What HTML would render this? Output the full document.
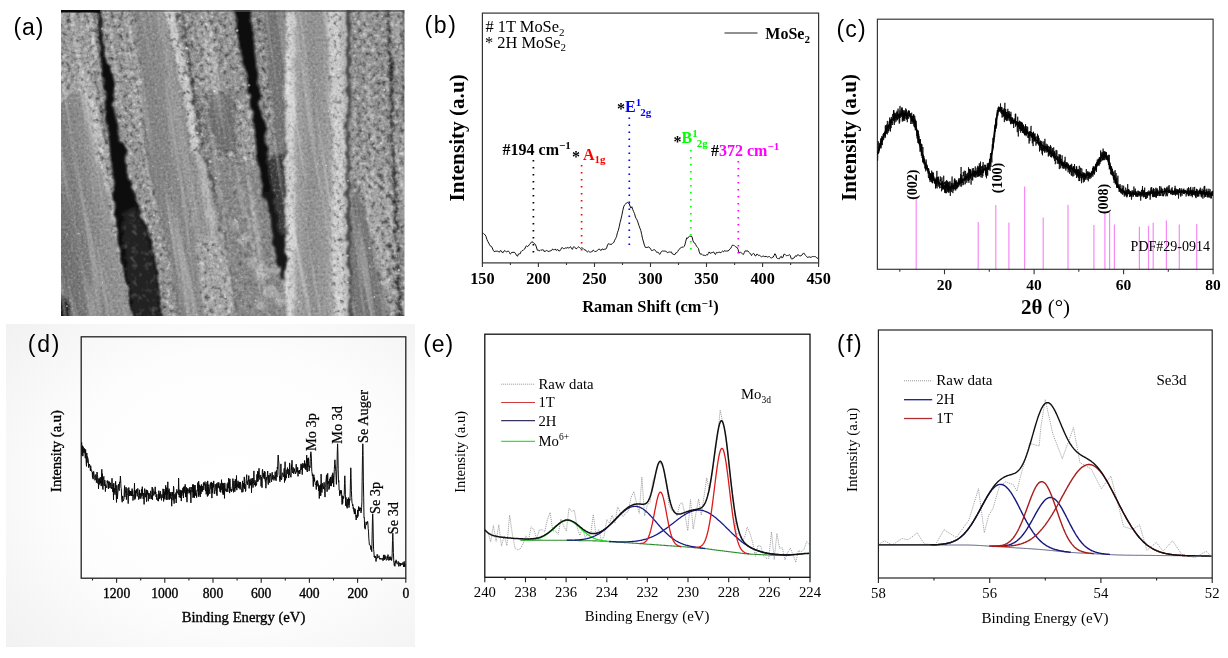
<!DOCTYPE html>
<html lang="en"><head><meta charset="utf-8"><title>MoSe2 characterization figure</title>
<style>html,body{margin:0;padding:0;background:#fff}body{width:1228px;height:658px;overflow:hidden}svg{display:block}text{white-space:pre}</style></head>
<body>
<svg width="1228" height="658" viewBox="0 0 1228 658">
<g opacity="0.999">
<defs>
<clipPath id="semclip"><rect x="61" y="10" width="343.5" height="306"/></clipPath>
<radialGradient id="vig" cx="0.55" cy="0.5" r="0.75">
 <stop offset="0" stop-color="#ffffff"/><stop offset="0.55" stop-color="#fdfdfd"/><stop offset="1" stop-color="#f1f1f1"/>
</radialGradient>
<linearGradient id="gf1" gradientUnits="userSpaceOnUse" x1="55" y1="210" x2="125" y2="197">
 <stop offset="0" stop-color="#707070"/><stop offset="0.35" stop-color="#808080"/><stop offset="0.7" stop-color="#949494"/><stop offset="1" stop-color="#868686"/>
</linearGradient>
<linearGradient id="gf2" gradientUnits="userSpaceOnUse" x1="140" y1="165" x2="210" y2="153">
 <stop offset="0" stop-color="#7c7c7c"/><stop offset="0.5" stop-color="#898989"/><stop offset="0.85" stop-color="#939393"/><stop offset="1" stop-color="#a4a4a4"/>
</linearGradient>
<linearGradient id="gf5" gradientUnits="userSpaceOnUse" x1="285.7" y1="0" x2="348" y2="0">
 <stop offset="0" stop-color="#c4c4c4"/><stop offset="0.16" stop-color="#a4a4a4"/><stop offset="0.4" stop-color="#8e8e8e"/><stop offset="0.62" stop-color="#979797"/><stop offset="0.8" stop-color="#a8a8a8"/><stop offset="1" stop-color="#b8b8b8"/>
</linearGradient>
<filter id="semblur" x="55" y="4" width="356" height="318" filterUnits="userSpaceOnUse"><feTurbulence type="fractalNoise" baseFrequency="0.09" numOctaves="2" seed="2" result="t"/><feDisplacementMap in="SourceGraphic" in2="t" scale="8" xChannelSelector="R" yChannelSelector="G" result="d"/><feGaussianBlur in="d" stdDeviation="1.0"/></filter>
<filter id="mblur" x="55" y="4" width="356" height="318" filterUnits="userSpaceOnUse"><feGaussianBlur stdDeviation="1.5"/></filter>
<filter id="fineW" x="0" y="0" width="1" height="1" color-interpolation-filters="sRGB">
 <feTurbulence type="fractalNoise" baseFrequency="0.38" numOctaves="2" seed="8"/>
 <feColorMatrix type="matrix" values="0 0 0 0 1  0 0 0 0 1  0 0 0 0 1  0.7 0 0 0 -0.37"/>
</filter>
<filter id="fineB" x="0" y="0" width="1" height="1" color-interpolation-filters="sRGB">
 <feTurbulence type="fractalNoise" baseFrequency="0.38" numOctaves="2" seed="8"/>
 <feColorMatrix type="matrix" values="0 0 0 0 0  0 0 0 0 0  0 0 0 0 0  -0.6 0 0 0 0.27"/>
</filter>
<filter id="streak" x="0" y="0" width="1" height="1" color-interpolation-filters="sRGB">
 <feTurbulence type="fractalNoise" baseFrequency="0.16 0.006" numOctaves="2" seed="5"/>
 <feColorMatrix type="matrix" values="0 0 0 0 1  0 0 0 0 1  0 0 0 0 1  1.1 0 0 0 -0.56"/>
</filter>
<filter id="grainW" x="0" y="0" width="1" height="1" color-interpolation-filters="sRGB">
 <feTurbulence type="fractalNoise" baseFrequency="0.21" numOctaves="2" seed="21"/>
 <feColorMatrix type="matrix" values="0 0 0 0 1  0 0 0 0 1  0 0 0 0 1  1.6 0 0 0 -0.86"/>
</filter>
<filter id="grainB" x="0" y="0" width="1" height="1" color-interpolation-filters="sRGB">
 <feTurbulence type="fractalNoise" baseFrequency="0.21" numOctaves="2" seed="21"/>
 <feColorMatrix type="matrix" values="0 0 0 0 0.05  0 0 0 0 0.05  0 0 0 0 0.05  -1.7 0 0 0 0.76"/>
</filter>
<filter id="grainG" x="0" y="0" width="1" height="1" color-interpolation-filters="sRGB">
 <feTurbulence type="fractalNoise" baseFrequency="0.16" numOctaves="2" seed="33"/>
 <feColorMatrix type="matrix" values="0 0 0 0 0.3  0 0 0 0 0.3  0 0 0 0 0.3  3 0 0 0 -1.55"/>
</filter>
<mask id="rough" maskUnits="userSpaceOnUse" x="61" y="10" width="343.5" height="306"><g filter="url(#mblur)"><rect x="55" y="4" width="356" height="318" fill="#000"/><polygon points="55,4 104,4 104,41 107,68 113,85 111,102 108,119 114,141 111,163 114,197 119,246 129,287 134,322 55,322" fill="#fff" /><polygon points="100,4 135.3,4 137,40 140.1,65.8 142.6,102.3 142,133.9 146,163 158,210 165,240 169,258 173,290 178,322 140,322 125,200 110,100" fill="#fff" /><polygon points="172,4 242,4 249,50 254,90 260,128 264,160 270,195 278,235 284,270 290,322 234,322 228,270 222,240 214,200 206,163 200,150 193,102 186,66 179,35" fill="#fff" /><polygon points="247,4 262,4 268,60 272,110 276,150 268,158 262,120 256,70 250,30" fill="#fff" /><polygon points="196,243 204,236 214,240 224,250 229,272 234,322 205,322 200,280" fill="#fff" /><rect x="351" y="4" width="60" height="318" fill="#fff"/><polyline points="168,8 175,35 182,66 189,102 196,150" fill="none" stroke="#fff" stroke-width="10" stroke-linecap="round" stroke-linejoin="round" /><polyline points="334,4 336,80 339,150 337,230 340,322" fill="none" stroke="#fff" stroke-width="12" stroke-linecap="round" stroke-linejoin="round" /><polyline points="288,4 289,322" fill="none" stroke="#ccc" stroke-width="5" stroke-linecap="round" stroke-linejoin="round" /><polygon points="206,163 264,160 270,195 278,235 284,270 290,322 234,322 228,270 222,240 214,200" fill="#6a6a6a" /><polygon points="55,104 66,93 74.5,87.7 84,91 91.5,102.3 96,130 101.2,165 106,180 111,197.5 118.2,246 128,287.5 133.5,322 55,322" fill="#000" /><polygon points="210,96 218,92 231,96 235,120 236,150 222,152 214,140 208,112" fill="#000" /><polygon points="351,200 358,190 366,214 372,250 380,280 384,300 392,322 351,322" fill="#000" /><polyline points="91.5,102.3 96,130 101.2,165 106,180 111,197.5 118.2,246 128,287.5 132.8,316" fill="none" stroke="#fff" stroke-width="4" stroke-linecap="round" stroke-linejoin="round" /><polygon points="98.2,4 98.4,17 99.8,37 101.5,56.5 103.5,78 105.5,92 107.5,114 108.5,130 110.5,152 112,174 114,197.5 118.5,246 128,287.5 133.5,322 163,322 159.6,287.5 152.3,246.1 135.3,197.5 126.5,174 125.5,152 117.5,130 113.5,114 112.5,92 113,78 106.5,56.5 102.6,37 100.2,17 99.8,4" fill="#000" /><polygon points="123,215 136,205 150,246 158,287 161,322 136,322 130,287 124,250" fill="#000" /></g></mask><mask id="lowgap" maskUnits="userSpaceOnUse" x="61" y="10" width="343.5" height="306"><g filter="url(#mblur)"><rect x="55" y="4" width="356" height="318" fill="#000"/><polygon points="123,215 136,205 150,246 158,287 161,322 136,322 130,287 124,250" fill="#fff" /></g></mask>
</defs>
<rect x="0" y="0" width="1228" height="658" fill="#fff"/>
<rect x="6" y="324" width="409" height="323" fill="url(#vig)"/>
<text x="27.8" y="352.2" font-family='"Liberation Sans", "DejaVu Sans", sans-serif' font-size="23" font-weight="normal" text-anchor="start" fill="#000" letter-spacing="1.8">(d)</text>
<rect x="81.2" y="336.8" width="324.6" height="241.4" fill="none" stroke="#222" stroke-width="1.3"/>
<path d="M405.8 578.2v4.6M357.6 578.2v4.6M309.4 578.2v4.6M261.2 578.2v4.6M213 578.2v4.6M164.8 578.2v4.6M116.6 578.2v4.6" stroke="#222" stroke-width="1.1" fill="none"/>
<path d="M381.7 578.2v2.3M333.5 578.2v2.3M285.3 578.2v2.3M237.1 578.2v2.3M188.9 578.2v2.3M140.7 578.2v2.3M92.5 578.2v2.3" stroke="#222" stroke-width="1.1" fill="none"/>
<text x="405.8" y="597.5" font-family='"Liberation Serif", "DejaVu Serif", serif' font-size="13.6" font-weight="normal" text-anchor="middle" fill="#000" stroke="#000" stroke-width="0.35">0</text>
<text x="357.6" y="597.5" font-family='"Liberation Serif", "DejaVu Serif", serif' font-size="13.6" font-weight="normal" text-anchor="middle" fill="#000" stroke="#000" stroke-width="0.35">200</text>
<text x="309.4" y="597.5" font-family='"Liberation Serif", "DejaVu Serif", serif' font-size="13.6" font-weight="normal" text-anchor="middle" fill="#000" stroke="#000" stroke-width="0.35">400</text>
<text x="261.2" y="597.5" font-family='"Liberation Serif", "DejaVu Serif", serif' font-size="13.6" font-weight="normal" text-anchor="middle" fill="#000" stroke="#000" stroke-width="0.35">600</text>
<text x="213" y="597.5" font-family='"Liberation Serif", "DejaVu Serif", serif' font-size="13.6" font-weight="normal" text-anchor="middle" fill="#000" stroke="#000" stroke-width="0.35">800</text>
<text x="164.8" y="597.5" font-family='"Liberation Serif", "DejaVu Serif", serif' font-size="13.6" font-weight="normal" text-anchor="middle" fill="#000" stroke="#000" stroke-width="0.35">1000</text>
<text x="116.6" y="597.5" font-family='"Liberation Serif", "DejaVu Serif", serif' font-size="13.6" font-weight="normal" text-anchor="middle" fill="#000" stroke="#000" stroke-width="0.35">1200</text>
<text x="243.5" y="621.6" font-family='"Liberation Serif", "DejaVu Serif", serif' font-size="14.7" font-weight="normal" text-anchor="middle" fill="#000" stroke="#000" stroke-width="0.35">Binding Energy (eV)</text>
<text x="61" y="451" font-family='"Liberation Serif", "DejaVu Serif", serif' font-size="14.6" font-weight="normal" text-anchor="middle" fill="#000" transform="rotate(-90 61 451)" stroke="#000" stroke-width="0.35">Intensity (a.u)</text>
<polyline points="81.4,444.3 81.7,442.5 82,455.5 82.3,445.6 82.6,448.6 82.9,456.2 83.2,446.7 83.5,448.8 83.8,452.8 84.1,451.3 84.4,448.4 84.7,453.3 85,453.4 85.3,458.2 85.6,449.4 85.9,454.2 86.2,462.7 86.5,466.4 86.8,453 87.1,462.7 87.4,456.6 87.7,457.8 88,458.4 88.3,461 88.6,467.7 88.9,467.2 89.2,465.1 89.5,464 89.8,466.3 90.1,466.5 90.4,471 90.7,465.7 91,469 91.3,469.3 91.6,470.2 91.9,472.1 92.2,472.3 92.5,477.5 92.8,471.9 93.1,479.2 93.4,471.7 93.7,471.3 94,474.1 94.3,475.6 94.6,475.6 94.9,480.3 95.2,480 95.5,477.7 95.8,474.5 96.1,475.9 96.4,482.6 96.7,478 97,472 97.3,474.9 97.6,475.8 97.9,483.4 98.2,478.5 98.5,488.8 98.8,482.5 99.1,480.6 99.4,478.5 99.7,484.5 100,479.5 100.3,477.2 100.6,483.2 100.9,481 101.2,486.1 101.5,480.9 101.8,469.3 102.1,484.8 102.4,473.7 102.7,488.2 103,489.5 103.3,480.2 103.6,477.2 103.9,476.4 104.2,486 104.5,481.6 104.8,480.1 105.1,481.7 105.4,491.6 105.7,484.5 106,486.3 106.3,486.5 106.6,487.7 106.9,488 107.2,480.7 107.5,482.9 107.8,480.7 108.1,481 108.4,488.9 108.7,482.2 109,484.1 109.3,481.6 109.6,482.2 109.9,488.1 110.2,483.1 110.5,483 110.8,487.3 111.1,487.4 111.4,488.8 111.7,486.3 112,478.3 112.3,489.1 112.6,489 112.9,492 113.2,483.9 113.5,499.9 113.8,483.2 114.1,492.7 114.4,490.1 114.7,488.2 115,494.7 115.3,490.2 115.6,481.3 115.9,486.7 116.2,494.2 116.5,502.4 116.8,485.3 117.1,492.1 117.4,498.9 117.7,495 118,490.5 118.3,485.7 118.6,484.1 118.9,488.9 119.2,490.7 119.5,481.9 119.8,483 120.1,482.1 120.4,476 120.7,480.5 121,487.9 121.3,488.6 121.6,496.9 121.9,500.2 122.2,502.2 122.5,496 122.8,496.2 123.1,499.5 123.4,500.8 123.7,499.6 124,498.5 124.3,490 124.6,485.6 124.9,497 125.2,492.6 125.5,492.8 125.8,489 126.1,487.1 126.4,499.6 126.7,495.3 127,488.3 127.3,495 127.6,494.7 127.9,495.7 128.2,503.6 128.5,493.2 128.8,487.5 129.1,493.6 129.4,490.5 129.7,496 130,494.5 130.3,495.1 130.6,491 130.9,495.5 131.2,491.3 131.5,496 131.8,492.3 132.1,488.6 132.4,496 132.7,490.5 133,500.5 133.3,495.9 133.6,496 133.9,494.4 134.2,493.7 134.5,483 134.8,499.6 135.1,490.3 135.4,498.4 135.7,491.1 136,493.4 136.3,493.1 136.6,489.3 136.9,493.3 137.2,496.4 137.5,492.3 137.8,488.4 138.1,491.6 138.4,495.4 138.7,499.6 139,498.1 139.3,495.6 139.6,489.8 139.9,498.5 140.2,494.5 140.5,493.3 140.8,498.6 141.1,497.3 141.4,496.8 141.7,489.2 142,491.7 142.3,486.7 142.6,495.5 142.9,494.7 143.2,498.9 143.5,495.6 143.8,493 144.1,504.4 144.4,490 144.7,488.6 145,492 145.3,497.2 145.6,493.2 145.9,492.8 146.2,489.7 146.5,501.7 146.8,492 147.1,490 147.4,494.4 147.7,491.3 148,493.9 148.3,501.2 148.6,493 148.9,494.8 149.2,493.4 149.5,494.2 149.8,498.9 150.1,497.6 150.4,493.6 150.7,490.9 151,494.6 151.3,499.1 151.6,495.2 151.9,494.7 152.2,487 152.5,499.8 152.8,488.4 153.1,489.3 153.4,493.5 153.7,495.4 154,495.4 154.3,491.7 154.6,493.7 154.9,492.4 155.2,486.8 155.5,494 155.8,491.9 156.1,497 156.4,494.4 156.7,499.5 157,498.3 157.3,499.2 157.6,500.6 157.9,498.2 158.2,494.2 158.5,501.2 158.8,490.7 159.1,494.8 159.4,498.9 159.7,493.6 160,498.2 160.3,491.2 160.6,492.4 160.9,497.4 161.2,498.1 161.5,500.3 161.8,494.5 162.1,496.2 162.4,497.7 162.7,496.9 163,488.8 163.3,492.1 163.6,501.4 163.9,489 164.2,497.6 164.5,492.7 164.8,499.3 165.1,491.1 165.4,494.9 165.7,485.3 166,494.4 166.3,499.5 166.6,487.7 166.9,500 167.2,491.3 167.5,494.3 167.8,481.8 168.1,499.5 168.4,490.5 168.7,492 169,488.6 169.3,489.9 169.6,499.7 169.9,492.1 170.2,498.5 170.5,493.6 170.8,496 171.1,492 171.4,496.3 171.7,506.2 172,497.3 172.3,496.6 172.6,492 172.9,498.8 173.2,500.3 173.5,486.2 173.8,487.6 174.1,503.6 174.4,495.8 174.7,494.4 175,496.3 175.3,498.7 175.6,497.3 175.9,492.6 176.2,503 176.5,493.5 176.8,489.4 177.1,490.8 177.4,492.7 177.7,491.5 178,492.3 178.3,494.6 178.6,478 178.9,489.4 179.2,497.3 179.5,495.5 179.8,489.7 180.1,489.9 180.4,498 180.7,491.5 181,490.2 181.3,501.1 181.6,490.8 181.9,495.6 182.2,492.2 182.5,492.6 182.8,487.9 183.1,488.4 183.4,498 183.7,486.9 184,493.3 184.3,486.5 184.6,490.8 184.9,491.7 185.2,484.3 185.5,497 185.8,490.9 186.1,497.2 186.4,487.3 186.7,495.7 187,502.2 187.3,492.4 187.6,488.4 187.9,493.5 188.2,491.9 188.5,490.2 188.8,490.6 189.1,488.4 189.4,493 189.7,489.2 190,487 190.3,494.6 190.6,490 190.9,502.9 191.2,489.5 191.5,487.3 191.8,488 192.1,492.2 192.4,487.2 192.7,484.5 193,497.8 193.3,484.5 193.6,497.1 193.9,490.8 194.2,485.2 194.5,497.7 194.8,489 195.1,485.2 195.4,490.1 195.7,495.7 196,492.8 196.3,493.4 196.6,497.6 196.9,490.5 197.2,491.2 197.5,488.3 197.8,482.6 198.1,488.6 198.4,496.6 198.7,481.2 199,495.3 199.3,490.2 199.6,484.8 199.9,489.2 200.2,497 200.5,486.1 200.8,492.3 201.1,493.9 201.4,484.5 201.7,491.4 202,490.9 202.3,486.2 202.6,491.5 202.9,486.6 203.2,485.6 203.5,482.5 203.8,489.9 204.1,486.1 204.4,485.4 204.7,482.6 205,481.6 205.3,484.2 205.6,491.1 205.9,483.9 206.2,494.3 206.5,489.4 206.8,488.2 207.1,482 207.4,496.5 207.7,480.9 208,490 208.3,495.4 208.6,486.7 208.9,484.5 209.2,487.5 209.5,491.8 209.8,493.9 210.1,490.4 210.4,482.8 210.7,484.6 211,488.6 211.3,481.9 211.6,486.6 211.9,498.1 212.2,482.9 212.5,493.1 212.8,483.5 213.1,486.2 213.4,487.5 213.7,480.9 214,487.4 214.3,493.8 214.6,491.2 214.9,491.1 215.2,484.2 215.5,487.3 215.8,488.9 216.1,491.1 216.4,494.2 216.7,483.4 217,495.8 217.3,486.7 217.6,486.9 217.9,482.5 218.2,487.8 218.5,487 218.8,482.4 219.1,486.8 219.4,488.7 219.7,486.2 220,491.7 220.3,483.5 220.6,492.3 220.9,487.3 221.2,489.9 221.5,479.7 221.8,488.8 222.1,488 222.4,492.6 222.7,482.9 223,494.6 223.3,483.3 223.6,494.4 223.9,491 224.2,484.9 224.5,498.4 224.8,482.9 225.1,487.6 225.4,489.3 225.7,490.6 226,489.2 226.3,491.8 226.6,490.2 226.9,488.1 227.2,483.6 227.5,486.3 227.8,491.9 228.1,482.4 228.4,488.2 228.7,478.2 229,484.3 229.3,480 229.6,493.1 229.9,478.9 230.2,486.2 230.5,490.5 230.8,489.9 231.1,490.6 231.4,491.9 231.7,489.1 232,490.7 232.3,486.6 232.6,486.6 232.9,478.6 233.2,487.4 233.5,492.4 233.8,483 234.1,481 234.4,486.8 234.7,491.5 235,491.8 235.3,479.2 235.6,488.2 235.9,483 236.2,487.2 236.5,475.5 236.8,490.1 237.1,483.9 237.4,486.6 237.7,484.8 238,480.8 238.3,487.9 238.6,483.2 238.9,482.2 239.2,488.3 239.5,484.8 239.8,481.9 240.1,489.4 240.4,482.3 240.7,484.8 241,488.3 241.3,489.2 241.6,490.3 241.9,492.3 242.2,484.8 242.5,480.9 242.8,492.1 243.1,490.8 243.4,483 243.7,487.5 244,482.5 244.3,476.9 244.6,488.8 244.9,485.5 245.2,484.4 245.5,491.5 245.8,490.3 246.1,480.6 246.4,478.4 246.7,474.7 247,483.4 247.3,481.5 247.6,484.8 247.9,483.1 248.2,480 248.5,481 248.8,475.6 249.1,488.4 249.4,480.2 249.7,485.4 250,479.4 250.3,482.7 250.6,485.2 250.9,480.9 251.2,478.4 251.5,492.7 251.8,481 252.1,484.5 252.4,481.4 252.7,478.1 253,487.6 253.3,483.3 253.6,483 253.9,470.9 254.2,482.6 254.5,485 254.8,482.4 255.1,480.3 255.4,486.4 255.7,482 256,483.4 256.3,485.4 256.6,485.2 256.9,474.4 257.2,481.9 257.5,476.8 257.8,471 258.1,481.4 258.4,472 258.7,477.8 259,468.3 259.3,475.1 259.6,477.5 259.9,479.6 260.2,477 260.5,475.2 260.8,475.2 261.1,486.3 261.4,477 261.7,478.6 262,487.7 262.3,470.9 262.6,469.4 262.9,474.1 263.2,476.9 263.5,473.4 263.8,478.4 264.1,478.1 264.4,471.3 264.7,479.2 265,471.7 265.3,481.5 265.6,479.2 265.9,488.2 266.2,481.9 266.5,477.1 266.8,479.5 267.1,478.5 267.4,474.4 267.7,471 268,482.7 268.3,484.6 268.6,475.4 268.9,476.3 269.2,475.2 269.5,482 269.8,482.8 270.1,473.2 270.4,475.6 270.7,474.6 271,478 271.3,480.5 271.6,481.8 271.9,475.6 272.2,472.2 272.5,479.2 272.8,479.4 273.1,475 273.4,477.3 273.7,478.1 274,480.4 274.3,476.6 274.6,478.5 274.9,477 275.2,471.7 275.5,479.3 275.8,476.5 276.1,480.8 276.4,470.4 276.7,472.6 277,477.1 277.3,467 277.6,469.1 277.9,459.9 278.2,455 278.5,460.1 278.8,462.1 279.1,474.2 279.4,475.4 279.7,480 280,481.7 280.3,476.7 280.6,479.2 280.9,463.9 281.2,477.3 281.5,479.8 281.8,478.7 282.1,475.7 282.4,472.9 282.7,472.8 283,474.5 283.3,476.3 283.6,476.9 283.9,473.8 284.2,468.4 284.5,482.5 284.8,470.1 285.1,461.7 285.4,480.4 285.7,478.5 286,474.6 286.3,478.1 286.6,475.6 286.9,469.6 287.2,473.9 287.5,467.6 287.8,470.2 288.1,469.1 288.4,473.8 288.7,477.9 289,469.9 289.3,474.9 289.6,462.9 289.9,467.7 290.2,475 290.5,476.9 290.8,476.7 291.1,477.2 291.4,464.7 291.7,469.7 292,460.2 292.3,471.2 292.6,473 292.9,470.2 293.2,467.4 293.5,473.6 293.8,474 294.1,472.1 294.4,468.6 294.7,471.5 295,471.6 295.3,472.3 295.6,473.9 295.9,470.8 296.2,464.2 296.5,469.5 296.8,472.4 297.1,468.6 297.4,471.5 297.7,467.3 298,476.4 298.3,472 298.6,470.6 298.9,473.3 299.2,473.2 299.5,470 299.8,474 300.1,472.3 300.4,470.1 300.7,469 301,463.8 301.3,469.6 301.6,469.4 301.9,464.6 302.2,474.6 302.5,468.1 302.8,463.1 303.1,466 303.4,467.6 303.7,467.4 304,463.9 304.3,467.5 304.6,460.5 304.9,465.1 305.2,468.9 305.5,463.7 305.8,469.6 306.1,470.1 306.4,463.6 306.7,455.1 307,470.1 307.3,472 307.6,458.4 307.9,466.5 308.2,466.9 308.5,457.8 308.8,462.6 309.1,471.1 309.4,467.3 309.7,465.8 310,467.8 310.3,458.5 310.6,453.3 310.9,451.8 311.2,454.1 311.5,461.2 311.8,471.3 312.1,473.4 312.4,476 312.7,473.8 313,479.5 313.3,486.6 313.6,476.2 313.9,474.8 314.2,481.2 314.5,477.7 314.8,481.9 315.1,482.2 315.4,484.8 315.7,484.3 316,485.4 316.3,489.5 316.6,480.8 316.9,485.1 317.2,486.4 317.5,480.5 317.8,481.8 318.1,484.5 318.4,483.9 318.7,490.8 319,487.1 319.3,498.5 319.6,485.5 319.9,485.9 320.2,496 320.5,484.6 320.8,495.5 321.1,474.1 321.4,483.8 321.7,491.9 322,492.5 322.3,487.8 322.6,483.3 322.9,485.2 323.2,488.7 323.5,486.7 323.8,489.1 324.1,482.3 324.4,488.4 324.7,490 325,497.1 325.3,487.5 325.6,487.3 325.9,480.9 326.2,478.8 326.5,474.8 326.8,485.6 327.1,491.7 327.4,483 327.7,473.3 328,483.8 328.3,482.1 328.6,481.2 328.9,489.6 329.2,487.3 329.5,488.2 329.8,478.8 330.1,483.3 330.4,477.2 330.7,486 331,476.8 331.3,486.1 331.6,481.9 331.9,481.7 332.2,474.8 332.5,483.2 332.8,472.8 333.1,474.9 333.4,475.8 333.7,487 334,477.1 334.3,469.7 334.6,464.2 334.9,459.8 335.2,463.5 335.5,468.1 335.8,471.4 336.1,477 336.4,484.4 336.7,474.8 337,465.7 337.3,450.9 337.6,443.8 337.9,453 338.2,469.6 338.5,482.2 338.8,480.5 339.1,490.1 339.4,490.2 339.7,495.8 340,494.7 340.3,490.2 340.6,493.2 340.9,493.8 341.2,492.9 341.5,490.5 341.8,498.3 342.1,504.5 342.4,495.7 342.7,503.4 343,496.2 343.3,496.9 343.6,498.7 343.9,496.8 344.2,495.4 344.5,483.4 344.8,475.8 345.1,483.1 345.4,494.4 345.7,505.8 346,497.4 346.3,501.9 346.6,506.5 346.9,505.5 347.2,508.3 347.5,499.2 347.8,499.9 348.1,505.3 348.4,497.6 348.7,505.2 349,507.6 349.3,505.6 349.6,498.9 349.9,500.4 350.2,493.3 350.5,478.2 350.8,467.8 351.1,477.5 351.4,490.5 351.7,497.7 352,503 352.3,503.5 352.6,505.7 352.9,504.5 353.2,508.8 353.5,507.5 353.8,511.4 354.1,511.2 354.4,514.1 354.7,508.5 355,509.4 355.3,509.1 355.6,514.6 355.9,517.7 356.2,520 356.5,516.7 356.8,514.9 357.1,518 357.4,514.3 357.7,509.9 358,516.4 358.3,511.2 358.6,506.5 358.9,511.1 359.2,508.1 359.5,510.7 359.8,507.5 360.1,508.8 360.4,507.8 360.7,509.9 361,512.9 361.3,511.7 361.6,507.4 361.9,501.7 362.2,476.2 362.5,455.3 362.8,443.8 363.1,455.7 363.4,481.8 363.7,497.7 364,517.6 364.3,517.2 364.6,527.5 364.9,527 365.2,529.2 365.5,525.4 365.8,525.5 366.1,521.8 366.4,524.6 366.7,524.4 367,522.8 367.3,523.2 367.6,521.4 367.9,523.3 368.2,528.5 368.5,531.1 368.8,538.1 369.1,541.5 369.4,544.9 369.7,544.9 370,545 370.3,545.2 370.6,547.2 370.9,549.7 371.2,546.3 371.5,549.4 371.8,551.7 372.1,537 372.4,521.9 372.7,514 373,522.1 373.3,538.1 373.6,549.3 373.9,551.8 374.2,556.9 374.5,555.8 374.8,557.7 375.1,556.2 375.4,557.9 375.7,556.3 376,561.5 376.3,558.5 376.6,558.9 376.9,556.7 377.2,554.3 377.5,556.6 377.8,558.1 378.1,557.6 378.4,556.6 378.7,556.4 379,555.7 379.3,557.2 379.6,559.1 379.9,559.3 380.2,559.4 380.5,558.1 380.8,558.8 381.1,558.4 381.4,559.2 381.7,558.9 382,559.5 382.3,558.2 382.6,558.3 382.9,560.8 383.2,560.6 383.5,554.9 383.8,559.1 384.1,559.1 384.4,559.9 384.7,554.9 385,555.6 385.3,557.7 385.6,558.6 385.9,556.5 386.2,560.3 386.5,560.2 386.8,559.6 387.1,559.9 387.4,556.5 387.7,558.2 388,554.6 388.3,560.1 388.6,560.4 388.9,559.2 389.2,556.9 389.5,558.6 389.8,560.2 390.1,556.5 390.4,559 390.7,559.8 391,557.4 391.3,557.7 391.6,560.5 391.9,558.7 392.2,553.6 392.5,540.4 392.8,533.2 393.1,540.6 393.4,552.6 393.7,559.9 394,563.3 394.3,565.5 394.6,563.3 394.9,566.3 395.2,561 395.5,562.9 395.8,563.3 396.1,559.8 396.4,560.7 396.7,562.9 397,563.6 397.3,564.2 397.6,563.7 397.9,563.1 398.2,561.4 398.5,563.8 398.8,566.4 399.1,564.5 399.4,562.7 399.7,564.1 400,564.6 400.3,566.1 400.6,563.1 400.9,564.9 401.2,565 401.5,563.6 401.8,564 402.1,563.5 402.4,564.4 402.7,564.8 403,562.3 403.3,564.2 403.6,567 403.9,564.5 404.2,561.4 404.5,567 404.8,564.2 405.1,564.9 405.4,565.5" fill="none" stroke="#0a0a0a" stroke-width="1.0" stroke-linejoin="round" />
<text x="316.4" y="450.9" font-family='"Liberation Serif", "DejaVu Serif", serif' font-size="14.3" font-weight="normal" text-anchor="start" fill="#000" transform="rotate(-90 316.4 450.9)" stroke="#000" stroke-width="0.25">Mo 3p</text>
<text x="342.2" y="443.8" font-family='"Liberation Serif", "DejaVu Serif", serif' font-size="14.3" font-weight="normal" text-anchor="start" fill="#000" transform="rotate(-90 342.2 443.8)" stroke="#000" stroke-width="0.25">Mo 3d</text>
<text x="368.4" y="442.9" font-family='"Liberation Serif", "DejaVu Serif", serif' font-size="14.3" font-weight="normal" text-anchor="start" fill="#000" transform="rotate(-90 368.4 442.9)" stroke="#000" stroke-width="0.25">Se Auger</text>
<text x="379.6" y="514" font-family='"Liberation Serif", "DejaVu Serif", serif' font-size="14.3" font-weight="normal" text-anchor="start" fill="#000" transform="rotate(-90 379.6 514)" stroke="#000" stroke-width="0.25">Se 3p</text>
<text x="398" y="534.2" font-family='"Liberation Serif", "DejaVu Serif", serif' font-size="14.3" font-weight="normal" text-anchor="start" fill="#000" transform="rotate(-90 398 534.2)" stroke="#000" stroke-width="0.25">Se 3d</text>
<text x="13.4" y="35.4" font-family='"Liberation Sans", "DejaVu Sans", sans-serif' font-size="23" font-weight="normal" text-anchor="start" fill="#000" letter-spacing="1.0">(a)</text>
<g clip-path="url(#semclip)"><g filter="url(#semblur)">
<rect x="55" y="4" width="356" height="318" fill="#8c8c8c"/>
<polygon points="55,4 104,4 104,41 107,68 113,85 111,102 108,119 114,141 111,163 114,197 119,246 129,287 134,322 55,322" fill="#999999" />
<polyline points="97,8 100,41 99,62 100,80 104,102 104,120 108,140" fill="none" stroke="#6c6c6c" stroke-width="9" stroke-linecap="round" stroke-linejoin="round" opacity="0.8"/>
<polygon points="55,104 66,93 74.5,87.7 84,91 91.5,102.3 96,130 101.2,165 106,180 111,197.5 118.2,246 128,287.5 133.5,322 55,322" fill="url(#gf1)" />
<polyline points="91.5,102.3 96,130 101.2,165 106,180 111,197.5 118.2,246 128,287.5 132.8,316" fill="none" stroke="#b9b9b9" stroke-width="3" stroke-linecap="round" stroke-linejoin="round" />
<polyline points="57,106 66,94 74.5,88.7 84,92 91.5,103" fill="none" stroke="#c2c2c2" stroke-width="2" stroke-linecap="round" stroke-linejoin="round" />
<polygon points="55,290 66,296 70,322 55,322" fill="#1a1a1a" />
<polygon points="100,4 135.3,4 137,40 140.1,65.8 142.6,102.3 142,133.9 146,163 158,210 165,240 169,258 173,290 178,322 140,322 125,200 110,100" fill="#939393" />
<polygon points="135.3,4 172,4 179,35 186,66 193,102 200,150 206,163 214,200 222,240 228,270 234,322 178,322 173,290 169,258 165,240 158,210 146,163 142,133.9 142.6,102.3 140.1,65.8 137,40" fill="url(#gf2)" />
<polyline points="158,4 166,50 176,110 187,170 198,230 210,322" fill="none" stroke="#a0a0a0" stroke-width="7" stroke-linecap="round" stroke-linejoin="round" opacity="0.7"/>
<polyline points="168,8 175,35 182,66 189,102 196,150" fill="none" stroke="#c6c6c6" stroke-width="9.5" stroke-linecap="round" stroke-linejoin="round" />
<polyline points="196,150 202,170 209,205 215,240" fill="none" stroke="#b4b4b4" stroke-width="5" stroke-linecap="round" stroke-linejoin="round" />
<polygon points="196,243 204,236 214,240 224,250 229,272 234,322 205,322 200,280" fill="#a4a4a4" />
<polygon points="172,4 242,4 249,50 254,90 260,128 264,160 270,195 278,235 284,270 290,322 234,322 228,270 222,240 214,200 206,163 200,150 193,102 186,66 179,35" fill="#868686" />
<polygon points="176,4 240,4 246,50 250,88 214,92 200,96 190,70 183,35" fill="#929292" />
<polygon points="210,96 218,92 231,96 235,120 236,150 222,152 214,140 208,112" fill="#6f6f6f" />
<polygon points="236,100 250,92 256,128 262,160 248,170 240,150" fill="#999999" />
<polyline points="184,8 189,54 196,102 202,151 209,170 217,205 226,250" fill="none" stroke="#4e4e4e" stroke-width="3.2" stroke-linecap="round" stroke-linejoin="round" />
<polyline points="226,250 232,285 236,316" fill="none" stroke="#6a6a6a" stroke-width="2.5" stroke-linecap="round" stroke-linejoin="round" />
<circle cx="262" cy="272" r="8" fill="#a8a8a8"/>
<circle cx="252" cy="262" r="5" fill="#a8a8a8"/>
<circle cx="270" cy="292" r="7" fill="#a8a8a8"/>
<circle cx="280" cy="300" r="6" fill="#a8a8a8"/>
<circle cx="244" cy="240" r="6" fill="#a8a8a8"/>
<circle cx="236" cy="225" r="5" fill="#a8a8a8"/>
<circle cx="275" cy="270" r="5" fill="#a8a8a8"/>
<circle cx="258" cy="305" r="5" fill="#a8a8a8"/>
<polygon points="244,4 288,4 288,322 286,322 284,270 278,235 270,195 264,160 260,128 254,90 249,50" fill="#747474" />
<polygon points="247,4 262,4 268,60 272,110 276,150 268,158 262,120 256,70 250,30" fill="#8a8a8a" />
<polygon points="264,160 288,150 288,282 283,270 278,235 270,195" fill="#3c3c3c" />
<polygon points="98.2,4 98.4,17 99.8,37 101.5,56.5 103.5,78 105.5,92 107.5,114 108.5,130 110.5,152 112,174 114,197.5 118.5,246 128,287.5 133.5,322 163,322 159.6,287.5 152.3,246.1 135.3,197.5 126.5,174 125.5,152 117.5,130 113.5,114 112.5,92 113,78 106.5,56.5 102.6,37 100.2,17 99.8,4" fill="#1a1a1a" />
<polygon points="285.7,4 348,4 348.5,322 285.7,322" fill="url(#gf5)" />
<polyline points="334,4 336,80 339,150 337,230 340,322" fill="none" stroke="#cdcdcd" stroke-width="11" stroke-linecap="round" stroke-linejoin="round" opacity="0.85"/>
<polyline points="290.5,4 290.5,322" fill="none" stroke="#cccccc" stroke-width="8.5" stroke-linecap="round" stroke-linejoin="round" />
<polyline points="349,4 348,160 349.5,322" fill="none" stroke="#5a5a5a" stroke-width="3.0" stroke-linecap="round" stroke-linejoin="round" />
<polygon points="351,4 411,4 411,322 351,322" fill="#909090" />
<polygon points="351,200 358,190 366,214 372,250 380,280 384,300 392,322 351,322" fill="#767676" />
<polygon points="366,170 398,168 400,300 388,296 381,275 373,246 367,212" fill="#a2a2a2" />
<polyline points="388.5,4 391,100 395,200 400.5,322" fill="none" stroke="#343434" stroke-width="3.4" stroke-linecap="round" stroke-linejoin="round" />
<polyline points="404.5,4 404.5,120" fill="none" stroke="#555" stroke-width="3" stroke-linecap="round" stroke-linejoin="round" />
<ellipse cx="383" cy="188" rx="2" ry="2.8" fill="#3a3a3a" transform="rotate(-20 383 188)"/>
<ellipse cx="389" cy="196" rx="2" ry="2.8" fill="#3a3a3a" transform="rotate(-20 389 196)"/>
<ellipse cx="392" cy="212" rx="2" ry="2.8" fill="#3a3a3a" transform="rotate(-20 392 212)"/>
<ellipse cx="386" cy="222" rx="2" ry="2.8" fill="#3a3a3a" transform="rotate(-20 386 222)"/>
<ellipse cx="393" cy="232" rx="2" ry="2.8" fill="#3a3a3a" transform="rotate(-20 393 232)"/>
<ellipse cx="388" cy="246" rx="2" ry="2.8" fill="#3a3a3a" transform="rotate(-20 388 246)"/>
<ellipse cx="394" cy="258" rx="2" ry="2.8" fill="#3a3a3a" transform="rotate(-20 394 258)"/>
<ellipse cx="390" cy="270" rx="2" ry="2.8" fill="#3a3a3a" transform="rotate(-20 390 270)"/>
<ellipse cx="396" cy="282" rx="2" ry="2.8" fill="#3a3a3a" transform="rotate(-20 396 282)"/>
<ellipse cx="384" cy="208" rx="2" ry="2.8" fill="#3a3a3a" transform="rotate(-20 384 208)"/>
<ellipse cx="380" cy="176" rx="2" ry="2.8" fill="#3a3a3a" transform="rotate(-20 380 176)"/>
<ellipse cx="391" cy="178" rx="2" ry="2.8" fill="#3a3a3a" transform="rotate(-20 391 178)"/>
</g>
<rect x="61" y="10" width="343.5" height="306" filter="url(#fineW)"/><rect x="61" y="10" width="343.5" height="306" filter="url(#fineB)"/>
<g transform="rotate(-9 230 160)"><rect x="20" y="-40" width="440" height="420" filter="url(#streak)"/></g>
<g mask="url(#rough)"><rect x="61" y="10" width="343.5" height="306" filter="url(#grainW)"/><rect x="61" y="10" width="343.5" height="306" filter="url(#grainB)"/></g>
<g filter="url(#semblur)">
<polygon points="98.2,4 98.4,17 99.8,37 101.5,56.5 103.5,78 105.5,92 107.5,114 108.5,130 110.5,152 112,174 114,197.5 118.5,246 128,287.5 133.5,322 163,322 159.6,287.5 152.3,246.1 135.3,197.5 126.5,174 125.5,152 117.5,130 113.5,114 112.5,92 113,78 106.5,56.5 102.6,37 100.2,17 99.8,4" fill="#0d0d0d" />
<polygon points="123,215 136,205 150,246 158,287 161,322 136,322 130,287 124,250" fill="#212121" />
<polygon points="232,4 249,4 252.5,30 257.5,78 261,110 264,130 255,130 249,90 243,60 237,30" fill="#0b0b0b" />
<polyline points="259.5,122 262,160 269,195" fill="none" stroke="#101010" stroke-width="10" stroke-linecap="round" stroke-linejoin="round" />
<polyline points="269,195 276.5,235 281.5,265" fill="none" stroke="#141414" stroke-width="7.5" stroke-linecap="round" stroke-linejoin="round" />
<polyline points="282,236 283.5,276" fill="none" stroke="#161616" stroke-width="4.5" stroke-linecap="round" stroke-linejoin="round" />
<polyline points="349,4 348,160 349.5,322" fill="none" stroke="#444444" stroke-width="2.2" stroke-linecap="round" stroke-linejoin="round" />
</g>
<g mask="url(#lowgap)"><rect x="61" y="10" width="343.5" height="306" filter="url(#grainG)"/></g>
<circle cx="172.8" cy="56.9" r="1" fill="#e6e6e6" opacity="0.3"/>
<circle cx="245.3" cy="122.2" r="0.5" fill="#e6e6e6" opacity="0.6"/>
<circle cx="74.8" cy="142.8" r="0.6" fill="#e6e6e6" opacity="0.3"/>
<circle cx="207.2" cy="262.4" r="0.6" fill="#e6e6e6" opacity="0.4"/>
<circle cx="276.6" cy="299.1" r="1" fill="#e6e6e6" opacity="0.5"/>
<circle cx="395.9" cy="25.2" r="1.2" fill="#e6e6e6" opacity="0.4"/>
<circle cx="111.3" cy="46.8" r="0.7" fill="#e6e6e6" opacity="0.7"/>
<circle cx="189.4" cy="177.5" r="0.6" fill="#e6e6e6" opacity="0.3"/>
<circle cx="169.4" cy="189" r="0.9" fill="#e6e6e6" opacity="0.4"/>
<circle cx="333.7" cy="223.5" r="0.7" fill="#e6e6e6" opacity="0.6"/>
<circle cx="241.6" cy="277" r="1.1" fill="#e6e6e6" opacity="0.4"/>
<circle cx="397.2" cy="46.9" r="0.8" fill="#e6e6e6" opacity="0.7"/>
<circle cx="290.5" cy="243.4" r="1" fill="#e6e6e6" opacity="0.7"/>
<circle cx="169.3" cy="222.4" r="1" fill="#e6e6e6" opacity="0.6"/>
<circle cx="218" cy="266.4" r="1.3" fill="#e6e6e6" opacity="0.5"/>
<circle cx="289.1" cy="29.4" r="1.1" fill="#e6e6e6" opacity="0.6"/>
<circle cx="401.6" cy="260.9" r="0.7" fill="#e6e6e6" opacity="0.5"/>
<circle cx="290.7" cy="17.9" r="0.9" fill="#e6e6e6" opacity="0.4"/>
<circle cx="102" cy="28.9" r="1.1" fill="#e6e6e6" opacity="0.4"/>
<circle cx="146.7" cy="129.8" r="1.2" fill="#e6e6e6" opacity="0.3"/>
<circle cx="215.6" cy="178" r="1.2" fill="#e6e6e6" opacity="0.7"/>
<circle cx="357.5" cy="95.6" r="0.8" fill="#e6e6e6" opacity="0.5"/>
<circle cx="364.4" cy="302.2" r="0.6" fill="#e6e6e6" opacity="0.4"/>
<circle cx="141.3" cy="81.9" r="0.9" fill="#e6e6e6" opacity="0.6"/>
<circle cx="151.9" cy="12.2" r="0.8" fill="#e6e6e6" opacity="0.5"/>
<circle cx="255.7" cy="300.7" r="1.1" fill="#e6e6e6" opacity="0.6"/>
<circle cx="369.6" cy="248.1" r="1.2" fill="#e6e6e6" opacity="0.7"/>
<circle cx="196.2" cy="132.3" r="0.6" fill="#e6e6e6" opacity="0.6"/>
<circle cx="83.3" cy="31.5" r="0.7" fill="#e6e6e6" opacity="0.4"/>
<circle cx="178.3" cy="27" r="0.5" fill="#e6e6e6" opacity="0.4"/>
<circle cx="96.7" cy="121.5" r="0.5" fill="#e6e6e6" opacity="0.7"/>
<circle cx="272" cy="56.2" r="0.7" fill="#e6e6e6" opacity="0.5"/>
<circle cx="186.5" cy="48.3" r="1.2" fill="#e6e6e6" opacity="0.8"/>
<circle cx="221.4" cy="158.1" r="0.6" fill="#e6e6e6" opacity="0.4"/>
<circle cx="179.2" cy="91.5" r="1.2" fill="#e6e6e6" opacity="0.4"/>
<circle cx="69.9" cy="300.1" r="0.9" fill="#e6e6e6" opacity="0.4"/>
<circle cx="396.6" cy="273.5" r="1.1" fill="#e6e6e6" opacity="0.4"/>
<circle cx="187.4" cy="61.8" r="1.1" fill="#e6e6e6" opacity="0.6"/>
<circle cx="328.4" cy="111.2" r="0.7" fill="#e6e6e6" opacity="0.7"/>
<circle cx="398.8" cy="270.2" r="1.1" fill="#e6e6e6" opacity="0.7"/>
<circle cx="315" cy="79.9" r="0.9" fill="#e6e6e6" opacity="0.5"/>
<circle cx="71.9" cy="19.5" r="0.7" fill="#e6e6e6" opacity="0.4"/>
<circle cx="298.8" cy="301.8" r="0.9" fill="#e6e6e6" opacity="0.8"/>
<circle cx="399.9" cy="301.3" r="0.8" fill="#e6e6e6" opacity="0.4"/>
<circle cx="139.6" cy="70.8" r="0.7" fill="#e6e6e6" opacity="0.6"/>
<circle cx="369.9" cy="266.5" r="0.9" fill="#e6e6e6" opacity="0.6"/>
<circle cx="335.5" cy="36.8" r="1" fill="#e6e6e6" opacity="0.8"/>
<circle cx="329.5" cy="239" r="0.9" fill="#e6e6e6" opacity="0.4"/>
<circle cx="331.9" cy="112.1" r="1.1" fill="#e6e6e6" opacity="0.8"/>
<circle cx="197.4" cy="133" r="1.3" fill="#e6e6e6" opacity="0.7"/>
<circle cx="120.1" cy="49.6" r="0.6" fill="#e6e6e6" opacity="0.8"/>
<circle cx="337.8" cy="55.4" r="1.2" fill="#e6e6e6" opacity="0.8"/>
<circle cx="286.8" cy="117.5" r="0.9" fill="#e6e6e6" opacity="0.4"/>
<circle cx="66.9" cy="306.2" r="1" fill="#e6e6e6" opacity="0.6"/>
<circle cx="381.3" cy="142.9" r="1.2" fill="#e6e6e6" opacity="0.7"/>
<circle cx="134.2" cy="87.6" r="0.7" fill="#e6e6e6" opacity="0.4"/>
<circle cx="262.6" cy="89.8" r="0.8" fill="#e6e6e6" opacity="0.4"/>
<circle cx="373.2" cy="118.6" r="0.9" fill="#e6e6e6" opacity="0.6"/>
<circle cx="371.3" cy="138.9" r="1.2" fill="#e6e6e6" opacity="0.6"/>
<circle cx="243.9" cy="170.1" r="0.5" fill="#e6e6e6" opacity="0.5"/>
<circle cx="124.6" cy="12.2" r="1.1" fill="#e6e6e6" opacity="0.4"/>
<circle cx="223.9" cy="231.5" r="0.9" fill="#e6e6e6" opacity="0.5"/>
<circle cx="239.3" cy="179.9" r="1.1" fill="#e6e6e6" opacity="0.4"/>
<circle cx="326.1" cy="165.3" r="0.9" fill="#e6e6e6" opacity="0.7"/>
<circle cx="374.1" cy="145.7" r="1" fill="#e6e6e6" opacity="0.6"/>
<circle cx="237.2" cy="221.6" r="0.9" fill="#e6e6e6" opacity="0.6"/>
<circle cx="225.5" cy="297.2" r="1.1" fill="#e6e6e6" opacity="0.7"/>
<circle cx="384.2" cy="89.9" r="0.9" fill="#e6e6e6" opacity="0.8"/>
<circle cx="349.3" cy="52.7" r="0.6" fill="#e6e6e6" opacity="0.5"/>
<circle cx="86.8" cy="84.2" r="0.6" fill="#e6e6e6" opacity="0.6"/>
<circle cx="330.1" cy="283.7" r="0.6" fill="#e6e6e6" opacity="0.7"/>
<circle cx="287.8" cy="54.5" r="1.2" fill="#e6e6e6" opacity="0.8"/>
<circle cx="228.6" cy="311.9" r="1.2" fill="#e6e6e6" opacity="0.4"/>
<circle cx="209.6" cy="167.7" r="0.8" fill="#e6e6e6" opacity="0.4"/>
<circle cx="170.9" cy="230.5" r="0.5" fill="#e6e6e6" opacity="0.6"/>
<circle cx="212.6" cy="16.5" r="0.8" fill="#e6e6e6" opacity="0.6"/>
<circle cx="237.2" cy="30.5" r="1.3" fill="#e6e6e6" opacity="0.7"/>
<circle cx="394.3" cy="42.9" r="0.7" fill="#e6e6e6" opacity="0.3"/>
<circle cx="328.4" cy="93.2" r="0.6" fill="#e6e6e6" opacity="0.5"/>
<circle cx="373.7" cy="260" r="0.7" fill="#e6e6e6" opacity="0.4"/>
<circle cx="376.4" cy="184.5" r="1.1" fill="#e6e6e6" opacity="0.3"/>
<circle cx="81.7" cy="220.2" r="0.8" fill="#e6e6e6" opacity="0.3"/>
<circle cx="382.9" cy="203.9" r="1.1" fill="#e6e6e6" opacity="0.3"/>
<circle cx="354.8" cy="31.3" r="1.2" fill="#e6e6e6" opacity="0.5"/>
<circle cx="178" cy="179.1" r="1.2" fill="#e6e6e6" opacity="0.4"/>
<circle cx="106.2" cy="171.2" r="0.7" fill="#e6e6e6" opacity="0.4"/>
<circle cx="117.2" cy="26.3" r="0.7" fill="#e6e6e6" opacity="0.5"/>
<circle cx="166.3" cy="241.9" r="0.7" fill="#e6e6e6" opacity="0.6"/>
<circle cx="122.8" cy="116.5" r="0.5" fill="#e6e6e6" opacity="0.4"/>
<circle cx="67.2" cy="233.9" r="0.9" fill="#e6e6e6" opacity="0.4"/>
<circle cx="224.4" cy="295.1" r="0.6" fill="#e6e6e6" opacity="0.7"/>
<circle cx="209.8" cy="161.5" r="1.2" fill="#e6e6e6" opacity="0.5"/>
<circle cx="235.3" cy="220.1" r="1.3" fill="#e6e6e6" opacity="0.5"/>
<circle cx="346.6" cy="225.8" r="1" fill="#e6e6e6" opacity="0.5"/>
<circle cx="180.9" cy="27.5" r="0.6" fill="#e6e6e6" opacity="0.3"/>
<circle cx="315.4" cy="88.7" r="0.6" fill="#e6e6e6" opacity="0.3"/>
<circle cx="349.7" cy="275.6" r="1" fill="#e6e6e6" opacity="0.4"/>
<circle cx="144.8" cy="100.1" r="0.9" fill="#e6e6e6" opacity="0.4"/>
<circle cx="214.5" cy="91" r="1.3" fill="#e6e6e6" opacity="0.8"/>
<circle cx="249.1" cy="85.3" r="1.3" fill="#e6e6e6" opacity="0.5"/>
<circle cx="184" cy="11.3" r="0.8" fill="#e6e6e6" opacity="0.5"/>
<circle cx="233.9" cy="72.1" r="0.9" fill="#e6e6e6" opacity="0.3"/>
<circle cx="152.3" cy="38.3" r="0.8" fill="#e6e6e6" opacity="0.3"/>
<circle cx="69.7" cy="103.5" r="0.7" fill="#e6e6e6" opacity="0.6"/>
<circle cx="243" cy="239.2" r="1" fill="#e6e6e6" opacity="0.7"/>
<circle cx="362.6" cy="129.4" r="0.8" fill="#e6e6e6" opacity="0.8"/>
<circle cx="113.1" cy="231.1" r="1" fill="#e6e6e6" opacity="0.3"/>
<circle cx="347.7" cy="282.2" r="1" fill="#e6e6e6" opacity="0.7"/>
<circle cx="339.8" cy="53.3" r="0.9" fill="#e6e6e6" opacity="0.6"/>
<circle cx="347.5" cy="255.6" r="1.2" fill="#e6e6e6" opacity="0.6"/>
<circle cx="367.3" cy="218.6" r="1.1" fill="#e6e6e6" opacity="0.4"/>
<circle cx="72.7" cy="51.5" r="0.8" fill="#e6e6e6" opacity="0.4"/>
<circle cx="347.9" cy="180.8" r="1" fill="#e6e6e6" opacity="0.6"/>
<circle cx="294.8" cy="159.7" r="0.5" fill="#e6e6e6" opacity="0.7"/>
<circle cx="317.9" cy="163.9" r="0.9" fill="#e6e6e6" opacity="0.6"/>
<circle cx="84.6" cy="235" r="0.7" fill="#e6e6e6" opacity="0.3"/>
<circle cx="152.8" cy="232.7" r="0.7" fill="#e6e6e6" opacity="0.7"/>
<circle cx="395.7" cy="161.2" r="0.8" fill="#e6e6e6" opacity="0.5"/>
<circle cx="295.8" cy="244.2" r="1" fill="#e6e6e6" opacity="0.6"/>
<circle cx="88.5" cy="55.8" r="0.7" fill="#e6e6e6" opacity="0.7"/>
<circle cx="166.1" cy="183.6" r="0.5" fill="#e6e6e6" opacity="0.3"/>
<circle cx="153.9" cy="215.3" r="1.1" fill="#e6e6e6" opacity="0.6"/>
<circle cx="161.5" cy="168" r="0.9" fill="#e6e6e6" opacity="0.5"/>
<circle cx="102.5" cy="282.7" r="0.7" fill="#e6e6e6" opacity="0.8"/>
<circle cx="382.2" cy="16.3" r="0.9" fill="#e6e6e6" opacity="0.7"/>
<circle cx="393.1" cy="147.6" r="0.7" fill="#e6e6e6" opacity="0.4"/>
<circle cx="385.4" cy="75.1" r="1" fill="#e6e6e6" opacity="0.4"/>
<circle cx="241.2" cy="300.6" r="0.6" fill="#e6e6e6" opacity="0.7"/>
<circle cx="236" cy="280.6" r="1.1" fill="#e6e6e6" opacity="0.4"/>
<circle cx="369" cy="158.8" r="0.5" fill="#e6e6e6" opacity="0.3"/>
<circle cx="230.2" cy="148" r="0.7" fill="#e6e6e6" opacity="0.4"/>
<circle cx="179.6" cy="107.1" r="1.2" fill="#e6e6e6" opacity="0.3"/>
<circle cx="318.8" cy="266.1" r="0.6" fill="#e6e6e6" opacity="0.8"/>
<circle cx="305.9" cy="285.1" r="0.7" fill="#e6e6e6" opacity="0.5"/>
<circle cx="196.4" cy="314.6" r="1" fill="#e6e6e6" opacity="0.5"/>
<circle cx="208.4" cy="94.6" r="0.5" fill="#e6e6e6" opacity="0.4"/>
<circle cx="347.5" cy="97.8" r="1.2" fill="#e6e6e6" opacity="0.4"/>
<circle cx="152.9" cy="166.3" r="0.7" fill="#e6e6e6" opacity="0.5"/>
<circle cx="389" cy="279.8" r="1.1" fill="#e6e6e6" opacity="0.6"/>
<circle cx="374.4" cy="297" r="0.9" fill="#e6e6e6" opacity="0.7"/>
<circle cx="78.9" cy="233.6" r="0.9" fill="#e6e6e6" opacity="0.7"/>
<circle cx="282.4" cy="98" r="0.5" fill="#e6e6e6" opacity="0.8"/>
<circle cx="105.5" cy="154.5" r="0.8" fill="#e6e6e6" opacity="0.4"/>
<path d="M61 11.2H100" stroke="#0a0a0a" stroke-width="2.4"/><path d="M100 11H300" stroke="#5a5a5a" stroke-width="1.6" opacity="0.8"/><path d="M300 11H404" stroke="#444" stroke-width="1.6" opacity="0.8"/>
</g>
<text x="424.5" y="32.8" font-family='"Liberation Sans", "DejaVu Sans", sans-serif' font-size="23" font-weight="normal" text-anchor="start" fill="#000" letter-spacing="1.6">(b)</text>
<rect x="482.4" y="13.1" width="336.2" height="249.8" fill="none" stroke="#333" stroke-width="1.2"/>
<path d="M482.4 262.9v4.2M538.4 262.9v4.2M594.5 262.9v4.2M650.5 262.9v4.2M706.5 262.9v4.2M762.6 262.9v4.2M818.6 262.9v4.2" stroke="#333" stroke-width="1.1" fill="none"/>
<path d="M510.4 262.9v2.2M566.5 262.9v2.2M622.5 262.9v2.2M678.5 262.9v2.2M734.6 262.9v2.2M790.6 262.9v2.2" stroke="#333" stroke-width="1.1" fill="none"/>
<text x="482.4" y="284" font-family='"Liberation Serif", "DejaVu Serif", serif' font-size="16.3" font-weight="bold" text-anchor="middle" fill="#000" >150</text>
<text x="538.4" y="284" font-family='"Liberation Serif", "DejaVu Serif", serif' font-size="16.3" font-weight="bold" text-anchor="middle" fill="#000" >200</text>
<text x="594.5" y="284" font-family='"Liberation Serif", "DejaVu Serif", serif' font-size="16.3" font-weight="bold" text-anchor="middle" fill="#000" >250</text>
<text x="650.5" y="284" font-family='"Liberation Serif", "DejaVu Serif", serif' font-size="16.3" font-weight="bold" text-anchor="middle" fill="#000" >300</text>
<text x="706.5" y="284" font-family='"Liberation Serif", "DejaVu Serif", serif' font-size="16.3" font-weight="bold" text-anchor="middle" fill="#000" >350</text>
<text x="762.6" y="284" font-family='"Liberation Serif", "DejaVu Serif", serif' font-size="16.3" font-weight="bold" text-anchor="middle" fill="#000" >400</text>
<text x="818.6" y="284" font-family='"Liberation Serif", "DejaVu Serif", serif' font-size="16.3" font-weight="bold" text-anchor="middle" fill="#000" >450</text>
<text x="650.5" y="312.3" font-family='"Liberation Serif", "DejaVu Serif", serif' font-size="16.4" font-weight="bold" text-anchor="middle" fill="#000" >Raman Shift (cm<tspan dy="-5.5" font-size="11">&#8722;1</tspan><tspan dy="5.5">)</tspan></text>
<text x="464.2" y="137.8" font-family='"Liberation Serif", "DejaVu Serif", serif' font-size="21.2" font-weight="bold" text-anchor="middle" fill="#000" transform="rotate(-90 464.2 137.8)" >Intensity (a.u)</text>
<text x="485.5" y="32" font-family='"Liberation Serif", "DejaVu Serif", serif' font-size="16.4" font-weight="normal" text-anchor="start" fill="#000" ># 1T MoSe<tspan dy="3.5" font-size="11">2</tspan></text>
<text x="485" y="47.8" font-family='"Liberation Serif", "DejaVu Serif", serif' font-size="16.4" font-weight="normal" text-anchor="start" fill="#000" >* 2H MoSe<tspan dy="3.5" font-size="11">2</tspan></text>
<line x1="724.5" y1="33" x2="757.5" y2="33" stroke="#222" stroke-width="1.2" />
<text x="765.3" y="39" font-family='"Liberation Serif", "DejaVu Serif", serif' font-size="16" font-weight="bold" text-anchor="start" fill="#000" >MoSe<tspan dy="3.5" font-size="11">2</tspan></text>
<polyline points="482.4,232.9 483.3,233.4 484.2,234.3 485.1,234.8 486,236.5 486.9,239.4 487.8,241.4 488.7,243 489.6,244.8 490.5,246.2 491.4,246.4 492.3,248 493.2,250.2 494.1,251.5 495,251.6 495.9,251 496.8,251.3 497.7,251 498.6,252 499.5,252.1 500.4,250.5 501.3,250.9 502.2,252.5 503.1,252.7 504,251 504.9,250.5 505.8,251.6 506.7,252 507.6,251.1 508.5,251.1 509.4,252.3 510.3,254.1 511.2,253.3 512.1,252 513,252.8 513.9,252.1 514.8,252.5 515.7,253.9 516.6,255.6 517.5,256.2 518.4,254 519.3,253.8 520.2,253.8 521.1,251.5 522,250.6 522.9,250.6 523.8,249.5 524.7,249 525.6,247 526.5,245.7 527.4,246.7 528.3,246.1 529.2,244.8 530.1,243.5 531,242.9 531.9,241.6 532.8,242.2 533.7,243.1 534.6,243.5 535.5,244.7 536.4,247 537.3,250.2 538.2,250.1 539.1,250.8 540,250.6 540.9,249.7 541.8,250.3 542.7,249.7 543.6,250 544.5,252 545.4,251.1 546.3,250.4 547.2,250.8 548.1,251.3 549,251.6 549.9,250.8 550.8,250.8 551.7,250.4 552.6,249 553.5,249.7 554.4,249.7 555.3,249 556.2,250.4 557.1,249.8 558,249.6 558.9,251 559.8,250.9 560.7,249.7 561.6,247.8 562.5,247.6 563.4,248.7 564.3,248.6 565.2,247.9 566.1,248.1 567,248 567.9,247.4 568.8,248.1 569.7,247.5 570.6,246.7 571.5,248.6 572.4,249.4 573.3,247.2 574.2,246.6 575.1,247.8 576,248.7 576.9,248.5 577.8,247.4 578.7,246.8 579.6,247.6 580.5,248.4 581.4,247.9 582.3,248 583.2,248.5 584.1,249.6 585,250 585.9,250.2 586.8,251.6 587.7,251.9 588.6,251 589.5,251.9 590.4,252.2 591.3,251.8 592.2,251.7 593.1,250.1 594,250.6 594.9,251.7 595.8,251.4 596.7,251.1 597.6,250.4 598.5,249.2 599.4,249 600.3,250.2 601.2,250.4 602.1,248.9 603,249.2 603.9,249.8 604.8,249 605.7,249.2 606.6,247.9 607.5,245.1 608.4,243.7 609.3,244.1 610.2,244.2 611.1,244.7 612,243.8 612.9,242.9 613.8,242.5 614.7,240.2 615.6,238.5 616.5,236.6 617.4,232.8 618.3,230.3 619.2,226.8 620.1,222.4 621,219 621.9,215.1 622.8,210.4 623.7,206.8 624.6,204.9 625.5,204.2 626.4,203 627.3,202.3 628.2,203.3 629.1,203.2 630,206.1 630.9,208.1 631.8,206.7 632.7,209.4 633.6,211.7 634.5,213.4 635.4,217 636.3,218.7 637.2,220.2 638.1,222.8 639,225.7 639.9,228.1 640.8,230.5 641.7,234.5 642.6,238.8 643.5,242 644.4,245.1 645.3,247.4 646.2,247.4 647.1,247.6 648,247 648.9,246.9 649.8,247.9 650.7,249.1 651.6,250.6 652.5,250.4 653.4,249.9 654.3,249.6 655.2,250.2 656.1,251.7 657,252.4 657.9,252.1 658.8,253.2 659.7,254.4 660.6,252.8 661.5,251.4 662.4,251 663.3,251.1 664.2,251.1 665.1,251 666,251.4 666.9,252.1 667.8,252.7 668.7,252.1 669.6,252 670.5,252.2 671.4,251.9 672.3,253.8 673.2,254.2 674.1,254.6 675,254.5 675.9,252.8 676.8,252.7 677.7,251.5 678.6,250 679.5,249.1 680.4,247.9 681.3,247.5 682.2,246.9 683.1,247.5 684,246.6 684.9,244.9 685.8,241.1 686.7,237.9 687.6,238.4 688.5,236.9 689.4,236.3 690.3,236.4 691.2,235.9 692.1,237 693,240.9 693.9,242.7 694.8,243 695.7,244.6 696.6,246.3 697.5,247.4 698.4,248.4 699.3,252.1 700.2,254.1 701.1,253.9 702,254.4 702.9,255.4 703.8,255.1 704.7,255.4 705.6,255.7 706.5,254.6 707.4,255.1 708.3,253.5 709.2,251.9 710.1,253.4 711,253 711.9,252.5 712.8,252.4 713.7,251.9 714.6,253.8 715.5,254.5 716.4,252.4 717.3,252.7 718.2,252.4 719.1,252.1 720,252.4 720.9,252.8 721.8,251.6 722.7,251 723.6,251.9 724.5,250.6 725.4,251.1 726.3,251 727.2,250.9 728.1,251.2 729,250 729.9,249 730.8,248.4 731.7,246.3 732.6,245 733.5,245.4 734.4,245.6 735.3,246.5 736.2,247.3 737.1,247.4 738,249.2 738.9,252.5 739.8,252.7 740.7,252.3 741.6,253.1 742.5,253.8 743.4,254.5 744.3,252.6 745.2,250.8 746.1,251 747,251 747.9,250.9 748.8,252.2 749.7,252.9 750.6,253.9 751.5,255.6 752.4,254.3 753.3,253.3 754.2,253.9 755.1,255.8 756,255.8 756.9,254 757.8,254.5 758.7,255.7 759.6,255.3 760.5,256.1 761.4,256.9 762.3,256.4 763.2,256.1 764.1,256.2 765,257.1 765.9,256.1 766.8,256.7 767.7,257.1 768.6,256.7 769.5,256.5 770.4,257.5 771.3,258.3 772.2,257.2 773.1,257.3 774,255.6 774.9,253.7 775.8,255 776.7,257.9 777.6,258.6 778.5,258.6 779.4,258.8 780.3,257 781.2,256.2 782.1,258.1 783,257.2 783.9,254.2 784.8,254.2 785.7,255.2 786.6,255.7 787.5,255.5 788.4,255.4 789.3,254.6 790.2,255.3 791.1,258.3 792,259.3 792.9,258.2 793.8,258.2 794.7,257 795.6,255.7 796.5,256.4 797.4,254.8 798.3,254.9 799.2,255.6 800.1,255.9 801,255.8 801.9,255.2 802.8,253.8 803.7,252.9 804.6,254.1 805.5,255.4 806.4,256.2 807.3,257.4 808.2,257.3 809.1,256.6 810,257.4 810.9,257.2 811.8,257 812.7,256.4 813.6,256.6 814.5,256.6 815.4,256.6 816.3,257.3 817.2,258.4 818.1,258" fill="none" stroke="#111" stroke-width="1.0" stroke-linejoin="round" />
<line x1="533.4" y1="160" x2="533.4" y2="253.5" stroke="#000" stroke-width="1.7" stroke-dasharray="1.6 5.4"/>
<line x1="581.6" y1="165" x2="581.6" y2="252" stroke="#f00" stroke-width="1.7" stroke-dasharray="1.6 5.4"/>
<line x1="629.3" y1="117.5" x2="629.3" y2="245" stroke="#00f" stroke-width="1.7" stroke-dasharray="1.6 5.4"/>
<line x1="690.8" y1="150" x2="690.8" y2="249.5" stroke="#0f0" stroke-width="1.7" stroke-dasharray="1.6 5.4"/>
<line x1="738.3" y1="161" x2="738.3" y2="255" stroke="#f0f" stroke-width="1.7" stroke-dasharray="1.6 5.4"/>
<text x="502.6" y="155" font-family='"Liberation Serif", "DejaVu Serif", serif' font-size="16" font-weight="bold" text-anchor="start" fill="#000" >#194 cm<tspan dy="-6" font-size="11">&#8722;1</tspan></text>
<text x="572" y="162" font-family='"Liberation Serif", "DejaVu Serif", serif' font-size="16" font-weight="bold" text-anchor="start" fill="#000" >*</text>
<text x="583" y="159.8" font-family='"Liberation Serif", "DejaVu Serif", serif' font-size="16" font-weight="bold" text-anchor="start" fill="#f00" >A<tspan dy="3.5" font-size="11">1g</tspan></text>
<text x="617" y="114" font-family='"Liberation Serif", "DejaVu Serif", serif' font-size="16" font-weight="bold" text-anchor="start" fill="#000" >*</text>
<text x="625" y="111.6" font-family='"Liberation Serif", "DejaVu Serif", serif' font-size="16" font-weight="bold" text-anchor="start" fill="#00f" >E<tspan dy="-6" font-size="11">1</tspan><tspan dy="10" dx="-1" font-size="11">2g</tspan></text>
<text x="673.6" y="147" font-family='"Liberation Serif", "DejaVu Serif", serif' font-size="16" font-weight="bold" text-anchor="start" fill="#000" >*</text>
<text x="681.6" y="143.4" font-family='"Liberation Serif", "DejaVu Serif", serif' font-size="16" font-weight="bold" text-anchor="start" fill="#0f0" >B<tspan dy="-6" font-size="11">1</tspan><tspan dy="10" dx="-1" font-size="11">2g</tspan></text>
<text x="711" y="156.2" font-family='"Liberation Serif", "DejaVu Serif", serif' font-size="16" font-weight="bold" text-anchor="start" fill="#000" >#</text>
<text x="719" y="156.2" font-family='"Liberation Serif", "DejaVu Serif", serif' font-size="16" font-weight="bold" text-anchor="start" fill="#f0f" >372 cm<tspan dy="-6" font-size="11">&#8722;1</tspan></text>
<text x="836.5" y="37.2" font-family='"Liberation Sans", "DejaVu Sans", sans-serif' font-size="23" font-weight="normal" text-anchor="start" fill="#000" letter-spacing="1.2">(c)</text>
<path d="M916.2 269.3V199.3M978.2 269.3V222M995.8 269.3V205.1M1008.9 269.3V222.4M1024.6 269.3V186.5M1043.2 269.3V217.5M1068 269.3V204.7M1093.9 269.3V225M1104.9 269.3V212M1109.6 269.3V212.4M1114.4 269.3V224.6M1139.4 269.3V226.8M1148.5 269.3V225.9M1153.2 269.3V222.8M1166.4 269.3V220.4M1179.3 269.3V224.6M1196.7 269.3V224" stroke="#f58af5" stroke-width="1.2" fill="none"/>
<rect x="877.4" y="19.2" width="335.7" height="250.1" fill="none" stroke="#3a3a3a" stroke-width="1.2"/>
<path d="M944.5 269.3v5M1034.1 269.3v5M1123.6 269.3v5M1213.1 269.3v5" stroke="#333" stroke-width="1.1" fill="none"/>
<path d="M899.8 269.3v2.4M989.3 269.3v2.4M1078.8 269.3v2.4M1168.3 269.3v2.4" stroke="#333" stroke-width="1.1" fill="none"/>
<text x="944.5" y="290.3" font-family='"Liberation Serif", "DejaVu Serif", serif' font-size="15.5" font-weight="bold" text-anchor="middle" fill="#000" >20</text>
<text x="1034.1" y="290.3" font-family='"Liberation Serif", "DejaVu Serif", serif' font-size="15.5" font-weight="bold" text-anchor="middle" fill="#000" >40</text>
<text x="1123.6" y="290.3" font-family='"Liberation Serif", "DejaVu Serif", serif' font-size="15.5" font-weight="bold" text-anchor="middle" fill="#000" >60</text>
<text x="1213.1" y="290.3" font-family='"Liberation Serif", "DejaVu Serif", serif' font-size="15.5" font-weight="bold" text-anchor="middle" fill="#000" >80</text>
<text x="1021" y="313.7" font-family='"Liberation Serif", "DejaVu Serif", serif' font-size="21" font-weight="normal" text-anchor="start" fill="#000" ><tspan font-weight="bold">2&#952;</tspan> (&#176;)</text>
<text x="856.3" y="137.5" font-family='"Liberation Serif", "DejaVu Serif", serif' font-size="21.2" font-weight="bold" text-anchor="middle" fill="#000" transform="rotate(-90 856.3 137.5)" >Intensity (a.u)</text>
<text x="1130.6" y="250.5" font-family='"Liberation Serif", "DejaVu Serif", serif' font-size="14" font-weight="normal" text-anchor="start" fill="#000" >PDF#29-0914</text>
<polyline points="877.7,160.8 877.9,152.1 878.1,150.7 878.3,141.3 878.5,151.5 878.7,149.5 878.9,147.9 879.1,150.6 879.3,150.2 879.5,143.3 879.7,143.2 879.9,144.1 880.1,148.2 880.3,146.9 880.5,138.5 880.7,138.6 880.9,145.6 881.1,148.4 881.3,141.2 881.5,138 881.7,144.7 881.9,138.4 882.1,142.2 882.3,145.1 882.5,140.9 882.7,138.1 882.9,140.3 883.1,134.2 883.3,135.7 883.5,133.6 883.7,134.6 883.9,133 884.1,133.8 884.3,132.5 884.5,134 884.7,133.4 884.9,133.9 885.1,138 885.3,125.4 885.5,136.6 885.7,129.9 885.9,125.4 886.1,129.3 886.3,130 886.5,133.6 886.7,124.5 886.9,129.4 887.1,128.6 887.3,120.9 887.5,122.6 887.7,129.6 887.9,129.7 888.1,131 888.3,128.4 888.5,127.5 888.7,126 888.9,130.2 889.1,121.5 889.3,124 889.5,125.9 889.7,117.5 889.9,129 890.1,120.1 890.3,122.7 890.5,131.5 890.7,119 890.9,119.9 891.1,128.1 891.3,117 891.5,119.3 891.7,122.9 891.9,122.3 892.1,122.6 892.3,121.3 892.5,125 892.7,123.4 892.9,121.4 893.1,115.9 893.3,115.5 893.5,110.3 893.7,120.8 893.9,110.3 894.1,121.2 894.3,125 894.5,112.9 894.7,114.3 894.9,115 895.1,120.3 895.3,113.2 895.5,116.1 895.7,114.4 895.9,115.4 896.1,121.6 896.3,112.3 896.5,116.4 896.7,117.2 896.9,119.5 897.1,110.6 897.3,120.3 897.5,117.4 897.7,119.1 897.9,115.7 898.1,108.6 898.3,112.6 898.5,118.5 898.7,115.1 898.9,114.7 899.1,122.1 899.3,123.7 899.5,114.4 899.7,122.4 899.9,106.2 900.1,105.9 900.3,117.8 900.5,113.1 900.7,116.5 900.9,116.2 901.1,113.7 901.3,116.8 901.5,114.6 901.7,107.7 901.9,114.9 902.1,114.8 902.3,121.6 902.5,109.5 902.7,114.2 902.9,112.5 903.1,113.7 903.3,121.1 903.5,115.9 903.7,112.5 903.9,115 904.1,117.6 904.3,110.4 904.5,113.4 904.7,120.9 904.9,118.1 905.1,114.5 905.3,112.7 905.5,114.1 905.7,108.4 905.9,118.7 906.1,116.3 906.3,115.5 906.5,109.6 906.7,112.1 906.9,117.1 907.1,116.1 907.3,113.1 907.5,117.2 907.7,119 907.9,112.5 908.1,113.1 908.3,111.8 908.5,110.6 908.7,118.7 908.9,117.5 909.1,116.9 909.3,110.8 909.5,111.4 909.7,115.5 909.9,114.2 910.1,116.5 910.3,113.3 910.5,119 910.7,123.9 910.9,123 911.1,123.5 911.3,117.4 911.5,121.1 911.7,116 911.9,121.6 912.1,116.5 912.3,116.3 912.5,115.9 912.7,121.6 912.9,120.1 913.1,120 913.3,114.8 913.5,120.3 913.7,114.1 913.9,126.4 914.1,120.2 914.3,122 914.5,121.2 914.7,115.7 914.9,117.2 915.1,123.4 915.3,130.3 915.5,120.4 915.7,122.9 915.9,126.5 916.1,120.7 916.3,121.6 916.5,127.8 916.7,130.2 916.9,129.7 917.1,138.5 917.3,132.5 917.5,135.6 917.7,141.6 917.9,142.9 918.1,130.4 918.3,136.3 918.5,143.5 918.7,133.9 918.9,136.7 919.1,136 919.3,136.6 919.5,138.4 919.7,144.6 919.9,149.9 920.1,151.8 920.3,146.4 920.5,139.1 920.7,147.7 920.9,147.4 921.1,151 921.3,149.8 921.5,143.8 921.7,153.6 921.9,144.3 922.1,150.7 922.3,155.6 922.5,156.6 922.7,162.4 922.9,147 923.1,158.9 923.3,161.2 923.5,157.8 923.7,162.5 923.9,156.1 924.1,164 924.3,164.2 924.5,158.6 924.7,160.5 924.9,163.1 925.1,161.7 925.3,169.2 925.5,166.1 925.7,171.3 925.9,171.1 926.1,166.9 926.3,166.3 926.5,163.6 926.7,164.6 926.9,165 927.1,170.1 927.3,165.5 927.5,169.8 927.7,170.7 927.9,168.3 928.1,169.9 928.3,177 928.5,178.1 928.7,168.7 928.9,171.5 929.1,171.2 929.3,172 929.5,179.8 929.7,176.7 929.9,179.5 930.1,182 930.3,173.3 930.5,174.7 930.7,176.1 930.9,180.5 931.1,176.3 931.3,179.7 931.5,182.1 931.7,182.4 931.9,179.8 932.1,175 932.3,172.1 932.5,183.3 932.7,180.7 932.9,175.2 933.1,177.1 933.3,177.5 933.5,172.6 933.7,180.7 933.9,176.5 934.1,178.7 934.3,183.1 934.5,179.8 934.7,182.5 934.9,182.2 935.1,180.7 935.3,180.9 935.5,188.5 935.7,180.3 935.9,187.8 936.1,177.5 936.3,184.3 936.5,182.2 936.7,178.6 936.9,170.9 937.1,188.4 937.3,177.3 937.5,178.2 937.7,182.8 937.9,182.6 938.1,183.7 938.3,181.6 938.5,176.7 938.7,186.5 938.9,179.4 939.1,184.1 939.3,185.7 939.5,188.3 939.7,182.7 939.9,182.5 940.1,182.9 940.3,176.4 940.5,181 940.7,180.2 940.9,179.7 941.1,185.2 941.3,183.4 941.5,191.3 941.7,191 941.9,177.3 942.1,185.7 942.3,181.2 942.5,187.7 942.7,186.2 942.9,189.4 943.1,187 943.3,188.9 943.5,184.6 943.7,175.7 943.9,181.2 944.1,182.6 944.3,184.1 944.5,182 944.7,192.9 944.9,185.6 945.1,191.6 945.3,185 945.5,193.2 945.7,181.6 945.9,189 946.1,181.1 946.3,188.4 946.5,193.2 946.7,180 946.9,183.2 947.1,187.8 947.3,186.1 947.5,181.3 947.7,191.7 947.9,187.2 948.1,192.4 948.3,188.4 948.5,182.4 948.7,185.3 948.9,192.9 949.1,181.6 949.3,185.4 949.5,189.8 949.7,191.5 949.9,190.8 950.1,181.3 950.3,195.9 950.5,186.6 950.7,187.3 950.9,187.1 951.1,186.1 951.3,183 951.5,185.5 951.7,192.1 951.9,181 952.1,176.5 952.3,188.6 952.5,187.6 952.7,189.1 952.9,193.1 953.1,182.9 953.3,186.5 953.5,187.7 953.7,190.6 953.9,189.7 954.1,181.9 954.3,179.6 954.5,184 954.7,178.4 954.9,189.4 955.1,183.1 955.3,183.2 955.5,180.9 955.7,190.6 955.9,185.5 956.1,182.5 956.3,186.6 956.5,183.6 956.7,186.3 956.9,189.1 957.1,182.5 957.3,185.6 957.5,185.3 957.7,187.9 957.9,185.6 958.1,183.1 958.3,180.3 958.5,184 958.7,178.4 958.9,185.2 959.1,182.7 959.3,184.6 959.5,180.1 959.7,178.8 959.9,178.2 960.1,186.4 960.3,180.8 960.5,180.7 960.7,174.1 960.9,181.1 961.1,167 961.3,186.7 961.5,180 961.7,180.9 961.9,174.9 962.1,176.1 962.3,183 962.5,179.5 962.7,182 962.9,185.3 963.1,182.7 963.3,172 963.5,175.6 963.7,174.9 963.9,175.7 964.1,170.8 964.3,170.7 964.5,176 964.7,176.4 964.9,180.9 965.1,177.3 965.3,184.3 965.5,170.9 965.7,172.5 965.9,179.1 966.1,176.8 966.3,173.8 966.5,180.8 966.7,182 966.9,182.8 967.1,175.7 967.3,177.1 967.5,178 967.7,177.1 967.9,180.9 968.1,174.6 968.3,178 968.5,167.3 968.7,179.3 968.9,182.8 969.1,175.9 969.3,180.1 969.5,168.9 969.7,174.2 969.9,169.1 970.1,176.6 970.3,177.3 970.5,169.4 970.7,171.4 970.9,172.4 971.1,184.6 971.3,174.2 971.5,174.9 971.7,175.8 971.9,175.4 972.1,173.1 972.3,168.5 972.5,171.1 972.7,180.5 972.9,174.8 973.1,172.1 973.3,168 973.5,173.3 973.7,173.6 973.9,170.7 974.1,177 974.3,170.8 974.5,172.5 974.7,176.6 974.9,174 975.1,177.6 975.3,172 975.5,171.1 975.7,174.7 975.9,173.6 976.1,177.5 976.3,174.2 976.5,172.4 976.7,174.3 976.9,175.1 977.1,167.7 977.3,171.7 977.5,170.8 977.7,177 977.9,170.1 978.1,176.3 978.3,166.7 978.5,171.6 978.7,176.2 978.9,170.6 979.1,176.4 979.3,163.3 979.5,171.6 979.7,172.1 979.9,170.9 980.1,165.1 980.3,174 980.5,161.6 980.7,175 980.9,172.2 981.1,175 981.3,169.9 981.5,166.3 981.7,168.7 981.9,168.8 982.1,173.1 982.3,169.3 982.5,172.2 982.7,172.4 982.9,176.2 983.1,162.1 983.3,168.5 983.5,172.9 983.7,172.8 983.9,167.6 984.1,168.7 984.3,169.3 984.5,170.2 984.7,167.2 984.9,166.8 985.1,164.7 985.3,167.7 985.5,174.8 985.7,165.1 985.9,172.9 986.1,176.8 986.3,169.6 986.5,178.3 986.7,168 986.9,175.3 987.1,168.1 987.3,163.3 987.5,169.5 987.7,175.6 987.9,165.2 988.1,169.3 988.3,162.9 988.5,162.9 988.7,168 988.9,164.8 989.1,167.3 989.3,169.6 989.5,158.9 989.7,160.2 989.9,162.4 990.1,170.9 990.3,159.3 990.5,157.9 990.7,160.9 990.9,167 991.1,155.1 991.3,155.4 991.5,155.8 991.7,157.7 991.9,162.5 992.1,147.3 992.3,144.3 992.5,150.4 992.7,150.6 992.9,137.8 993.1,142.9 993.3,147.7 993.5,140 993.7,142.4 993.9,139.4 994.1,139.7 994.3,137.1 994.5,134.6 994.7,137 994.9,127.9 995.1,129.2 995.3,131.7 995.5,123.3 995.7,122.7 995.9,119.8 996.1,117.7 996.3,128.5 996.5,121 996.7,125.6 996.9,119.8 997.1,116 997.3,113.5 997.5,114.8 997.7,112.6 997.9,115.7 998.1,107.7 998.3,111.4 998.5,112.1 998.7,108.8 998.9,108.5 999.1,111.4 999.3,111.4 999.5,108.6 999.7,109 999.9,106.9 1000.1,111.7 1000.3,109.1 1000.5,103.4 1000.7,108.7 1000.9,112.7 1001.1,111.5 1001.3,106.9 1001.5,113.8 1001.7,113.4 1001.9,113.6 1002.1,117.6 1002.3,110.2 1002.5,114.2 1002.7,110.8 1002.9,116.1 1003.1,117 1003.3,114.4 1003.5,115.6 1003.7,109.4 1003.9,115.5 1004.1,108.2 1004.3,122.1 1004.5,118.1 1004.7,107.3 1004.9,102.8 1005.1,119.2 1005.3,110.5 1005.5,116.3 1005.7,109 1005.9,114.7 1006.1,111.9 1006.3,117.2 1006.5,113.5 1006.7,121.1 1006.9,112.1 1007.1,120.6 1007.3,115.5 1007.5,117.8 1007.7,109.3 1007.9,108.8 1008.1,120.5 1008.3,111.3 1008.5,115.1 1008.7,115.3 1008.9,113.1 1009.1,117.8 1009.3,111.3 1009.5,112.4 1009.7,121.2 1009.9,114.3 1010.1,120.4 1010.3,120.3 1010.5,123.6 1010.7,119.9 1010.9,111.8 1011.1,116.2 1011.3,117.3 1011.5,123.3 1011.7,120.3 1011.9,117.5 1012.1,121 1012.3,118.3 1012.5,121.7 1012.7,120.4 1012.9,124 1013.1,121.4 1013.3,124 1013.5,120.5 1013.7,123.3 1013.9,120.3 1014.1,123.3 1014.3,122 1014.5,120.9 1014.7,120 1014.9,120.7 1015.1,123.6 1015.3,113.8 1015.5,126.6 1015.7,113.8 1015.9,121.8 1016.1,121.5 1016.3,125.5 1016.5,123.9 1016.7,123 1016.9,123.7 1017.1,127 1017.3,132.2 1017.5,125.3 1017.7,116.7 1017.9,122.7 1018.1,125.9 1018.3,136.5 1018.5,122 1018.7,123.6 1018.9,127.1 1019.1,126.5 1019.3,120.7 1019.5,129.1 1019.7,121.1 1019.9,125 1020.1,130.9 1020.3,121.6 1020.5,125.3 1020.7,132.7 1020.9,125.9 1021.1,123.3 1021.3,125.1 1021.5,130.4 1021.7,121.9 1021.9,125.5 1022.1,122.7 1022.3,123.9 1022.5,132.9 1022.7,128.1 1022.9,127 1023.1,130.3 1023.3,126.4 1023.5,124.8 1023.7,133.4 1023.9,132.7 1024.1,126.6 1024.3,132.4 1024.5,135.3 1024.7,132 1024.9,132.2 1025.1,126.1 1025.3,130.2 1025.5,124.1 1025.7,135.1 1025.9,130.6 1026.1,136.2 1026.3,128.8 1026.5,134.9 1026.7,126.2 1026.9,130.6 1027.1,134.3 1027.3,133.7 1027.5,132.4 1027.7,126.8 1027.9,137.8 1028.1,135.5 1028.3,137.5 1028.5,137.6 1028.7,132.3 1028.9,135.3 1029.1,143.6 1029.3,131.2 1029.5,135.9 1029.7,132.5 1029.9,141.1 1030.1,135.5 1030.3,131.3 1030.5,133.1 1030.7,130.3 1030.9,127.3 1031.1,125.9 1031.3,133.3 1031.5,132 1031.7,136.8 1031.9,133.5 1032.1,137.5 1032.3,143.3 1032.5,132.7 1032.7,132.8 1032.9,140.9 1033.1,146.1 1033.3,134.5 1033.5,131.7 1033.7,137 1033.9,136.7 1034.1,141 1034.3,134.7 1034.5,137.8 1034.7,137.8 1034.9,133.3 1035.1,133.5 1035.3,141 1035.5,141.6 1035.7,136.8 1035.9,145.6 1036.1,143.5 1036.3,142 1036.5,142.7 1036.7,141.9 1036.9,143.4 1037.1,144.1 1037.3,141.4 1037.5,133.8 1037.7,140.9 1037.9,138.6 1038.1,137.5 1038.3,144.2 1038.5,135.6 1038.7,145.4 1038.9,140.1 1039.1,138.2 1039.3,139.6 1039.5,151.5 1039.7,148.6 1039.9,142.3 1040.1,147.4 1040.3,150.2 1040.5,140.6 1040.7,143 1040.9,147.6 1041.1,145.8 1041.3,143.2 1041.5,150.7 1041.7,146.7 1041.9,147.9 1042.1,154 1042.3,147.2 1042.5,155.3 1042.7,146.9 1042.9,145.3 1043.1,146.5 1043.3,149.5 1043.5,148.8 1043.7,148 1043.9,141.3 1044.1,142.9 1044.3,146.1 1044.5,149.9 1044.7,152.8 1044.9,138.8 1045.1,147.2 1045.3,146.2 1045.5,147.7 1045.7,149 1045.9,145.3 1046.1,143.7 1046.3,152.5 1046.5,151.7 1046.7,147.6 1046.9,148.8 1047.1,146.9 1047.3,144.4 1047.5,152.2 1047.7,147.5 1047.9,146 1048.1,148.1 1048.3,156.5 1048.5,152.3 1048.7,151.7 1048.9,151.3 1049.1,154.3 1049.3,154 1049.5,146.7 1049.7,150.8 1049.9,149.5 1050.1,152.9 1050.3,152 1050.5,145.1 1050.7,156.9 1050.9,153.8 1051.1,146.6 1051.3,157.4 1051.5,153.9 1051.7,155.3 1051.9,153.9 1052.1,154.6 1052.3,152.3 1052.5,148.2 1052.7,152.3 1052.9,155.4 1053.1,155.1 1053.3,157.5 1053.5,155 1053.7,147.3 1053.9,158.4 1054.1,152.9 1054.3,151.2 1054.5,155.1 1054.7,151.5 1054.9,158 1055.1,153.5 1055.3,164.2 1055.5,156.3 1055.7,155.4 1055.9,155.2 1056.1,149.9 1056.3,154.8 1056.5,155.5 1056.7,157.2 1056.9,150.5 1057.1,159 1057.3,163.8 1057.5,157.6 1057.7,159.2 1057.9,161.2 1058.1,156.8 1058.3,158.3 1058.5,163.6 1058.7,161 1058.9,155.9 1059.1,154 1059.3,169.1 1059.5,162.5 1059.7,155.2 1059.9,161.7 1060.1,163.7 1060.3,161.8 1060.5,154.6 1060.7,168.3 1060.9,164 1061.1,161.2 1061.3,164.6 1061.5,161.4 1061.7,161.1 1061.9,165.7 1062.1,155.3 1062.3,166.4 1062.5,164.3 1062.7,165.8 1062.9,166.5 1063.1,169 1063.3,168.7 1063.5,166.8 1063.7,162.3 1063.9,166.3 1064.1,162.2 1064.3,160.6 1064.5,165.9 1064.7,165.7 1064.9,168.8 1065.1,156.8 1065.3,166.9 1065.5,167.3 1065.7,165.4 1065.9,170.6 1066.1,162.1 1066.3,166.6 1066.5,164.2 1066.7,165.6 1066.9,162.3 1067.1,165.4 1067.3,168.5 1067.5,166.6 1067.7,167.6 1067.9,163.6 1068.1,172.4 1068.3,164.2 1068.5,166.9 1068.7,169.1 1068.9,166.4 1069.1,170 1069.3,168 1069.5,173.7 1069.7,169.6 1069.9,169.2 1070.1,164.9 1070.3,169.7 1070.5,171.8 1070.7,169.7 1070.9,164.9 1071.1,166.5 1071.3,167.7 1071.5,168.8 1071.7,163.8 1071.9,175.8 1072.1,168.7 1072.3,169.6 1072.5,167.7 1072.7,169.3 1072.9,176.6 1073.1,166.3 1073.3,167.9 1073.5,166.2 1073.7,168.1 1073.9,175.8 1074.1,168 1074.3,168.8 1074.5,164 1074.7,169.4 1074.9,171.7 1075.1,169.2 1075.3,169.7 1075.5,174.2 1075.7,173.3 1075.9,171.2 1076.1,168.8 1076.3,166.3 1076.5,178 1076.7,166.4 1076.9,174.5 1077.1,171.6 1077.3,169.8 1077.5,175.8 1077.7,170 1077.9,177.4 1078.1,169.3 1078.3,174.9 1078.5,177.9 1078.7,169.9 1078.9,181.1 1079.1,176.8 1079.3,165.8 1079.5,179 1079.7,181 1079.9,173.3 1080.1,173.6 1080.3,175.8 1080.5,167.7 1080.7,175.3 1080.9,178.2 1081.1,173 1081.3,179.2 1081.5,183.2 1081.7,168.3 1081.9,169 1082.1,173.1 1082.3,178.1 1082.5,177.3 1082.7,172.7 1082.9,172 1083.1,173.6 1083.3,182.5 1083.5,172.9 1083.7,174.3 1083.9,179.9 1084.1,175.5 1084.3,172.8 1084.5,181.6 1084.7,177.6 1084.9,173.8 1085.1,174.9 1085.3,179.6 1085.5,174.8 1085.7,177 1085.9,179.2 1086.1,179.5 1086.3,169.1 1086.5,174 1086.7,174.4 1086.9,175.9 1087.1,178.3 1087.3,179.7 1087.5,173.7 1087.7,171.3 1087.9,175.9 1088.1,173 1088.3,181.3 1088.5,176.3 1088.7,175.1 1088.9,178.4 1089.1,172.4 1089.3,173.4 1089.5,173.9 1089.7,176.9 1089.9,179.1 1090.1,177.2 1090.3,177 1090.5,173.4 1090.7,175.5 1090.9,173.2 1091.1,178.1 1091.3,171.6 1091.5,173.5 1091.7,174.6 1091.9,176.4 1092.1,170.8 1092.3,172.5 1092.5,170.1 1092.7,168 1092.9,176.6 1093.1,174 1093.3,166.7 1093.5,168.2 1093.7,173.4 1093.9,168.8 1094.1,166.8 1094.3,174.7 1094.5,168 1094.7,168 1094.9,170.9 1095.1,165.9 1095.3,168.1 1095.5,168.2 1095.7,169.8 1095.9,164 1096.1,170.2 1096.3,167.1 1096.5,171.9 1096.7,165.8 1096.9,162.6 1097.1,162.2 1097.3,159.6 1097.5,163.3 1097.7,162.6 1097.9,165.7 1098.1,162.4 1098.3,158.7 1098.5,165.1 1098.7,159.5 1098.9,161.7 1099.1,165.7 1099.3,164.7 1099.5,157.2 1099.7,159.1 1099.9,164.1 1100.1,162.6 1100.3,160.7 1100.5,161.7 1100.7,150.4 1100.9,156.8 1101.1,152.4 1101.3,155 1101.5,155.7 1101.7,158.5 1101.9,160.8 1102.1,159.1 1102.3,156.9 1102.5,154.4 1102.7,160.1 1102.9,156.2 1103.1,148.6 1103.3,154.6 1103.5,156.6 1103.7,151.2 1103.9,155.4 1104.1,160.1 1104.3,153.8 1104.5,154.6 1104.7,154.7 1104.9,151.5 1105.1,153.5 1105.3,151.8 1105.5,154.6 1105.7,152.9 1105.9,159.5 1106.1,155.8 1106.3,159.5 1106.5,152.1 1106.7,156.9 1106.9,159.4 1107.1,160.1 1107.3,155.7 1107.5,158 1107.7,159.2 1107.9,158 1108.1,158.2 1108.3,162.2 1108.5,156.5 1108.7,154.8 1108.9,160.2 1109.1,163.7 1109.3,154.9 1109.5,168.8 1109.7,164.8 1109.9,167.2 1110.1,162.6 1110.3,166.2 1110.5,173.5 1110.7,174.3 1110.9,170.4 1111.1,167.8 1111.3,169 1111.5,174.8 1111.7,168 1111.9,167.8 1112.1,171.3 1112.3,175.7 1112.5,169 1112.7,174.8 1112.9,175.4 1113.1,175.1 1113.3,174.6 1113.5,179 1113.7,178.2 1113.9,171.3 1114.1,182.9 1114.3,179.2 1114.5,179.2 1114.7,177.2 1114.9,177.9 1115.1,170.2 1115.3,179 1115.5,182.5 1115.7,183 1115.9,178.8 1116.1,173.1 1116.3,178.1 1116.5,181.5 1116.7,187.8 1116.9,177.7 1117.1,184.2 1117.3,186.7 1117.5,187.3 1117.7,185.1 1117.9,175.7 1118.1,187.9 1118.3,187 1118.5,188.4 1118.7,184.6 1118.9,186.2 1119.1,191.8 1119.3,187.7 1119.5,188.1 1119.7,186.4 1119.9,191.9 1120.1,184.1 1120.3,187.4 1120.5,190.1 1120.7,189 1120.9,191.7 1121.1,190.6 1121.3,193.5 1121.5,189.1 1121.7,189.5 1121.9,190.8 1122.1,185.3 1122.3,194.2 1122.5,188 1122.7,193.8 1122.9,194.8 1123.1,193.8 1123.3,191.7 1123.5,189.6 1123.7,185.7 1123.9,193.2 1124.1,191.1 1124.3,196.6 1124.5,191.3 1124.7,194 1124.9,191.3 1125.1,193.7 1125.3,191.7 1125.5,192.2 1125.7,187.6 1125.9,190.9 1126.1,192.5 1126.3,196.5 1126.5,193.8 1126.7,189.7 1126.9,197.4 1127.1,194.1 1127.3,196.2 1127.5,190.6 1127.7,184.1 1127.9,191 1128.1,190.4 1128.3,193.9 1128.5,189 1128.7,190.8 1128.9,189.5 1129.1,193.6 1129.3,190.7 1129.5,197 1129.7,195.4 1129.9,195.6 1130.1,192.7 1130.3,194 1130.5,195.7 1130.7,191 1130.9,196.8 1131.1,193.2 1131.3,196.9 1131.5,199.6 1131.7,197.7 1131.9,190.5 1132.1,196.8 1132.3,192.6 1132.5,192.3 1132.7,192.9 1132.9,190.3 1133.1,194.2 1133.3,191.6 1133.5,196.6 1133.7,194.5 1133.9,186.5 1134.1,191 1134.3,190.8 1134.5,191.7 1134.7,191.8 1134.9,194.2 1135.1,193.2 1135.3,190.7 1135.5,194.9 1135.7,196.2 1135.9,193.7 1136.1,196.9 1136.3,194.9 1136.5,192.2 1136.7,192.7 1136.9,193.8 1137.1,195.2 1137.3,194.3 1137.5,196.5 1137.7,197 1137.9,191.1 1138.1,190.7 1138.3,193.6 1138.5,195.1 1138.7,196.4 1138.9,195.6 1139.1,195.6 1139.3,191.4 1139.5,194.9 1139.7,192.2 1139.9,195.1 1140.1,196.4 1140.3,192.1 1140.5,193.3 1140.7,200.6 1140.9,191.8 1141.1,192.5 1141.3,190.9 1141.5,189.9 1141.7,196.5 1141.9,192 1142.1,192.1 1142.3,191.6 1142.5,186.1 1142.7,195.8 1142.9,192.2 1143.1,193.6 1143.3,197.4 1143.5,193.3 1143.7,194 1143.9,194.1 1144.1,197.1 1144.3,189.9 1144.5,192 1144.7,187.6 1144.9,193.6 1145.1,195.3 1145.3,192.3 1145.5,198.9 1145.7,196.1 1145.9,198.8 1146.1,193.9 1146.3,198.4 1146.5,192 1146.7,194.6 1146.9,193.8 1147.1,192.2 1147.3,197.9 1147.5,197 1147.7,191.5 1147.9,195.3 1148.1,193.6 1148.3,193.8 1148.5,195 1148.7,192 1148.9,193.8 1149.1,194.1 1149.3,191.6 1149.5,191.9 1149.7,195.6 1149.9,193.3 1150.1,199.7 1150.3,199 1150.5,191.2 1150.7,194 1150.9,187.6 1151.1,191.3 1151.3,190.5 1151.5,190.9 1151.7,187.1 1151.9,193.6 1152.1,193.3 1152.3,190.6 1152.5,192.6 1152.7,195.3 1152.9,197.1 1153.1,189.1 1153.3,197.1 1153.5,188 1153.7,190.4 1153.9,191.6 1154.1,196.8 1154.3,194.3 1154.5,194.2 1154.7,196.8 1154.9,193.2 1155.1,191.3 1155.3,196.5 1155.5,191.9 1155.7,189 1155.9,187.7 1156.1,192.9 1156.3,197.5 1156.5,194.4 1156.7,192.5 1156.9,195.7 1157.1,188.3 1157.3,193.5 1157.5,190.8 1157.7,196 1157.9,190 1158.1,194.4 1158.3,192.8 1158.5,192.2 1158.7,194.1 1158.9,191.8 1159.1,196.1 1159.3,191.5 1159.5,186.2 1159.7,196 1159.9,195.7 1160.1,193.4 1160.3,195.8 1160.5,193.9 1160.7,189.7 1160.9,186.4 1161.1,189.1 1161.3,191.1 1161.5,193.3 1161.7,188 1161.9,189.4 1162.1,196 1162.3,189.9 1162.5,189.8 1162.7,189.2 1162.9,196.2 1163.1,193.9 1163.3,194.1 1163.5,196.2 1163.7,194.3 1163.9,195.3 1164.1,192.6 1164.3,194 1164.5,193.3 1164.7,193.5 1164.9,188.4 1165.1,191 1165.3,190.5 1165.5,189.7 1165.7,191.4 1165.9,196.4 1166.1,194 1166.3,191.7 1166.5,192.3 1166.7,195.2 1166.9,188 1167.1,192.4 1167.3,195.8 1167.5,196.2 1167.7,193.8 1167.9,192.8 1168.1,186.4 1168.3,189.3 1168.5,191.2 1168.7,192.3 1168.9,192.4 1169.1,185.1 1169.3,189.8 1169.5,192 1169.7,189.2 1169.9,190.7 1170.1,192.7 1170.3,192.2 1170.5,191.8 1170.7,193.3 1170.9,194.4 1171.1,190.6 1171.3,188.5 1171.5,189.5 1171.7,190 1171.9,191.3 1172.1,187.3 1172.3,189.3 1172.5,190.7 1172.7,195.1 1172.9,192.8 1173.1,191 1173.3,193.8 1173.5,191.9 1173.7,192.1 1173.9,194.4 1174.1,192.4 1174.3,191.9 1174.5,193.4 1174.7,190 1174.9,191.6 1175.1,185.8 1175.3,190.4 1175.5,195.7 1175.7,190.6 1175.9,191.6 1176.1,190.4 1176.3,188.8 1176.5,192.9 1176.7,191.5 1176.9,194.5 1177.1,189.2 1177.3,191.7 1177.5,190.7 1177.7,190 1177.9,194.6 1178.1,189.7 1178.3,189.7 1178.5,198.5 1178.7,191.5 1178.9,191.1 1179.1,192.9 1179.3,189 1179.5,192.6 1179.7,188.5 1179.9,190.4 1180.1,190.2 1180.3,195.4 1180.5,193.4 1180.7,196.7 1180.9,196.3 1181.1,189.9 1181.3,193.2 1181.5,190.6 1181.7,190.1 1181.9,195 1182.1,195.7 1182.3,192.1 1182.5,192.7 1182.7,192.6 1182.9,192.7 1183.1,192.8 1183.3,189.1 1183.5,193.5 1183.7,190 1183.9,188.6 1184.1,191.5 1184.3,192.6 1184.5,194.1 1184.7,192.9 1184.9,192.7 1185.1,190.1 1185.3,193 1185.5,192.5 1185.7,192.7 1185.9,189.9 1186.1,196.5 1186.3,194 1186.5,193.8 1186.7,192.2 1186.9,191.2 1187.1,194.5 1187.3,188.4 1187.5,190.7 1187.7,191.2 1187.9,193.5 1188.1,191.1 1188.3,195.8 1188.5,187.2 1188.7,196.2 1188.9,192.8 1189.1,194.5 1189.3,190.6 1189.5,194.8 1189.7,191.1 1189.9,192.7 1190.1,188 1190.3,193.5 1190.5,192.4 1190.7,186.9 1190.9,191.8 1191.1,191.2 1191.3,194.3 1191.5,190.2 1191.7,192.6 1191.9,195.6 1192.1,189.7 1192.3,197.2 1192.5,192.8 1192.7,191.5 1192.9,188.4 1193.1,187.3 1193.3,194.7 1193.5,190.9 1193.7,190.4 1193.9,195 1194.1,194 1194.3,192.5 1194.5,188.2 1194.7,186.9 1194.9,194.7 1195.1,192.1 1195.3,191.5 1195.5,197.4 1195.7,191.1 1195.9,193.2 1196.1,198.1 1196.3,194 1196.5,190.8 1196.7,190.1 1196.9,195.7 1197.1,189.1 1197.3,194.7 1197.5,196.8 1197.7,192.2 1197.9,194.7 1198.1,192.7 1198.3,196.4 1198.5,193.3 1198.7,190.7 1198.9,193.6 1199.1,193 1199.3,191 1199.5,192 1199.7,189.4 1199.9,190.4 1200.1,194.5 1200.3,187.7 1200.5,193.5 1200.7,192.8 1200.9,191.2 1201.1,196.7 1201.3,194.7 1201.5,191.3 1201.7,193.4 1201.9,195.4 1202.1,188.7 1202.3,193.5 1202.5,192.3 1202.7,194.1 1202.9,198.7 1203.1,191.3 1203.3,192.1 1203.5,189.8 1203.7,193.7 1203.9,194.8 1204.1,186.5 1204.3,197.1 1204.5,197.5 1204.7,185.9 1204.9,189.1 1205.1,194.5 1205.3,193.5 1205.5,196.5 1205.7,192.5 1205.9,196.9 1206.1,189.7 1206.3,194.5 1206.5,192.2 1206.7,192.2 1206.9,188.7 1207.1,192.4 1207.3,197.2 1207.5,191.8 1207.7,192.9 1207.9,193.9 1208.1,191 1208.3,194.3 1208.5,195.2 1208.7,193 1208.9,188.7 1209.1,197.9 1209.3,193.9 1209.5,193.7 1209.7,193.2 1209.9,192.2 1210.1,189.3 1210.3,193.7 1210.5,194.3 1210.7,196.6 1210.9,198.4 1211.1,192 1211.3,198.3 1211.5,194.2 1211.7,195.6 1211.9,191.3 1212.1,195 1212.3,191.5 1212.5,195.9 1212.7,190.7" fill="none" stroke="#000" stroke-width="0.75" stroke-linejoin="round" />
<polyline points="877.7,153.9 878.1,153.9 878.5,152.2 878.9,152.8 879.3,146.4 879.7,145.2 880.1,145.2 880.5,146.4 880.9,146.4 881.3,145.1 881.7,136.2 882.1,138.5 882.5,142 882.9,138.7 883.3,137.1 883.7,139.6 884.1,137.2 884.5,134.6 884.9,134.4 885.3,130.1 885.7,129.8 886.1,133.2 886.5,130.3 886.9,131.8 887.3,134.4 887.7,129.4 888.1,132.7 888.5,129.5 888.9,131.1 889.3,124.7 889.7,121.3 890.1,125.6 890.5,121 890.9,125.2 891.3,121.5 891.7,119.5 892.1,119.9 892.5,114.2 892.9,115.8 893.3,117.3 893.7,115.1 894.1,117.3 894.5,119.3 894.9,122.6 895.3,116.8 895.7,117.6 896.1,117.9 896.5,118.3 896.9,117 897.3,112.2 897.7,113.3 898.1,115.8 898.5,115.7 898.9,116.5 899.3,117.5 899.7,112.6 900.1,110.4 900.5,115.9 900.9,112.6 901.3,114.2 901.7,114.6 902.1,107.5 902.5,115.2 902.9,120.2 903.3,116.9 903.7,110.3 904.1,119.3 904.5,113.6 904.9,116.4 905.3,114.8 905.7,111.5 906.1,114.5 906.5,119.6 906.9,113.5 907.3,122.2 907.7,115.9 908.1,111.4 908.5,113.2 908.9,110.6 909.3,114.2 909.7,114.2 910.1,113.5 910.5,117.2 910.9,118.2 911.3,117.2 911.7,112.7 912.1,123.9 912.5,120 912.9,118.7 913.3,123.6 913.7,115.5 914.1,121.6 914.5,127.4 914.9,118.7 915.3,120.7 915.7,128.1 916.1,130.1 916.5,128.7 916.9,136.1 917.3,130 917.7,138 918.1,131.2 918.5,137.5 918.9,140.9 919.3,144.8 919.7,139.4 920.1,145.2 920.5,147.2 920.9,147.5 921.3,155.6 921.7,153.3 922.1,158 922.5,155.1 922.9,159 923.3,154.8 923.7,159.4 924.1,164.5 924.5,165.4 924.9,168.2 925.3,166.7 925.7,167.3 926.1,159.5 926.5,163.6 926.9,166.8 927.3,168.9 927.7,169.4 928.1,173.4 928.5,168.2 928.9,171.4 929.3,172.8 929.7,174.6 930.1,177.8 930.5,180.2 930.9,173.5 931.3,176.3 931.7,170.6 932.1,182.1 932.5,173.6 932.9,180.1 933.3,176.2 933.7,180.5 934.1,178.2 934.5,183.7 934.9,183.2 935.3,178.8 935.7,184.6 936.1,180.6 936.5,179.4 936.9,186.2 937.3,176.9 937.7,179.8 938.1,183 938.5,183.2 938.9,181.6 939.3,185 939.7,184.6 940.1,185.4 940.5,187.9 940.9,187.5 941.3,187.3 941.7,187.8 942.1,182 942.5,181.7 942.9,189.7 943.3,183 943.7,185.5 944.1,188.3 944.5,189.5 944.9,189.3 945.3,184.9 945.7,188.9 946.1,184.2 946.5,186.7 946.9,185.8 947.3,183.2 947.7,189.9 948.1,184.7 948.5,190.3 948.9,185.4 949.3,188.9 949.7,187.6 950.1,186.9 950.5,188.1 950.9,190.4 951.3,187.4 951.7,185.2 952.1,187.1 952.5,184.6 952.9,188.6 953.3,185.3 953.7,188.3 954.1,187.3 954.5,189 954.9,179.2 955.3,183.5 955.7,183 956.1,188.8 956.5,180.4 956.9,186.8 957.3,187.1 957.7,185.2 958.1,184.5 958.5,186.7 958.9,183 959.3,183 959.7,180.6 960.1,184.1 960.5,181.9 960.9,177.4 961.3,183.1 961.7,178.8 962.1,181.5 962.5,179.4 962.9,178.4 963.3,181.4 963.7,184.6 964.1,182.2 964.5,176.2 964.9,179.8 965.3,179.9 965.7,175.7 966.1,178.8 966.5,180 966.9,179.3 967.3,177.8 967.7,172.8 968.1,178.4 968.5,180.6 968.9,175 969.3,172.3 969.7,173.4 970.1,170 970.5,178.7 970.9,170.6 971.3,174.4 971.7,175.6 972.1,179.9 972.5,176.7 972.9,176.4 973.3,171.5 973.7,176.3 974.1,170.9 974.5,174.8 974.9,171.1 975.3,166.5 975.7,175.5 976.1,171.4 976.5,173.1 976.9,170 977.3,170.4 977.7,165.8 978.1,167.4 978.5,169.5 978.9,172 979.3,175.9 979.7,168.4 980.1,170.1 980.5,173.6 980.9,177.3 981.3,174 981.7,170 982.1,177.8 982.5,165.5 982.9,171.9 983.3,172.7 983.7,169.8 984.1,166.6 984.5,164.9 984.9,166.5 985.3,167.8 985.7,170.1 986.1,172.9 986.5,169.6 986.9,167.4 987.3,168.3 987.7,169.1 988.1,166.9 988.5,169.9 988.9,165.4 989.3,164.7 989.7,163.1 990.1,159.9 990.5,153 990.9,158.2 991.3,157.9 991.7,152.3 992.1,152.3 992.5,151.5 992.9,147.8 993.3,146.6 993.7,142.5 994.1,134 994.5,128 994.9,124.9 995.3,127.3 995.7,125.3 996.1,118.8 996.5,125.6 996.9,112.5 997.3,110.1 997.7,111.5 998.1,110.3 998.5,106.6 998.9,111.5 999.3,107.6 999.7,107.4 1000.1,110.6 1000.5,107.6 1000.9,109.4 1001.3,113.5 1001.7,108.6 1002.1,107.3 1002.5,109.2 1002.9,111.6 1003.3,114.3 1003.7,114.3 1004.1,113.8 1004.5,114.7 1004.9,115.3 1005.3,114.8 1005.7,120.2 1006.1,114.3 1006.5,112.3 1006.9,118.3 1007.3,118.3 1007.7,114.9 1008.1,118.5 1008.5,115.9 1008.9,116.5 1009.3,117.9 1009.7,116.2 1010.1,115.1 1010.5,114.2 1010.9,124.3 1011.3,123.4 1011.7,120 1012.1,119.5 1012.5,117.6 1012.9,123.4 1013.3,121.1 1013.7,128 1014.1,118.3 1014.5,119.9 1014.9,122 1015.3,122.6 1015.7,121.9 1016.1,123.4 1016.5,121.2 1016.9,123.7 1017.3,121.9 1017.7,127.4 1018.1,125.4 1018.5,122.3 1018.9,126 1019.3,122.6 1019.7,128.4 1020.1,124.7 1020.5,129.1 1020.9,122.1 1021.3,129.7 1021.7,131 1022.1,123.4 1022.5,124.4 1022.9,129.9 1023.3,124.7 1023.7,133.1 1024.1,131.3 1024.5,131.7 1024.9,135 1025.3,128.2 1025.7,131.6 1026.1,130.5 1026.5,133.8 1026.9,130.1 1027.3,132.6 1027.7,131.1 1028.1,133.3 1028.5,135.9 1028.9,132.6 1029.3,134.9 1029.7,132.7 1030.1,133.4 1030.5,134.8 1030.9,132.6 1031.3,137.6 1031.7,135.1 1032.1,135.1 1032.5,140 1032.9,132.8 1033.3,136.5 1033.7,133 1034.1,141.7 1034.5,134.6 1034.9,138 1035.3,139.3 1035.7,140.1 1036.1,138.4 1036.5,136.6 1036.9,136.9 1037.3,142.7 1037.7,141.1 1038.1,142 1038.5,141.6 1038.9,142.4 1039.3,142.1 1039.7,145.9 1040.1,147.6 1040.5,143.3 1040.9,141.1 1041.3,141.1 1041.7,145.2 1042.1,141.5 1042.5,142.4 1042.9,142.8 1043.3,147.6 1043.7,151.2 1044.1,149.2 1044.5,148.7 1044.9,150 1045.3,151.5 1045.7,148.3 1046.1,147.8 1046.5,149 1046.9,145.8 1047.3,148.3 1047.7,149.4 1048.1,145.8 1048.5,147.9 1048.9,155.9 1049.3,155.6 1049.7,152 1050.1,153.9 1050.5,153 1050.9,149.7 1051.3,153.5 1051.7,157.1 1052.1,150.9 1052.5,155.5 1052.9,154.7 1053.3,152.9 1053.7,153.8 1054.1,157.2 1054.5,160.9 1054.9,157.4 1055.3,156.8 1055.7,157.4 1056.1,157.4 1056.5,159.7 1056.9,160 1057.3,157.1 1057.7,156.3 1058.1,160.2 1058.5,160.4 1058.9,162.1 1059.3,164.2 1059.7,161 1060.1,162.1 1060.5,159.5 1060.9,162.1 1061.3,158.9 1061.7,160.7 1062.1,166 1062.5,162.2 1062.9,168 1063.3,165.9 1063.7,163.5 1064.1,166.1 1064.5,167.4 1064.9,164.4 1065.3,164.8 1065.7,164.1 1066.1,168.5 1066.5,163.9 1066.9,163.9 1067.3,162.7 1067.7,163.1 1068.1,165.2 1068.5,166.1 1068.9,169.8 1069.3,170.3 1069.7,165.8 1070.1,165 1070.5,165.2 1070.9,173.6 1071.3,175.3 1071.7,171 1072.1,169.5 1072.5,169.1 1072.9,167.7 1073.3,171.7 1073.7,168.7 1074.1,167.3 1074.5,173.1 1074.9,169 1075.3,172.4 1075.7,170.7 1076.1,175 1076.5,172.7 1076.9,168.9 1077.3,173.1 1077.7,170.9 1078.1,172.4 1078.5,169.6 1078.9,172.9 1079.3,175.5 1079.7,171.5 1080.1,173 1080.5,173.8 1080.9,173.7 1081.3,175.7 1081.7,180 1082.1,177.4 1082.5,176.1 1082.9,175.6 1083.3,174.2 1083.7,174.2 1084.1,175.1 1084.5,176.8 1084.9,173.2 1085.3,175.5 1085.7,175.1 1086.1,177.9 1086.5,172.4 1086.9,173.2 1087.3,175.7 1087.7,172.9 1088.1,173.7 1088.5,174.4 1088.9,171.7 1089.3,175.7 1089.7,177.1 1090.1,172.9 1090.5,177.1 1090.9,172.9 1091.3,174.2 1091.7,172.6 1092.1,171.4 1092.5,174.9 1092.9,171.7 1093.3,166.4 1093.7,172.5 1094.1,169.2 1094.5,173.4 1094.9,172 1095.3,169.9 1095.7,163.8 1096.1,168.3 1096.5,162.2 1096.9,162.3 1097.3,166.3 1097.7,161.6 1098.1,162.4 1098.5,161.1 1098.9,162 1099.3,157.4 1099.7,158.1 1100.1,161.6 1100.5,158.3 1100.9,161.8 1101.3,154.8 1101.7,157.6 1102.1,152.6 1102.5,152.1 1102.9,160.2 1103.3,159.2 1103.7,156 1104.1,160.1 1104.5,151.6 1104.9,158.1 1105.3,156.3 1105.7,154.6 1106.1,153.8 1106.5,158.6 1106.9,159.1 1107.3,155.6 1107.7,158.9 1108.1,159.5 1108.5,165.1 1108.9,164.2 1109.3,169.4 1109.7,166.2 1110.1,166.1 1110.5,167.3 1110.9,168.6 1111.3,166 1111.7,169.9 1112.1,173.9 1112.5,171.9 1112.9,171.8 1113.3,178.4 1113.7,179.9 1114.1,178.4 1114.5,175.1 1114.9,175.9 1115.3,184.4 1115.7,181.6 1116.1,178.7 1116.5,183.1 1116.9,187.4 1117.3,183.8 1117.7,188 1118.1,187.2 1118.5,187.1 1118.9,184.6 1119.3,187.2 1119.7,189.7 1120.1,191 1120.5,189.4 1120.9,193.1 1121.3,189.4 1121.7,191.4 1122.1,189.7 1122.5,188.2 1122.9,191.8 1123.3,189.8 1123.7,190.2 1124.1,189.9 1124.5,193 1124.9,193 1125.3,195.5 1125.7,191.4 1126.1,195 1126.5,195.1 1126.9,191.7 1127.3,192.7 1127.7,190.2 1128.1,190.6 1128.5,192.6 1128.9,194.3 1129.3,194.4 1129.7,190.7 1130.1,191 1130.5,192.6 1130.9,196 1131.3,193 1131.7,192.6 1132.1,192.3 1132.5,192.4 1132.9,191.8 1133.3,194.9 1133.7,193.2 1134.1,192.6 1134.5,194.9 1134.9,190.6 1135.3,188.6 1135.7,194.7 1136.1,191.3 1136.5,192.6 1136.9,196.4 1137.3,194.9 1137.7,195 1138.1,190.9 1138.5,192.7 1138.9,194.8 1139.3,191.8 1139.7,193.3 1140.1,192.8 1140.5,193.9 1140.9,193.9 1141.3,193.1 1141.7,195.1 1142.1,192.5 1142.5,188.5 1142.9,194.3 1143.3,190.2 1143.7,195.1 1144.1,190.8 1144.5,196.6 1144.9,196.1 1145.3,194.7 1145.7,193.1 1146.1,193.3 1146.5,193.5 1146.9,194.3 1147.3,194.2 1147.7,196.1 1148.1,195.1 1148.5,192.7 1148.9,190.4 1149.3,192 1149.7,193.1 1150.1,195.1 1150.5,191.7 1150.9,192.4 1151.3,190.3 1151.7,193.3 1152.1,193.9 1152.5,196.4 1152.9,194 1153.3,192.4 1153.7,192.1 1154.1,189 1154.5,194.2 1154.9,193.1 1155.3,192.3 1155.7,193.1 1156.1,197.7 1156.5,192.8 1156.9,189.1 1157.3,195.2 1157.7,192.5 1158.1,192.8 1158.5,193.4 1158.9,192.6 1159.3,193.5 1159.7,191.6 1160.1,192.3 1160.5,191.8 1160.9,189.8 1161.3,190.7 1161.7,190.9 1162.1,193.1 1162.5,191.7 1162.9,191.7 1163.3,193.5 1163.7,192.9 1164.1,189 1164.5,187.8 1164.9,192.1 1165.3,189.2 1165.7,188.7 1166.1,192.1 1166.5,193.4 1166.9,186.9 1167.3,191.9 1167.7,190.9 1168.1,190.7 1168.5,193.1 1168.9,190.2 1169.3,192.9 1169.7,191.7 1170.1,192.2 1170.5,194 1170.9,193.5 1171.3,193.8 1171.7,191.5 1172.1,194.6 1172.5,191.5 1172.9,190.4 1173.3,192.8 1173.7,191.7 1174.1,195 1174.5,192.2 1174.9,188.1 1175.3,193.6 1175.7,191.7 1176.1,194.4 1176.5,192.6 1176.9,194.3 1177.3,192.1 1177.7,189.6 1178.1,192.5 1178.5,191.9 1178.9,190 1179.3,191.4 1179.7,188 1180.1,193.4 1180.5,192.7 1180.9,192.8 1181.3,189.2 1181.7,188.4 1182.1,192.5 1182.5,191.6 1182.9,189.9 1183.3,193.9 1183.7,193.2 1184.1,192.6 1184.5,190.1 1184.9,193.2 1185.3,191.6 1185.7,192.8 1186.1,191.5 1186.5,193.9 1186.9,191.1 1187.3,191.4 1187.7,193.8 1188.1,189.9 1188.5,192.3 1188.9,190.3 1189.3,193.2 1189.7,191.7 1190.1,196.1 1190.5,192.3 1190.9,192.6 1191.3,191.5 1191.7,195.5 1192.1,193.1 1192.5,190.6 1192.9,190.8 1193.3,194.1 1193.7,192 1194.1,192.4 1194.5,192.8 1194.9,195.9 1195.3,195.4 1195.7,192.2 1196.1,190.5 1196.5,188.8 1196.9,190.7 1197.3,191.1 1197.7,192.8 1198.1,191.9 1198.5,193.8 1198.9,196.4 1199.3,190.2 1199.7,191.6 1200.1,193.7 1200.5,194.2 1200.9,190.5 1201.3,192 1201.7,197.3 1202.1,195.2 1202.5,191.3 1202.9,192.3 1203.3,192.3 1203.7,191.8 1204.1,193.6 1204.5,194.7 1204.9,192.4 1205.3,194.2 1205.7,192.7 1206.1,191.9 1206.5,194.9 1206.9,191.8 1207.3,193.5 1207.7,197.3 1208.1,196 1208.5,194.6 1208.9,196.8 1209.3,191.3 1209.7,192.6 1210.1,196.6 1210.5,193.8 1210.9,195.4 1211.3,195 1211.7,194.5 1212.1,194.3 1212.5,195.1" fill="none" stroke="#000" stroke-width="0.75" stroke-linejoin="round" />
<polyline points="877.7,153.7 878.9,150.1 880.1,145.3 881.3,141.3 882.5,138.3 883.7,135.5 884.9,132.7 886.1,130 887.3,127.8 888.5,125.9 889.7,124 890.9,122 892.1,120.1 893.3,118.4 894.5,117.2 895.7,116.6 896.9,115.9 898.1,115.3 899.3,114.7 900.5,114.2 901.7,114 902.9,114.2 904.1,114.4 905.3,114.7 906.5,114.9 907.7,115.2 908.9,115.4 910.1,116 911.3,117.1 912.5,118.5 913.7,120 914.9,122.8 916.1,127.6 917.3,133.2 918.5,138.7 919.7,143.9 920.9,148.8 922.1,153.5 923.3,158.3 924.5,162.6 925.7,165.9 926.9,168.3 928.1,170.7 929.3,173.1 930.5,175.5 931.7,177.6 932.9,179.1 934.1,179.9 935.3,180.7 936.5,181.5 937.7,182.3 938.9,183.1 940.1,183.9 941.3,184.7 942.5,185.4 943.7,185.9 944.9,186.3 946.1,186.6 947.3,186.9 948.5,187.2 949.7,187.4 950.9,187.1 952.1,186.5 953.3,185.8 954.5,185.1 955.7,184.4 956.9,183.7 958.1,183 959.3,182.3 960.5,181.6 961.7,180.9 962.9,180.1 964.1,179.3 965.3,178.5 966.5,177.7 967.7,176.9 968.9,176.1 970.1,175.3 971.3,174.5 972.5,173.9 973.7,173.5 974.9,173.1 976.1,172.7 977.3,172.3 978.5,171.8 979.7,171.4 980.9,171 982.1,170.6 983.3,170.2 984.5,169.6 985.7,169 986.9,168.3 988.1,167.2 989.3,164.2 990.5,159.7 991.7,154.4 992.9,146.6 994.1,136.6 995.3,126.7 996.5,118.6 997.7,112.4 998.9,109 1000.1,109 1001.3,110.2 1002.5,111.4 1003.7,112.5 1004.9,113.5 1006.1,114.5 1007.3,115.4 1008.5,116.4 1009.7,117.4 1010.9,118.4 1012.1,119.4 1013.3,120.4 1014.5,121.4 1015.7,122.3 1016.9,123.4 1018.1,124.4 1019.3,125.5 1020.5,126.5 1021.7,127.6 1022.9,128.6 1024.1,129.7 1025.3,130.7 1026.5,131.8 1027.7,132.8 1028.9,133.9 1030.1,134.9 1031.3,136 1032.5,137 1033.7,138 1034.9,139.1 1036.1,140.1 1037.3,141.1 1038.5,142.2 1039.7,143.2 1040.9,144.2 1042.1,145.2 1043.3,146.3 1044.5,147.3 1045.7,148.3 1046.9,149.3 1048.1,150.4 1049.3,151.4 1050.5,152.5 1051.7,153.7 1052.9,154.9 1054.1,156.1 1055.3,157.3 1056.5,158.5 1057.7,159.7 1058.9,160.6 1060.1,161.4 1061.3,162.2 1062.5,162.9 1063.7,163.7 1064.9,164.4 1066.1,165.2 1067.3,165.9 1068.5,166.7 1069.7,167.4 1070.9,168.2 1072.1,169 1073.3,169.7 1074.5,170.5 1075.7,171.3 1076.9,172.1 1078.1,172.9 1079.3,173.7 1080.5,174.5 1081.7,175.3 1082.9,176.1 1084.1,176.4 1085.3,176.1 1086.5,175.6 1087.7,175.1 1088.9,174.6 1090.1,174.1 1091.3,173.7 1092.5,172.9 1093.7,171.2 1094.9,168.7 1096.1,166.1 1097.3,163.6 1098.5,161.3 1099.7,159.5 1100.9,157.9 1102.1,156.3 1103.3,155 1104.5,154.9 1105.7,156.1 1106.9,157.5 1108.1,160 1109.3,163.5 1110.5,167.2 1111.7,170.8 1112.9,174.3 1114.1,177.4 1115.3,180.3 1116.5,183.1 1117.7,185.8 1118.9,187.8 1120.1,188.9 1121.3,189.8 1122.5,190.7 1123.7,191.6 1124.9,192.5 1126.1,193 1127.3,193.2 1128.5,193.3 1129.7,193.3 1130.9,193.4 1132.1,193.5 1133.3,193.6 1134.5,193.6 1135.7,193.7 1136.9,193.8 1138.1,193.9 1139.3,193.9 1140.5,193.9 1141.7,193.9 1142.9,193.7 1144.1,193.6 1145.3,193.5 1146.5,193.4 1147.7,193.3 1148.9,193.2 1150.1,193 1151.3,192.9 1152.5,192.8 1153.7,192.7 1154.9,192.6 1156.1,192.4 1157.3,192.3 1158.5,192.2 1159.7,192.1 1160.9,192 1162.1,191.9 1163.3,191.7 1164.5,191.6 1165.7,191.5 1166.9,191.4 1168.1,191.3 1169.3,191.4 1170.5,191.4 1171.7,191.4 1172.9,191.5 1174.1,191.5 1175.3,191.6 1176.5,191.6 1177.7,191.6 1178.9,191.7 1180.1,191.7 1181.3,191.7 1182.5,191.8 1183.7,191.8 1184.9,191.9 1186.1,191.9 1187.3,191.9 1188.5,192 1189.7,192 1190.9,192.1 1192.1,192.1 1193.3,192.1 1194.5,192.2 1195.7,192.3 1196.9,192.4 1198.1,192.5 1199.3,192.6 1200.5,192.8 1201.7,192.9 1202.9,193 1204.1,193.1 1205.3,193.2 1206.5,193.4 1207.7,193.5 1208.9,193.6 1210.1,193.7 1211.3,193.8 1212.5,193.9" fill="none" stroke="#000" stroke-width="1.6" stroke-linejoin="round" />
<text x="917.2" y="184.7" font-family='"Liberation Serif", "DejaVu Serif", serif' font-size="14" font-weight="bold" text-anchor="middle" fill="#000" transform="rotate(-90 917.2 184.7)" >(002)</text>
<text x="1001.6" y="178" font-family='"Liberation Serif", "DejaVu Serif", serif' font-size="14" font-weight="bold" text-anchor="middle" fill="#000" transform="rotate(-90 1001.6 178)" >(100)</text>
<text x="1108.2" y="198.9" font-family='"Liberation Serif", "DejaVu Serif", serif' font-size="14" font-weight="bold" text-anchor="middle" fill="#000" transform="rotate(-90 1108.2 198.9)" >(008)</text>
<text x="423.2" y="352" font-family='"Liberation Sans", "DejaVu Sans", sans-serif' font-size="23" font-weight="normal" text-anchor="start" fill="#000" letter-spacing="0.9">(e)</text>
<polyline points="485.3,529.8 488,532.1 490.7,541.8 493.4,525.5 496.1,541.4 498.8,524.8 501.5,546.1 504.2,535.8 506.9,545.7 509.6,515 512.3,533.9 515,548 517.7,549.9 520.4,548.7 523.1,543.7 525.8,535.8 528.5,540 531.2,526.8 533.9,529.6 536.6,538.6 539.3,530 542,529.6 544.7,531.9 547.4,519.5 550.1,512.4 552.8,530.7 555.5,531.1 558.2,534.3 560.9,519 563.6,525.7 566.3,531.1 569,508.1 571.7,511.3 574.4,510.3 577.1,527.3 579.8,535.4 582.5,528.6 585.2,537.4 587.9,533.9 590.6,534.7 593.3,514.5 596,534.9 598.7,529.6 601.4,540.3 604.1,536.1 606.8,519.6 609.5,523.2 612.2,515.3 614.9,523.1 617.6,506.9 620.3,511.8 623,516.7 625.7,513.1 628.4,511.2 631.1,497.3 633.8,491.6 636.5,503.1 639.2,513.3 641.9,477.2 644.6,515.8 647.3,505.1 650,502.2 652.7,481.3 655.4,473.9 658.1,463.5 660.8,463.7 663.5,467.7 666.2,481.1 668.9,504.5 671.6,510.2 674.3,510.2 677,515.9 679.7,504.2 682.4,502.7 685.1,515.4 687.8,530.7 690.5,499.6 693.2,529 695.9,513.4 698.6,498.9 701.3,515.2 704,496.6 706.7,478 709.4,491.2 712.1,474.3 714.8,453.9 717.5,437 720.2,410.2 722.9,423.3 725.6,433.4 728.3,457.2 731,483.2 733.7,501.8 736.4,534.3 739.1,533.4 741.8,541.3 744.5,537.8 747.2,527.2 749.9,533.2 752.6,542 755.3,556.3 758,545.5 760.7,546.1 763.4,555.9 766.1,558.2 768.8,558.3 771.5,531.9 774.2,559.5 776.9,533.5 779.6,548.2 782.3,547.8 785,559.9 787.7,552.4 790.4,548.2 793.1,554.9 795.8,562.4 798.5,550.6 801.2,551.7 803.9,549.7 806.6,541.5 809.3,544.6" fill="none" stroke="#8f8f8f" stroke-width="0.85" stroke-linejoin="round" stroke-dasharray="1.1 0.9"/>
<polyline points="520.3,540.1 521.1,540.1 521.9,540.1 522.7,540.1 523.5,540.1 524.3,540.1 525.1,540.1 525.9,540.1 526.7,540.1 527.5,540.1 528.3,540.1 529.1,540.1 529.9,540.1 530.7,540.1 531.5,540.1 532.3,540.1 533.1,540.1 533.9,540.1 534.7,540.1 535.5,540.1 536.3,540.1 537.1,540.1 537.9,540.1 538.7,540.1 539.5,540.1 540.3,540.1 541.1,540.1 541.9,540.2 542.7,540.2 543.5,540.2 544.3,540.2 545.1,540.2 545.9,540.2 546.7,540.2 547.5,540.2 548.3,540.2 549.1,540.2 549.9,540.2 550.7,540.2 551.5,540.2 552.3,540.2 553.1,540.2 553.9,540.2 554.7,540.2 555.5,540.2 556.3,540.2 557.1,540.2 557.9,540.2 558.7,540.2 559.5,540.2 560.3,540.2 561.1,540.2 561.9,540.3 562.7,540.3 563.5,540.3 564.3,540.3 565.1,540.3 565.9,540.3 566.7,540.3 567.5,540.4 568.3,540.4 569.1,540.4 569.9,540.4 570.7,540.4 571.5,540.4 572.3,540.4 573.1,540.5 573.9,540.5 574.7,540.5 575.5,540.5 576.3,540.5 577.1,540.5 577.9,540.6 578.7,540.6 579.5,540.6 580.3,540.6 581.1,540.6 581.9,540.6 582.7,540.7 583.5,540.7 584.3,540.7 585.1,540.7 585.9,540.7 586.7,540.7 587.5,540.8 588.3,540.8 589.1,540.8 589.9,540.8 590.7,540.8 591.5,540.8 592.3,540.8 593.1,540.9 593.9,540.9 594.7,540.9 595.5,540.9 596.3,540.9 597.1,541 597.9,541 598.7,541 599.5,541 600.3,541.1 601.1,541.1 601.9,541.2 602.7,541.2 603.5,541.2 604.3,541.3 605.1,541.3 605.9,541.4 606.7,541.4 607.5,541.5 608.3,541.5 609.1,541.6 609.9,541.6 610.7,541.7 611.5,541.7 612.3,541.8 613.1,541.9 613.9,541.9 614.7,542 615.5,542 616.3,542.1 617.1,542.1 617.9,542.2 618.7,542.2 619.5,542.3 620.3,542.3 621.1,542.4 621.9,542.4 622.7,542.5 623.5,542.5 624.3,542.6 625.1,542.6 625.9,542.7 626.7,542.7 627.5,542.8 628.3,542.8 629.1,542.9 629.9,542.9 630.7,543 631.5,543 632.3,543.1 633.1,543.2 633.9,543.2 634.7,543.3 635.5,543.3 636.3,543.4 637.1,543.4 637.9,543.5 638.7,543.5 639.5,543.6 640.3,543.6 641.1,543.7 641.9,543.7 642.7,543.8 643.5,543.9 644.3,543.9 645.1,544 645.9,544 646.7,544.1 647.5,544.2 648.3,544.2 649.1,544.3 649.9,544.3 650.7,544.4 651.5,544.4 652.3,544.5 653.1,544.6 653.9,544.6 654.7,544.7 655.5,544.7 656.3,544.8 657.1,544.9 657.9,544.9 658.7,545 659.5,545 660.3,545.1 661.1,545.1 661.9,545.2 662.7,545.3 663.5,545.3 664.3,545.4 665.1,545.4 665.9,545.5 666.7,545.6 667.5,545.6 668.3,545.7 669.1,545.7 669.9,545.8 670.7,545.9 671.5,545.9 672.3,546 673.1,546 673.9,546.1 674.7,546.1 675.5,546.2 676.3,546.3 677.1,546.3 677.9,546.4 678.7,546.4 679.5,546.5 680.3,546.6 681.1,546.6 681.9,546.7 682.7,546.7 683.5,546.8 684.3,546.8 685.1,546.9 685.9,547 686.7,547 687.5,547.1 688.3,547.1 689.1,547.2 689.9,547.3 690.7,547.3 691.5,547.4 692.3,547.4 693.1,547.5 693.9,547.6 694.7,547.6 695.5,547.7 696.3,547.7 697.1,547.8 697.9,547.9 698.7,548 699.5,548 700.3,548.1 701.1,548.2 701.9,548.3 702.7,548.4 703.5,548.5 704.3,548.5 705.1,548.6 705.9,548.7 706.7,548.8 707.5,548.9 708.3,549 709.1,549.1 709.9,549.2 710.7,549.3 711.5,549.4 712.3,549.6 713.1,549.7 713.9,549.8 714.7,549.9 715.5,550 716.3,550.1 717.1,550.2 717.9,550.3 718.7,550.4 719.5,550.5 720.3,550.6 721.1,550.7 721.9,550.8 722.7,550.9 723.5,551 724.3,551.1 725.1,551.2 725.9,551.3 726.7,551.4 727.5,551.5 728.3,551.6 729.1,551.7 729.9,551.8 730.7,551.9 731.5,552 732.3,552.1 733.1,552.2 733.9,552.3 734.7,552.4 735.5,552.5 736.3,552.6 737.1,552.7 737.9,552.8 738.7,552.9 739.5,553 740.3,553.1 741.1,553.2 741.9,553.3 742.7,553.4 743.5,553.5 744.3,553.6 745.1,553.6 745.9,553.7 746.7,553.8 747.5,553.9 748.3,553.9 749.1,554 749.9,554.1 750.7,554.1 751.5,554.2 752.3,554.2 753.1,554.3 753.9,554.3 754.7,554.3 755.5,554.4 756.3,554.4 757.1,554.5 757.9,554.5 758.7,554.5 759.5,554.6 760.3,554.6 761.1,554.7 761.9,554.7 762.7,554.7 763.5,554.8 764.3,554.8 765.1,554.9 765.9,554.9 766.7,554.9 767.5,555 768.3,555 769.1,555 769.9,555 770.7,555.1 771.5,555.1 772.3,555.1 773.1,555.1 773.9,555.1 774.7,555.1 775.5,555.1 776.3,555.1 777.1,555.1 777.9,555.1 778.7,555.1 779.5,555.2 780.3,555.2 781.1,555.2 781.9,555.2 782.7,555.2 783.5,555.2 784.3,555.2 785.1,555.2 785.9,555.1 786.7,555.1 787.5,555.1 788.3,555.1 789.1,555 789.9,555 790.7,554.9 791.5,554.9 792.3,554.8 793.1,554.8 793.9,554.7 794.7,554.6 795.5,554.5 796.3,554.4 797.1,554.4 797.9,554.3 798.7,554.2 799.5,554.1 800.3,554 801.1,554 801.9,553.9 802.7,553.8 803.5,553.7 804.3,553.7 805.1,553.6 805.9,553.5 806.7,553.5 807.5,553.4 808.3,553.4 809.1,553.3" fill="none" stroke="#2c8a2c" stroke-width="1.1" stroke-linejoin="round" />
<polyline points="525.9,540 526.7,539.9 527.5,539.9 528.3,539.9 529.1,539.8 529.9,539.8 530.7,539.7 531.5,539.6 532.3,539.6 533.1,539.5 533.9,539.3 534.7,539.2 535.5,539.1 536.3,538.9 537.1,538.7 537.9,538.5 538.7,538.3 539.5,538 540.3,537.8 541.1,537.4 541.9,537.1 542.7,536.7 543.5,536.3 544.3,535.9 545.1,535.4 545.9,534.9 546.7,534.4 547.5,533.8 548.3,533.2 549.1,532.6 549.9,532 550.7,531.3 551.5,530.6 552.3,529.9 553.1,529.2 553.9,528.4 554.7,527.7 555.5,527 556.3,526.2 557.1,525.5 557.9,524.9 558.7,524.2 559.5,523.6 560.3,523 561.1,522.5 561.9,522 562.7,521.5 563.5,521.2 564.3,520.9 565.1,520.6 565.9,520.5 566.7,520.4 567.5,520.4 568.3,520.4 569.1,520.5 569.9,520.7 570.7,521 571.5,521.3 572.3,521.7 573.1,522.2 573.9,522.7 574.7,523.3 575.5,523.9 576.3,524.5 577.1,525.2 577.9,525.9 578.7,526.6 579.5,527.4 580.3,528.1 581.1,528.9 581.9,529.6 582.7,530.3 583.5,531.1 584.3,531.8 585.1,532.5 585.9,533.1 586.7,533.8 587.5,534.4 588.3,535 589.1,535.5 589.9,536.1 590.7,536.5 591.5,537 592.3,537.4 593.1,537.8 593.9,538.2 594.7,538.5 595.5,538.8 596.3,539.1 597.1,539.3 597.9,539.6 598.7,539.8 599.5,540 600.3,540.2 601.1,540.3 601.9,540.5 602.7,540.6 603.5,540.8 604.3,540.9 605.1,541 605.9,541.1 606.7,541.2 607.5,541.3 608.3,541.4 609.1,541.5" fill="none" stroke="#19e019" stroke-width="1.3" stroke-linejoin="round" />
<polyline points="566.7,540.2 567.5,540.2 568.3,540.2 569.1,540.2 569.9,540.2 570.7,540.2 571.5,540.2 572.3,540.1 573.1,540.1 573.9,540.1 574.7,540.1 575.5,540 576.3,540 577.1,539.9 577.9,539.9 578.7,539.8 579.5,539.7 580.3,539.7 581.1,539.6 581.9,539.5 582.7,539.4 583.5,539.3 584.3,539.1 585.1,539 585.9,538.8 586.7,538.7 587.5,538.5 588.3,538.3 589.1,538 589.9,537.8 590.7,537.6 591.5,537.3 592.3,537 593.1,536.7 593.9,536.3 594.7,536 595.5,535.6 596.3,535.2 597.1,534.8 597.9,534.3 598.7,533.9 599.5,533.4 600.3,532.9 601.1,532.4 601.9,531.8 602.7,531.2 603.5,530.6 604.3,530 605.1,529.4 605.9,528.7 606.7,528 607.5,527.3 608.3,526.6 609.1,525.8 609.9,525.1 610.7,524.3 611.5,523.5 612.3,522.7 613.1,521.9 613.9,521.1 614.7,520.3 615.5,519.5 616.3,518.6 617.1,517.8 617.9,517 618.7,516.2 619.5,515.4 620.3,514.6 621.1,513.9 621.9,513.1 622.7,512.4 623.5,511.7 624.3,511.1 625.1,510.4 625.9,509.8 626.7,509.3 627.5,508.8 628.3,508.3 629.1,507.9 629.9,507.5 630.7,507.2 631.5,506.9 632.3,506.7 633.1,506.5 633.9,506.4 634.7,506.3 635.5,506.3 636.3,506.4 637.1,506.5 637.9,506.6 638.7,506.9 639.5,507.1 640.3,507.5 641.1,507.9 641.9,508.3 642.7,508.8 643.5,509.3 644.3,509.9 645.1,510.5 645.9,511.2 646.7,511.9 647.5,512.6 648.3,513.4 649.1,514.2 649.9,515 650.7,515.9 651.5,516.7 652.3,517.6 653.1,518.5 653.9,519.5 654.7,520.4 655.5,521.3 656.3,522.2 657.1,523.2 657.9,524.1 658.7,525 659.5,526 660.3,526.9 661.1,527.8 661.9,528.7 662.7,529.5 663.5,530.4 664.3,531.2 665.1,532 665.9,532.8 666.7,533.6 667.5,534.3 668.3,535.1 669.1,535.8 669.9,536.4 670.7,537.1 671.5,537.7 672.3,538.3 673.1,538.9 673.9,539.4 674.7,540 675.5,540.5 676.3,541 677.1,541.4 677.9,541.8 678.7,542.3 679.5,542.6 680.3,543 681.1,543.4 681.9,543.7 682.7,544 683.5,544.3 684.3,544.6 685.1,544.8 685.9,545.1 686.7,545.3 687.5,545.5 688.3,545.7 689.1,545.9 689.9,546.1 690.7,546.3 691.5,546.4 692.3,546.6 693.1,546.7 693.9,546.9 694.7,547 695.5,547.1 696.3,547.3 697.1,547.4 697.9,547.5 698.7,547.6 699.5,547.7 700.3,547.8 701.1,548 701.9,548.1 702.7,548.2 703.5,548.3 704.3,548.4 705.1,548.5" fill="none" stroke="#1a1a8c" stroke-width="1.3" stroke-linejoin="round" />
<polyline points="609.1,541.5 609.9,541.5 610.7,541.5 611.5,541.6 612.3,541.6 613.1,541.7 613.9,541.7 614.7,541.7 615.5,541.7 616.3,541.8 617.1,541.8 617.9,541.8 618.7,541.8 619.5,541.8 620.3,541.9 621.1,541.9 621.9,541.9 622.7,541.9 623.5,541.9 624.3,541.9 625.1,541.9 625.9,541.8 626.7,541.8 627.5,541.8 628.3,541.8 629.1,541.7 629.9,541.7 630.7,541.6 631.5,541.6 632.3,541.5 633.1,541.5 633.9,541.4 634.7,541.3 635.5,541.2 636.3,541.1 637.1,541 637.9,540.9 638.7,540.7 639.5,540.6 640.3,540.4 641.1,540.3 641.9,540.1 642.7,539.9 643.5,539.7 644.3,539.5 645.1,539.3 645.9,539.1 646.7,538.8 647.5,538.6 648.3,538.3 649.1,538 649.9,537.7 650.7,537.4 651.5,537.1 652.3,536.7 653.1,536.4 653.9,536 654.7,535.6 655.5,535.2 656.3,534.8 657.1,534.3 657.9,533.9 658.7,533.4 659.5,532.9 660.3,532.4 661.1,531.9 661.9,531.4 662.7,530.9 663.5,530.3 664.3,529.8 665.1,529.2 665.9,528.6 666.7,528.1 667.5,527.5 668.3,526.9 669.1,526.3 669.9,525.6 670.7,525 671.5,524.4 672.3,523.8 673.1,523.2 673.9,522.5 674.7,521.9 675.5,521.3 676.3,520.7 677.1,520 677.9,519.4 678.7,518.8 679.5,518.2 680.3,517.7 681.1,517.1 681.9,516.5 682.7,516 683.5,515.5 684.3,514.9 685.1,514.4 685.9,514 686.7,513.5 687.5,513.1 688.3,512.7 689.1,512.3 689.9,511.9 690.7,511.6 691.5,511.3 692.3,511 693.1,510.8 693.9,510.6 694.7,510.4 695.5,510.3 696.3,510.1 697.1,510.1 697.9,510 698.7,510 699.5,510 700.3,510.1 701.1,510.2 701.9,510.4 702.7,510.5 703.5,510.7 704.3,511 705.1,511.3 705.9,511.6 706.7,511.9 707.5,512.3 708.3,512.7 709.1,513.2 709.9,513.6 710.7,514.1 711.5,514.7 712.3,515.2 713.1,515.8 713.9,516.4 714.7,517 715.5,517.6 716.3,518.3 717.1,519 717.9,519.7 718.7,520.4 719.5,521.1 720.3,521.8 721.1,522.6 721.9,523.3 722.7,524.1 723.5,524.8 724.3,525.6 725.1,526.4 725.9,527.2 726.7,528 727.5,528.8 728.3,529.5 729.1,530.3 729.9,531.1 730.7,531.9 731.5,532.7 732.3,533.4 733.1,534.2 733.9,534.9 734.7,535.7 735.5,536.4 736.3,537.1 737.1,537.8 737.9,538.5 738.7,539.2 739.5,539.9 740.3,540.6 741.1,541.2 741.9,541.9 742.7,542.5 743.5,543.1 744.3,543.6 745.1,544.2 745.9,544.8 746.7,545.3 747.5,545.8 748.3,546.3 749.1,546.7 749.9,547.2 750.7,547.6 751.5,548 752.3,548.4 753.1,548.8 753.9,549.1 754.7,549.5 755.5,549.8 756.3,550.1 757.1,550.4 757.9,550.7 758.7,551 759.5,551.2 760.3,551.5 761.1,551.7 761.9,552 762.7,552.2 763.5,552.4 764.3,552.6 765.1,552.8 765.9,553 766.7,553.1 767.5,553.3 768.3,553.4 769.1,553.6 769.9,553.7 770.7,553.8 771.5,553.9 772.3,554 773.1,554.1 773.9,554.2 774.7,554.3 775.5,554.4 776.3,554.4 777.1,554.5 777.9,554.6 778.7,554.6 779.5,554.7 780.3,554.7 781.1,554.7 781.9,554.8 782.7,554.8 783.5,554.9 784.3,554.9 785.1,554.9 785.9,554.9 786.7,554.9 787.5,554.9 788.3,554.9 789.1,554.9 789.9,554.8 790.7,554.8" fill="none" stroke="#1a1a8c" stroke-width="1.3" stroke-linejoin="round" />
<polyline points="640.3,543.5 641.1,543.4 641.9,543.3 642.7,543.2 643.5,542.9 644.3,542.5 645.1,542 645.9,541.3 646.7,540.3 647.5,539.1 648.3,537.5 649.1,535.6 649.9,533.2 650.7,530.4 651.5,527.2 652.3,523.7 653.1,519.8 653.9,515.7 654.7,511.5 655.5,507.3 656.3,503.3 657.1,499.7 657.9,496.7 658.7,494.3 659.5,492.8 660.3,492.1 661.1,492.4 661.9,493.6 662.7,495.7 663.5,498.6 664.3,502 665.1,505.9 665.9,510.1 666.7,514.5 667.5,518.8 668.3,522.9 669.1,526.8 669.9,530.3 670.7,533.4 671.5,536 672.3,538.3 673.1,540.2 673.9,541.7 674.7,542.9 675.5,543.9 676.3,544.6 677.1,545.2 677.9,545.6 678.7,545.9 679.5,546.1 680.3,546.3 681.1,546.5" fill="none" stroke="#e01818" stroke-width="1.3" stroke-linejoin="round" />
<polyline points="694.7,547.5 695.5,547.5 696.3,547.5 697.1,547.4 697.9,547.3 698.7,547.1 699.5,546.9 700.3,546.5 701.1,546.1 701.9,545.5 702.7,544.6 703.5,543.6 704.3,542.2 705.1,540.6 705.9,538.5 706.7,536 707.5,533.1 708.3,529.7 709.1,525.8 709.9,521.4 710.7,516.4 711.5,511 712.3,505.1 713.1,499 713.9,492.5 714.7,486 715.5,479.5 716.3,473.3 717.1,467.4 717.9,462 718.7,457.3 719.5,453.5 720.3,450.7 721.1,448.9 721.9,448.3 722.7,448.8 723.5,450.5 724.3,453.3 725.1,457.1 725.9,461.7 726.7,467.1 727.5,473.1 728.3,479.5 729.1,486.2 729.9,492.9 730.7,499.6 731.5,506 732.3,512.2 733.1,517.9 733.9,523.2 734.7,527.9 735.5,532.2 736.3,535.9 737.1,539.2 737.9,541.9 738.7,544.3 739.5,546.2 740.3,547.9 741.1,549.2 741.9,550.2 742.7,551.1 743.5,551.8 744.3,552.3 745.1,552.8 745.9,553.1 746.7,553.4 747.5,553.6 748.3,553.7 749.1,553.9" fill="none" stroke="#e01818" stroke-width="1.3" stroke-linejoin="round" />
<polyline points="485.1,529.9 485.9,530.9 486.7,531.8 487.5,532.5 488.3,533.1 489.1,533.7 489.9,534.1 490.7,534.5 491.5,534.9 492.3,535.2 493.1,535.4 493.9,535.7 494.7,535.9 495.5,536.1 496.3,536.3 497.1,536.4 497.9,536.6 498.7,536.7 499.5,536.9 500.3,537 501.1,537.1 501.9,537.2 502.7,537.3 503.5,537.4 504.3,537.5 505.1,537.6 505.9,537.7 506.7,537.7 507.5,537.8 508.3,537.9 509.1,538 509.9,538 510.7,538.1 511.5,538.2 512.3,538.2 513.1,538.3 513.9,538.4 514.7,538.4 515.5,538.5 516.3,538.5 517.1,538.6 517.9,538.6 518.7,538.7 519.5,538.7 520.3,538.7 521.1,538.8 521.9,538.8 522.7,538.8 523.5,538.9 524.3,538.9 525.1,538.9 525.9,538.9 526.7,538.9 527.5,538.9 528.3,538.9 529.1,538.9 529.9,538.9 530.7,538.8 531.5,538.8 532.3,538.7 533.1,538.7 533.9,538.6 534.7,538.5 535.5,538.4 536.3,538.2 537.1,538 537.9,537.9 538.7,537.7 539.5,537.4 540.3,537.2 541.1,536.9 541.9,536.5 542.7,536.2 543.5,535.8 544.3,535.4 545.1,534.9 545.9,534.4 546.7,533.9 547.5,533.4 548.3,532.8 549.1,532.2 549.9,531.5 550.7,530.9 551.5,530.2 552.3,529.5 553.1,528.8 553.9,528.1 554.7,527.3 555.5,526.6 556.3,525.9 557.1,525.2 557.9,524.5 558.7,523.9 559.5,523.3 560.3,522.7 561.1,522.1 561.9,521.7 562.7,521.2 563.5,520.9 564.3,520.6 565.1,520.3 565.9,520.1 566.7,520 567.5,520 568.3,520 569.1,520.2 569.9,520.3 570.7,520.6 571.5,520.9 572.3,521.3 573.1,521.7 573.9,522.2 574.7,522.7 575.5,523.2 576.3,523.8 577.1,524.4 577.9,525.1 578.7,525.7 579.5,526.4 580.3,527.1 581.1,527.7 581.9,528.3 582.7,529 583.5,529.6 584.3,530.1 585.1,530.7 585.9,531.2 586.7,531.6 587.5,532 588.3,532.4 589.1,532.7 589.9,533 590.7,533.2 591.5,533.4 592.3,533.5 593.1,533.5 593.9,533.5 594.7,533.5 595.5,533.4 596.3,533.3 597.1,533.1 597.9,532.9 598.7,532.6 599.5,532.2 600.3,531.9 601.1,531.5 601.9,531 602.7,530.6 603.5,530 604.3,529.5 605.1,528.9 605.9,528.3 606.7,527.6 607.5,527 608.3,526.3 609.1,525.5 609.9,524.8 610.7,524 611.5,523.2 612.3,522.4 613.1,521.6 613.9,520.8 614.7,520 615.5,519.1 616.3,518.3 617.1,517.4 617.9,516.6 618.7,515.8 619.5,514.9 620.3,514.1 621.1,513.3 621.9,512.5 622.7,511.8 623.5,511 624.3,510.3 625.1,509.6 625.9,509 626.7,508.4 627.5,507.8 628.3,507.2 629.1,506.7 629.9,506.2 630.7,505.8 631.5,505.4 632.3,505.1 633.1,504.8 633.9,504.5 634.7,504.3 635.5,504.2 636.3,504.1 637.1,504 637.9,504 638.7,504 639.5,504 640.3,504.1 641.1,504.2 641.9,504.2 642.7,504.3 643.5,504.2 644.3,504.1 645.1,503.9 645.9,503.5 646.7,502.9 647.5,502 648.3,500.8 649.1,499.2 649.9,497.3 650.7,494.9 651.5,492.2 652.3,489 653.1,485.6 653.9,481.9 654.7,478.1 655.5,474.3 656.3,470.7 657.1,467.5 657.9,464.8 658.7,462.8 659.5,461.6 660.3,461.2 661.1,461.8 661.9,463.3 662.7,465.6 663.5,468.6 664.3,472.2 665.1,476.3 665.9,480.6 666.7,485 667.5,489.3 668.3,493.5 669.1,497.3 669.9,500.8 670.7,503.8 671.5,506.3 672.3,508.5 673.1,510.2 673.9,511.5 674.7,512.5 675.5,513.2 676.3,513.7 677.1,514 677.9,514.1 678.7,514.1 679.5,514 680.3,513.9 681.1,513.7 681.9,513.4 682.7,513.2 683.5,512.9 684.3,512.6 685.1,512.4 685.9,512.1 686.7,511.8 687.5,511.5 688.3,511.3 689.1,511 689.9,510.8 690.7,510.6 691.5,510.4 692.3,510.2 693.1,510 693.9,509.8 694.7,509.7 695.5,509.5 696.3,509.4 697.1,509.2 697.9,509 698.7,508.8 699.5,508.6 700.3,508.3 701.1,507.9 701.9,507.3 702.7,506.6 703.5,505.7 704.3,504.5 705.1,503.1 705.9,501.2 706.7,499 707.5,496.4 708.3,493.3 709.1,489.8 709.9,485.7 710.7,481.1 711.5,476.1 712.3,470.8 713.1,465.1 713.9,459.1 714.7,453.1 715.5,447.2 716.3,441.5 717.1,436.1 717.9,431.4 718.7,427.3 719.5,424.1 720.3,421.9 721.1,420.8 721.9,420.8 722.7,422 723.5,424.4 724.3,427.8 725.1,432.3 725.9,437.6 726.7,443.7 727.5,450.4 728.3,457.5 729.1,464.8 729.9,472.3 730.7,479.6 731.5,486.7 732.3,493.5 733.1,499.9 733.9,505.8 734.7,511.2 735.5,516.1 736.3,520.5 737.1,524.3 737.9,527.7 738.7,530.6 739.5,533.2 740.3,535.3 741.1,537.2 741.9,538.8 742.7,540.2 743.5,541.4 744.3,542.4 745.1,543.3 745.9,544.1 746.7,544.8 747.5,545.5 748.3,546 749.1,546.6 749.9,547.1 750.7,547.5 751.5,548 752.3,548.4 753.1,548.8 753.9,549.1 754.7,549.5 755.5,549.8 756.3,550.1 757.1,550.4 757.9,550.7 758.7,551 759.5,551.2 760.3,551.5 761.1,551.7 761.9,552 762.7,552.2 763.5,552.4 764.3,552.6 765.1,552.8 765.9,553 766.7,553.1 767.5,553.3 768.3,553.4 769.1,553.6 769.9,553.7 770.7,553.8 771.5,553.9 772.3,554 773.1,554.1 773.9,554.2 774.7,554.3 775.5,554.4 776.3,554.4 777.1,554.5 777.9,554.6 778.7,554.6 779.5,554.7 780.3,554.7 781.1,554.7 781.9,554.8 782.7,554.8 783.5,554.9 784.3,554.9 785.1,554.9 785.9,554.9 786.7,554.9 787.5,554.9 788.3,554.9 789.1,554.9 789.9,554.8 790.7,554.8 791.5,554.8 792.3,554.7 793.1,554.7 793.9,554.6 794.7,554.5 795.5,554.5 796.3,554.4 797.1,554.3 797.9,554.2 798.7,554.2 799.5,554.1 800.3,554 801.1,553.9 801.9,553.9 802.7,553.8 803.5,553.7 804.3,553.6 805.1,553.6 805.9,553.5 806.7,553.4 807.5,553.4 808.3,553.4 809.1,553.3" fill="none" stroke="#111" stroke-width="1.5" stroke-linejoin="round" />
<rect x="484.8" y="334.2" width="325.2" height="243.1" fill="none" stroke="#111" stroke-width="1.3"/>
<path d="M810 577.3v5M769.4 577.3v5M728.7 577.3v5M688 577.3v5M647.4 577.3v5M606.8 577.3v5M566.1 577.3v5M525.5 577.3v5M484.8 577.3v5" stroke="#222" stroke-width="1.1" fill="none"/>
<path d="M789.7 577.3v2.6M749 577.3v2.6M708.4 577.3v2.6M667.7 577.3v2.6M627.1 577.3v2.6M586.4 577.3v2.6M545.8 577.3v2.6M505.1 577.3v2.6" stroke="#222" stroke-width="1.1" fill="none"/>
<text x="810" y="596.6" font-family='"Liberation Serif", "DejaVu Serif", serif' font-size="14.7" font-weight="normal" text-anchor="middle" fill="#000" >224</text>
<text x="769.4" y="596.6" font-family='"Liberation Serif", "DejaVu Serif", serif' font-size="14.7" font-weight="normal" text-anchor="middle" fill="#000" >226</text>
<text x="728.7" y="596.6" font-family='"Liberation Serif", "DejaVu Serif", serif' font-size="14.7" font-weight="normal" text-anchor="middle" fill="#000" >228</text>
<text x="688" y="596.6" font-family='"Liberation Serif", "DejaVu Serif", serif' font-size="14.7" font-weight="normal" text-anchor="middle" fill="#000" >230</text>
<text x="647.4" y="596.6" font-family='"Liberation Serif", "DejaVu Serif", serif' font-size="14.7" font-weight="normal" text-anchor="middle" fill="#000" >232</text>
<text x="606.8" y="596.6" font-family='"Liberation Serif", "DejaVu Serif", serif' font-size="14.7" font-weight="normal" text-anchor="middle" fill="#000" >234</text>
<text x="566.1" y="596.6" font-family='"Liberation Serif", "DejaVu Serif", serif' font-size="14.7" font-weight="normal" text-anchor="middle" fill="#000" >236</text>
<text x="525.5" y="596.6" font-family='"Liberation Serif", "DejaVu Serif", serif' font-size="14.7" font-weight="normal" text-anchor="middle" fill="#000" >238</text>
<text x="484.8" y="596.6" font-family='"Liberation Serif", "DejaVu Serif", serif' font-size="14.7" font-weight="normal" text-anchor="middle" fill="#000" >240</text>
<text x="647" y="620.8" font-family='"Liberation Serif", "DejaVu Serif", serif' font-size="14.8" font-weight="normal" text-anchor="middle" fill="#000" >Binding Energy (eV)</text>
<text x="465" y="451.8" font-family='"Liberation Serif", "DejaVu Serif", serif' font-size="14.6" font-weight="normal" text-anchor="middle" fill="#000" transform="rotate(-90 465 451.8)" >Intensity (a.u)</text>
<line x1="501.2" y1="384.2" x2="535" y2="384.2" stroke="#8a8a8a" stroke-width="0.9" stroke-dasharray="1 1"/>
<line x1="501.2" y1="402.5" x2="535" y2="402.5" stroke="#d03a3a" stroke-width="1.2" />
<line x1="501.2" y1="420.7" x2="535" y2="420.7" stroke="#34345e" stroke-width="1.2" />
<line x1="501.2" y1="441.3" x2="535" y2="441.3" stroke="#25ee25" stroke-width="1.2" />
<text x="538.5" y="389" font-family='"Liberation Serif", "DejaVu Serif", serif' font-size="14.7" font-weight="normal" text-anchor="start" fill="#000" >Raw data</text>
<text x="538.5" y="407.4" font-family='"Liberation Serif", "DejaVu Serif", serif' font-size="14.7" font-weight="normal" text-anchor="start" fill="#000" >1T</text>
<text x="538.5" y="425.7" font-family='"Liberation Serif", "DejaVu Serif", serif' font-size="14.7" font-weight="normal" text-anchor="start" fill="#000" >2H</text>
<text x="538.5" y="446" font-family='"Liberation Serif", "DejaVu Serif", serif' font-size="14.7" font-weight="normal" text-anchor="start" fill="#000" >Mo<tspan dy="-6" font-size="9.5">6+</tspan></text>
<text x="741" y="399.2" font-family='"Liberation Serif", "DejaVu Serif", serif' font-size="14.7" font-weight="normal" text-anchor="start" fill="#000" >Mo<tspan dy="4" font-size="9.5">3d</tspan></text>
<text x="837" y="352" font-family='"Liberation Sans", "DejaVu Sans", sans-serif' font-size="23" font-weight="normal" text-anchor="start" fill="#000" letter-spacing="1.5">(f)</text>
<polyline points="879.6,543.9 884.4,540.8 892.3,544.9 901.9,538.5 908.3,539.8 917.2,532.8 924.3,543.9 935.4,544.9 944,529.6 956.2,537.6 968.9,520 978.5,488.7 984.3,532.8 988.7,515.2 992.9,508.8 999.3,486.5 1005.7,481.7 1013.6,484.9 1016.8,491.3 1020,478.5 1029.6,443.4 1039.2,446 1040.8,427.5 1045.2,399.6 1052.8,433.8 1062.3,458.7 1073.5,427.5 1079.9,462.6 1091.1,468.9 1101.3,488.7 1110.9,476 1123.6,526.4 1132.6,529.6 1139.6,524.8 1146.9,550.3 1156.5,542.4 1162.9,551.3 1172.5,540.8 1182,554.5 1194.8,557.7 1206,551.3 1212.2,556.7" fill="none" stroke="#9a9a9a" stroke-width="0.9" stroke-linejoin="round" stroke-dasharray="1.2 1"/>
<polyline points="878.7,544.9 879.5,544.9 880.3,544.9 881.1,544.9 881.9,544.9 882.7,544.9 883.5,544.9 884.3,544.9 885.1,544.9 885.9,544.9 886.7,544.9 887.5,544.9 888.3,544.9 889.1,544.9 889.9,544.9 890.7,544.9 891.5,544.9 892.3,544.9 893.1,544.9 893.9,544.9 894.7,544.9 895.5,544.9 896.3,544.9 897.1,544.9 897.9,544.9 898.7,544.9 899.5,544.9 900.3,544.9 901.1,544.9 901.9,544.9 902.7,544.9 903.5,544.9 904.3,544.9 905.1,544.9 905.9,544.9 906.7,544.9 907.5,544.9 908.3,544.9 909.1,544.9 909.9,544.9 910.7,544.9 911.5,544.9 912.3,544.9 913.1,544.9 913.9,544.9 914.7,544.9 915.5,544.9 916.3,544.9 917.1,544.9 917.9,544.9 918.7,544.9 919.5,544.9 920.3,544.9 921.1,544.9 921.9,544.9 922.7,544.9 923.5,544.9 924.3,544.9 925.1,544.9 925.9,545 926.7,545 927.5,545 928.3,545 929.1,545 929.9,545 930.7,545 931.5,545 932.3,545 933.1,545 933.9,545 934.7,545 935.5,545 936.3,545 937.1,545 937.9,545 938.7,545 939.5,545 940.3,545 941.1,545 941.9,545 942.7,545 943.5,545 944.3,545 945.1,545 945.9,545 946.7,545 947.5,545 948.3,545 949.1,545 949.9,545 950.7,545 951.5,545 952.3,545 953.1,545 953.9,545 954.7,545 955.5,545 956.3,545 957.1,545 957.9,545 958.7,545 959.5,545 960.3,545 961.1,545 961.9,545 962.7,545 963.5,545 964.3,545 965.1,545 965.9,545 966.7,545 967.5,545 968.3,545 969.1,545.1 969.9,545.1 970.7,545.1 971.5,545.1 972.3,545.1 973.1,545.2 973.9,545.2 974.7,545.2 975.5,545.3 976.3,545.3 977.1,545.4 977.9,545.4 978.7,545.4 979.5,545.5 980.3,545.5 981.1,545.6 981.9,545.6 982.7,545.7 983.5,545.7 984.3,545.8 985.1,545.8 985.9,545.9 986.7,546 987.5,546 988.3,546.1 989.1,546.1 989.9,546.2 990.7,546.2 991.5,546.3 992.3,546.3 993.1,546.4 993.9,546.4 994.7,546.5 995.5,546.5 996.3,546.6 997.1,546.6 997.9,546.7 998.7,546.7 999.5,546.8 1000.3,546.8 1001.1,546.9 1001.9,546.9 1002.7,547 1003.5,547 1004.3,547.1 1005.1,547.1 1005.9,547.2 1006.7,547.2 1007.5,547.3 1008.3,547.3 1009.1,547.4 1009.9,547.5 1010.7,547.5 1011.5,547.6 1012.3,547.6 1013.1,547.7 1013.9,547.7 1014.7,547.8 1015.5,547.8 1016.3,547.9 1017.1,547.9 1017.9,548 1018.7,548 1019.5,548.1 1020.3,548.1 1021.1,548.2 1021.9,548.2 1022.7,548.3 1023.5,548.3 1024.3,548.4 1025.1,548.4 1025.9,548.5 1026.7,548.5 1027.5,548.6 1028.3,548.6 1029.1,548.7 1029.9,548.7 1030.7,548.8 1031.5,548.8 1032.3,548.9 1033.1,549 1033.9,549 1034.7,549.1 1035.5,549.1 1036.3,549.2 1037.1,549.2 1037.9,549.3 1038.7,549.4 1039.5,549.4 1040.3,549.5 1041.1,549.6 1041.9,549.6 1042.7,549.7 1043.5,549.8 1044.3,549.8 1045.1,549.9 1045.9,550 1046.7,550.1 1047.5,550.2 1048.3,550.2 1049.1,550.3 1049.9,550.4 1050.7,550.5 1051.5,550.5 1052.3,550.6 1053.1,550.7 1053.9,550.8 1054.7,550.9 1055.5,550.9 1056.3,551 1057.1,551.1 1057.9,551.2 1058.7,551.3 1059.5,551.3 1060.3,551.4 1061.1,551.5 1061.9,551.6 1062.7,551.7 1063.5,551.7 1064.3,551.8 1065.1,551.9 1065.9,552 1066.7,552.1 1067.5,552.1 1068.3,552.2 1069.1,552.3 1069.9,552.3 1070.7,552.4 1071.5,552.5 1072.3,552.5 1073.1,552.6 1073.9,552.6 1074.7,552.7 1075.5,552.7 1076.3,552.8 1077.1,552.9 1077.9,552.9 1078.7,552.9 1079.5,553 1080.3,553 1081.1,553.1 1081.9,553.1 1082.7,553.2 1083.5,553.2 1084.3,553.2 1085.1,553.3 1085.9,553.3 1086.7,553.4 1087.5,553.4 1088.3,553.5 1089.1,553.5 1089.9,553.5 1090.7,553.6 1091.5,553.6 1092.3,553.7 1093.1,553.7 1093.9,553.7 1094.7,553.8 1095.5,553.8 1096.3,553.9 1097.1,553.9 1097.9,554 1098.7,554 1099.5,554 1100.3,554.1 1101.1,554.1 1101.9,554.2 1102.7,554.2 1103.5,554.2 1104.3,554.3 1105.1,554.3 1105.9,554.4 1106.7,554.4 1107.5,554.5 1108.3,554.5 1109.1,554.5 1109.9,554.6 1110.7,554.6 1111.5,554.7 1112.3,554.7 1113.1,554.7 1113.9,554.8 1114.7,554.8 1115.5,554.9 1116.3,554.9 1117.1,554.9 1117.9,554.9 1118.7,555 1119.5,555 1120.3,555 1121.1,555.1 1121.9,555.1 1122.7,555.1 1123.5,555.1 1124.3,555.1 1125.1,555.1 1125.9,555.2 1126.7,555.2 1127.5,555.2 1128.3,555.2 1129.1,555.2 1129.9,555.2 1130.7,555.2 1131.5,555.2 1132.3,555.2 1133.1,555.2 1133.9,555.3 1134.7,555.3 1135.5,555.3 1136.3,555.3 1137.1,555.3 1137.9,555.3 1138.7,555.3 1139.5,555.3 1140.3,555.3 1141.1,555.3 1141.9,555.3 1142.7,555.3 1143.5,555.4 1144.3,555.4 1145.1,555.4 1145.9,555.4 1146.7,555.4 1147.5,555.4 1148.3,555.4 1149.1,555.4 1149.9,555.4 1150.7,555.4 1151.5,555.4 1152.3,555.5 1153.1,555.5 1153.9,555.5 1154.7,555.5 1155.5,555.5 1156.3,555.5 1157.1,555.5 1157.9,555.5 1158.7,555.5 1159.5,555.5 1160.3,555.5 1161.1,555.5 1161.9,555.6 1162.7,555.6 1163.5,555.6 1164.3,555.6 1165.1,555.6 1165.9,555.6 1166.7,555.6 1167.5,555.6 1168.3,555.6 1169.1,555.6 1169.9,555.6 1170.7,555.6 1171.5,555.7 1172.3,555.7 1173.1,555.7 1173.9,555.7 1174.7,555.7 1175.5,555.7 1176.3,555.7 1177.1,555.7 1177.9,555.7 1178.7,555.7 1179.5,555.7 1180.3,555.8 1181.1,555.8 1181.9,555.8 1182.7,555.8 1183.5,555.8 1184.3,555.8 1185.1,555.8 1185.9,555.8 1186.7,555.8 1187.5,555.8 1188.3,555.8 1189.1,555.8 1189.9,555.9 1190.7,555.9 1191.5,555.9 1192.3,555.9 1193.1,555.9 1193.9,555.9 1194.7,555.9 1195.5,555.9 1196.3,555.9 1197.1,555.9 1197.9,555.9 1198.7,556 1199.5,556 1200.3,556 1201.1,556 1201.9,556 1202.7,556 1203.5,556 1204.3,556 1205.1,556 1205.9,556 1206.7,556 1207.5,556 1208.3,556 1209.1,556.1 1209.9,556.1 1210.7,556.1 1211.5,556.1" fill="none" stroke="#555a7a" stroke-width="1.0" stroke-linejoin="round" />
<polyline points="931.5,544.8 932.3,544.8 933.1,544.8 933.9,544.8 934.7,544.7 935.5,544.7 936.3,544.7 937.1,544.6 937.9,544.6 938.7,544.5 939.5,544.5 940.3,544.4 941.1,544.3 941.9,544.2 942.7,544.1 943.5,544 944.3,543.9 945.1,543.8 945.9,543.7 946.7,543.5 947.5,543.3 948.3,543.1 949.1,542.9 949.9,542.7 950.7,542.5 951.5,542.2 952.3,541.9 953.1,541.6 953.9,541.2 954.7,540.9 955.5,540.5 956.3,540 957.1,539.6 957.9,539.1 958.7,538.5 959.5,538 960.3,537.4 961.1,536.7 961.9,536 962.7,535.3 963.5,534.5 964.3,533.7 965.1,532.8 965.9,531.9 966.7,531 967.5,530 968.3,528.9 969.1,527.8 969.9,526.7 970.7,525.6 971.5,524.4 972.3,523.1 973.1,521.8 973.9,520.5 974.7,519.2 975.5,517.8 976.3,516.4 977.1,515 977.9,513.6 978.7,512.1 979.5,510.6 980.3,509.2 981.1,507.7 981.9,506.2 982.7,504.7 983.5,503.3 984.3,501.8 985.1,500.4 985.9,499 986.7,497.6 987.5,496.3 988.3,495 989.1,493.8 989.9,492.6 990.7,491.5 991.5,490.4 992.3,489.4 993.1,488.5 993.9,487.7 994.7,487 995.5,486.3 996.3,485.7 997.1,485.3 997.9,484.9 998.7,484.6 999.5,484.4 1000.3,484.4 1001.1,484.4 1001.9,484.5 1002.7,484.7 1003.5,485.1 1004.3,485.5 1005.1,486 1005.9,486.7 1006.7,487.4 1007.5,488.2 1008.3,489.1 1009.1,490 1009.9,491.1 1010.7,492.2 1011.5,493.4 1012.3,494.7 1013.1,496 1013.9,497.3 1014.7,498.7 1015.5,500.2 1016.3,501.7 1017.1,503.2 1017.9,504.7 1018.7,506.3 1019.5,507.9 1020.3,509.5 1021.1,511 1021.9,512.6 1022.7,514.2 1023.5,515.8 1024.3,517.3 1025.1,518.8 1025.9,520.3 1026.7,521.8 1027.5,523.2 1028.3,524.7 1029.1,526 1029.9,527.4 1030.7,528.7 1031.5,529.9 1032.3,531.1 1033.1,532.3 1033.9,533.4 1034.7,534.5 1035.5,535.5 1036.3,536.5 1037.1,537.5 1037.9,538.4 1038.7,539.3 1039.5,540.1 1040.3,540.9 1041.1,541.6 1041.9,542.3 1042.7,543 1043.5,543.6 1044.3,544.2 1045.1,544.7 1045.9,545.3 1046.7,545.8 1047.5,546.2 1048.3,546.7 1049.1,547.1 1049.9,547.5 1050.7,547.8 1051.5,548.2 1052.3,548.5 1053.1,548.8 1053.9,549.1 1054.7,549.3 1055.5,549.6 1056.3,549.8 1057.1,550 1057.9,550.2 1058.7,550.4 1059.5,550.6 1060.3,550.7 1061.1,550.9 1061.9,551 1062.7,551.2 1063.5,551.3 1064.3,551.5 1065.1,551.6 1065.9,551.7 1066.7,551.8 1067.5,551.9 1068.3,552 1069.1,552.1 1069.9,552.2 1070.7,552.3" fill="none" stroke="#18187e" stroke-width="1.4" stroke-linejoin="round" />
<polyline points="992.3,546.2 993.1,546.2 993.9,546.2 994.7,546.2 995.5,546.3 996.3,546.3 997.1,546.3 997.9,546.3 998.7,546.3 999.5,546.2 1000.3,546.2 1001.1,546.2 1001.9,546.1 1002.7,546.1 1003.5,546 1004.3,545.9 1005.1,545.8 1005.9,545.6 1006.7,545.5 1007.5,545.3 1008.3,545.1 1009.1,544.9 1009.9,544.6 1010.7,544.3 1011.5,544 1012.3,543.6 1013.1,543.2 1013.9,542.8 1014.7,542.3 1015.5,541.8 1016.3,541.3 1017.1,540.7 1017.9,540 1018.7,539.3 1019.5,538.6 1020.3,537.7 1021.1,536.9 1021.9,536 1022.7,535 1023.5,534 1024.3,532.9 1025.1,531.8 1025.9,530.7 1026.7,529.5 1027.5,528.2 1028.3,526.9 1029.1,525.6 1029.9,524.2 1030.7,522.8 1031.5,521.4 1032.3,520 1033.1,518.5 1033.9,517.1 1034.7,515.6 1035.5,514.1 1036.3,512.7 1037.1,511.3 1037.9,509.9 1038.7,508.6 1039.5,507.3 1040.3,506 1041.1,504.8 1041.9,503.7 1042.7,502.7 1043.5,501.7 1044.3,500.8 1045.1,500 1045.9,499.3 1046.7,498.7 1047.5,498.3 1048.3,497.9 1049.1,497.6 1049.9,497.5 1050.7,497.5 1051.5,497.6 1052.3,497.8 1053.1,498.1 1053.9,498.6 1054.7,499.1 1055.5,499.8 1056.3,500.5 1057.1,501.4 1057.9,502.4 1058.7,503.4 1059.5,504.6 1060.3,505.8 1061.1,507.1 1061.9,508.4 1062.7,509.8 1063.5,511.3 1064.3,512.8 1065.1,514.3 1065.9,515.9 1066.7,517.5 1067.5,519 1068.3,520.6 1069.1,522.2 1069.9,523.8 1070.7,525.3 1071.5,526.8 1072.3,528.3 1073.1,529.8 1073.9,531.2 1074.7,532.6 1075.5,534 1076.3,535.3 1077.1,536.5 1077.9,537.7 1078.7,538.9 1079.5,540 1080.3,541 1081.1,542 1081.9,543 1082.7,543.8 1083.5,544.7 1084.3,545.5 1085.1,546.2 1085.9,546.9 1086.7,547.5 1087.5,548.1 1088.3,548.7 1089.1,549.2 1089.9,549.7 1090.7,550.1 1091.5,550.5 1092.3,550.9 1093.1,551.2 1093.9,551.6 1094.7,551.8 1095.5,552.1 1096.3,552.3 1097.1,552.6 1097.9,552.8 1098.7,553 1099.5,553.1 1100.3,553.3 1101.1,553.4 1101.9,553.6 1102.7,553.7 1103.5,553.8 1104.3,553.9 1105.1,554 1105.9,554.1 1106.7,554.2 1107.5,554.2 1108.3,554.3 1109.1,554.4 1109.9,554.5" fill="none" stroke="#18187e" stroke-width="1.4" stroke-linejoin="round" />
<polyline points="990.7,546.1 991.5,546.1 992.3,546.1 993.1,546.1 993.9,546.1 994.7,546.1 995.5,546.1 996.3,546.1 997.1,546 997.9,546 998.7,545.9 999.5,545.8 1000.3,545.7 1001.1,545.5 1001.9,545.4 1002.7,545.2 1003.5,544.9 1004.3,544.7 1005.1,544.4 1005.9,544 1006.7,543.6 1007.5,543.1 1008.3,542.6 1009.1,542 1009.9,541.4 1010.7,540.7 1011.5,539.9 1012.3,539 1013.1,538.1 1013.9,537 1014.7,535.9 1015.5,534.7 1016.3,533.4 1017.1,532 1017.9,530.6 1018.7,529 1019.5,527.3 1020.3,525.6 1021.1,523.8 1021.9,521.9 1022.7,519.9 1023.5,517.9 1024.3,515.8 1025.1,513.6 1025.9,511.5 1026.7,509.3 1027.5,507.1 1028.3,504.9 1029.1,502.7 1029.9,500.5 1030.7,498.4 1031.5,496.3 1032.3,494.4 1033.1,492.5 1033.9,490.7 1034.7,489.1 1035.5,487.5 1036.3,486.2 1037.1,485 1037.9,483.9 1038.7,483.1 1039.5,482.4 1040.3,482 1041.1,481.7 1041.9,481.6 1042.7,481.8 1043.5,482.1 1044.3,482.7 1045.1,483.4 1045.9,484.4 1046.7,485.5 1047.5,486.8 1048.3,488.3 1049.1,489.9 1049.9,491.7 1050.7,493.5 1051.5,495.5 1052.3,497.6 1053.1,499.8 1053.9,502 1054.7,504.3 1055.5,506.6 1056.3,508.9 1057.1,511.3 1057.9,513.6 1058.7,515.9 1059.5,518.2 1060.3,520.4 1061.1,522.6 1061.9,524.7 1062.7,526.8 1063.5,528.8 1064.3,530.6 1065.1,532.5 1065.9,534.2 1066.7,535.8 1067.5,537.3 1068.3,538.8 1069.1,540.1 1069.9,541.4 1070.7,542.5 1071.5,543.6 1072.3,544.6 1073.1,545.5 1073.9,546.4 1074.7,547.2 1075.5,547.9 1076.3,548.5 1077.1,549.1 1077.9,549.6 1078.7,550.1 1079.5,550.5 1080.3,550.9 1081.1,551.2 1081.9,551.5 1082.7,551.8 1083.5,552 1084.3,552.2 1085.1,552.4 1085.9,552.6 1086.7,552.7 1087.5,552.9 1088.3,553 1089.1,553.1 1089.9,553.2 1090.7,553.3 1091.5,553.4 1092.3,553.5 1093.1,553.6 1093.9,553.6" fill="none" stroke="#a81c1c" stroke-width="1.4" stroke-linejoin="round" />
<polyline points="989.1,546 989.9,546 990.7,546 991.5,546.1 992.3,546.1 993.1,546.1 993.9,546.2 994.7,546.2 995.5,546.2 996.3,546.2 997.1,546.3 997.9,546.3 998.7,546.3 999.5,546.3 1000.3,546.3 1001.1,546.3 1001.9,546.3 1002.7,546.3 1003.5,546.3 1004.3,546.3 1005.1,546.3 1005.9,546.2 1006.7,546.2 1007.5,546.1 1008.3,546.1 1009.1,546 1009.9,546 1010.7,545.9 1011.5,545.8 1012.3,545.7 1013.1,545.6 1013.9,545.5 1014.7,545.4 1015.5,545.2 1016.3,545.1 1017.1,544.9 1017.9,544.7 1018.7,544.5 1019.5,544.3 1020.3,544.1 1021.1,543.9 1021.9,543.6 1022.7,543.3 1023.5,543 1024.3,542.7 1025.1,542.4 1025.9,542 1026.7,541.6 1027.5,541.2 1028.3,540.8 1029.1,540.3 1029.9,539.8 1030.7,539.3 1031.5,538.8 1032.3,538.2 1033.1,537.6 1033.9,537 1034.7,536.3 1035.5,535.6 1036.3,534.9 1037.1,534.2 1037.9,533.4 1038.7,532.6 1039.5,531.8 1040.3,530.9 1041.1,530 1041.9,529.1 1042.7,528.1 1043.5,527.1 1044.3,526.1 1045.1,525.1 1045.9,524 1046.7,522.9 1047.5,521.7 1048.3,520.6 1049.1,519.4 1049.9,518.1 1050.7,516.9 1051.5,515.6 1052.3,514.3 1053.1,512.9 1053.9,511.6 1054.7,510.2 1055.5,508.8 1056.3,507.4 1057.1,506 1057.9,504.5 1058.7,503.1 1059.5,501.6 1060.3,500.2 1061.1,498.7 1061.9,497.2 1062.7,495.7 1063.5,494.3 1064.3,492.8 1065.1,491.4 1065.9,489.9 1066.7,488.5 1067.5,487.1 1068.3,485.7 1069.1,484.3 1069.9,482.9 1070.7,481.6 1071.5,480.3 1072.3,479 1073.1,477.8 1073.9,476.6 1074.7,475.5 1075.5,474.3 1076.3,473.3 1077.1,472.3 1077.9,471.3 1078.7,470.4 1079.5,469.6 1080.3,468.8 1081.1,468 1081.9,467.4 1082.7,466.8 1083.5,466.3 1084.3,465.8 1085.1,465.4 1085.9,465.1 1086.7,464.8 1087.5,464.6 1088.3,464.5 1089.1,464.5 1089.9,464.5 1090.7,464.7 1091.5,464.8 1092.3,465.1 1093.1,465.4 1093.9,465.9 1094.7,466.3 1095.5,466.9 1096.3,467.5 1097.1,468.2 1097.9,468.9 1098.7,469.7 1099.5,470.6 1100.3,471.5 1101.1,472.5 1101.9,473.6 1102.7,474.7 1103.5,475.8 1104.3,477 1105.1,478.3 1105.9,479.6 1106.7,480.9 1107.5,482.3 1108.3,483.7 1109.1,485.1 1109.9,486.6 1110.7,488.1 1111.5,489.6 1112.3,491.1 1113.1,492.7 1113.9,494.2 1114.7,495.8 1115.5,497.4 1116.3,499 1117.1,500.5 1117.9,502.1 1118.7,503.7 1119.5,505.3 1120.3,506.9 1121.1,508.4 1121.9,509.9 1122.7,511.5 1123.5,513 1124.3,514.5 1125.1,515.9 1125.9,517.4 1126.7,518.8 1127.5,520.2 1128.3,521.6 1129.1,522.9 1129.9,524.2 1130.7,525.5 1131.5,526.8 1132.3,528 1133.1,529.2 1133.9,530.4 1134.7,531.5 1135.5,532.6 1136.3,533.7 1137.1,534.7 1137.9,535.7 1138.7,536.7 1139.5,537.7 1140.3,538.6 1141.1,539.4 1141.9,540.3 1142.7,541.1 1143.5,541.9 1144.3,542.6 1145.1,543.3 1145.9,544 1146.7,544.7 1147.5,545.3 1148.3,545.9 1149.1,546.5 1149.9,547 1150.7,547.5 1151.5,548 1152.3,548.5 1153.1,549 1153.9,549.4 1154.7,549.8 1155.5,550.2 1156.3,550.5 1157.1,550.9 1157.9,551.2 1158.7,551.5 1159.5,551.8 1160.3,552.1 1161.1,552.3 1161.9,552.6 1162.7,552.8 1163.5,553 1164.3,553.2 1165.1,553.4 1165.9,553.6 1166.7,553.7 1167.5,553.9 1168.3,554 1169.1,554.2 1169.9,554.3 1170.7,554.4 1171.5,554.5 1172.3,554.6 1173.1,554.7 1173.9,554.8 1174.7,554.9 1175.5,555 1176.3,555 1177.1,555.1 1177.9,555.2 1178.7,555.2 1179.5,555.3 1180.3,555.3 1181.1,555.4 1181.9,555.4 1182.7,555.5 1183.5,555.5 1184.3,555.5 1185.1,555.6 1185.9,555.6 1186.7,555.6 1187.5,555.7 1188.3,555.7 1189.1,555.7 1189.9,555.7" fill="none" stroke="#a81c1c" stroke-width="1.4" stroke-linejoin="round" />
<polyline points="878.7,544.9 879.5,544.9 880.3,544.9 881.1,544.9 881.9,544.9 882.7,544.9 883.5,544.9 884.3,544.9 885.1,544.9 885.9,544.9 886.7,544.9 887.5,544.9 888.3,544.9 889.1,544.9 889.9,544.9 890.7,544.9 891.5,544.9 892.3,544.9 893.1,544.9 893.9,544.9 894.7,544.9 895.5,544.9 896.3,544.9 897.1,544.9 897.9,544.9 898.7,544.9 899.5,544.9 900.3,544.9 901.1,544.9 901.9,544.9 902.7,544.9 903.5,544.9 904.3,544.9 905.1,544.9 905.9,544.9 906.7,544.9 907.5,544.9 908.3,544.9 909.1,544.9 909.9,544.9 910.7,544.9 911.5,544.9 912.3,544.9 913.1,544.9 913.9,544.9 914.7,544.9 915.5,544.9 916.3,544.9 917.1,544.9 917.9,544.9 918.7,544.9 919.5,544.9 920.3,544.9 921.1,544.9 921.9,544.9 922.7,544.9 923.5,544.9 924.3,544.9 925.1,544.9 925.9,544.9 926.7,544.9 927.5,544.9 928.3,544.9 929.1,544.9 929.9,544.9 930.7,544.8 931.5,544.8 932.3,544.8 933.1,544.8 933.9,544.8 934.7,544.7 935.5,544.7 936.3,544.7 937.1,544.6 937.9,544.6 938.7,544.5 939.5,544.5 940.3,544.4 941.1,544.3 941.9,544.2 942.7,544.1 943.5,544 944.3,543.9 945.1,543.8 945.9,543.7 946.7,543.5 947.5,543.3 948.3,543.1 949.1,542.9 949.9,542.7 950.7,542.5 951.5,542.2 952.3,541.9 953.1,541.6 953.9,541.2 954.7,540.9 955.5,540.5 956.3,540 957.1,539.6 957.9,539.1 958.7,538.5 959.5,538 960.3,537.3 961.1,536.7 961.9,536 962.7,535.3 963.5,534.5 964.3,533.7 965.1,532.8 965.9,531.9 966.7,530.9 967.5,530 968.3,528.9 969.1,527.8 969.9,526.7 970.7,525.6 971.5,524.4 972.3,523.1 973.1,521.8 973.9,520.5 974.7,519.2 975.5,517.8 976.3,516.4 977.1,515 977.9,513.5 978.7,512.1 979.5,510.6 980.3,509.1 981.1,507.6 981.9,506.1 982.7,504.6 983.5,503.1 984.3,501.7 985.1,500.2 985.9,498.8 986.7,497.3 987.5,495.9 988.3,494.6 989.1,493.3 989.9,492 990.7,490.8 991.5,489.6 992.3,488.4 993.1,487.3 993.9,486.3 994.7,485.3 995.5,484.3 996.3,483.4 997.1,482.6 997.9,481.8 998.7,481 999.5,480.3 1000.3,479.7 1001.1,479.1 1001.9,478.5 1002.7,478 1003.5,477.5 1004.3,477.1 1005.1,476.7 1005.9,476.3 1006.7,476 1007.5,475.7 1008.3,475.4 1009.1,475.2 1009.9,474.9 1010.7,474.7 1011.5,474.5 1012.3,474.2 1013.1,473.9 1013.9,473.6 1014.7,473.3 1015.5,472.9 1016.3,472.4 1017.1,471.8 1017.9,471.1 1018.7,470.3 1019.5,469.4 1020.3,468.4 1021.1,467.2 1021.9,465.9 1022.7,464.4 1023.5,462.8 1024.3,461 1025.1,459.1 1025.9,457 1026.7,454.8 1027.5,452.4 1028.3,450 1029.1,447.4 1029.9,444.7 1030.7,442 1031.5,439.2 1032.3,436.4 1033.1,433.6 1033.9,430.8 1034.7,428 1035.5,425.3 1036.3,422.6 1037.1,420.1 1037.9,417.6 1038.7,415.3 1039.5,413.2 1040.3,411.2 1041.1,409.4 1041.9,407.8 1042.7,406.4 1043.5,405.2 1044.3,404.2 1045.1,403.5 1045.9,403 1046.7,402.7 1047.5,402.6 1048.3,402.7 1049.1,403 1049.9,403.6 1050.7,404.3 1051.5,405.2 1052.3,406.3 1053.1,407.5 1053.9,408.8 1054.7,410.3 1055.5,411.9 1056.3,413.6 1057.1,415.3 1057.9,417.2 1058.7,419 1059.5,420.9 1060.3,422.8 1061.1,424.8 1061.9,426.7 1062.7,428.6 1063.5,430.4 1064.3,432.2 1065.1,434 1065.9,435.7 1066.7,437.4 1067.5,439 1068.3,440.5 1069.1,441.9 1069.9,443.3 1070.7,444.5 1071.5,445.7 1072.3,446.9 1073.1,447.9 1073.9,448.9 1074.7,449.8 1075.5,450.6 1076.3,451.4 1077.1,452.2 1077.9,452.8 1078.7,453.4 1079.5,454 1080.3,454.6 1081.1,455.1 1081.9,455.6 1082.7,456.1 1083.5,456.5 1084.3,457 1085.1,457.4 1085.9,457.9 1086.7,458.3 1087.5,458.8 1088.3,459.3 1089.1,459.8 1089.9,460.4 1090.7,460.9 1091.5,461.5 1092.3,462.2 1093.1,462.8 1093.9,463.5 1094.7,464.3 1095.5,465.1 1096.3,465.9 1097.1,466.8 1097.9,467.7 1098.7,468.7 1099.5,469.7 1100.3,470.7 1101.1,471.8 1101.9,473 1102.7,474.2 1103.5,475.4 1104.3,476.7 1105.1,478 1105.9,479.3 1106.7,480.7 1107.5,482.1 1108.3,483.5 1109.1,485 1109.9,486.5 1110.7,488 1111.5,489.5 1112.3,491 1113.1,492.6 1113.9,494.2 1114.7,495.8 1115.5,497.3 1116.3,498.9 1117.1,500.5 1117.9,502.1 1118.7,503.7 1119.5,505.3 1120.3,506.8 1121.1,508.4 1121.9,509.9 1122.7,511.5 1123.5,513 1124.3,514.5 1125.1,515.9 1125.9,517.4 1126.7,518.8 1127.5,520.2 1128.3,521.6 1129.1,522.9 1129.9,524.2 1130.7,525.5 1131.5,526.8 1132.3,528 1133.1,529.2 1133.9,530.4 1134.7,531.5 1135.5,532.6 1136.3,533.7 1137.1,534.7 1137.9,535.7 1138.7,536.7 1139.5,537.7 1140.3,538.6 1141.1,539.4 1141.9,540.3 1142.7,541.1 1143.5,541.9 1144.3,542.6 1145.1,543.3 1145.9,544 1146.7,544.7 1147.5,545.3 1148.3,545.9 1149.1,546.5 1149.9,547 1150.7,547.5 1151.5,548 1152.3,548.5 1153.1,549 1153.9,549.4 1154.7,549.8 1155.5,550.2 1156.3,550.5 1157.1,550.9 1157.9,551.2 1158.7,551.5 1159.5,551.8 1160.3,552.1 1161.1,552.3 1161.9,552.6 1162.7,552.8 1163.5,553 1164.3,553.2 1165.1,553.4 1165.9,553.6 1166.7,553.7 1167.5,553.9 1168.3,554 1169.1,554.2 1169.9,554.3 1170.7,554.4 1171.5,554.5 1172.3,554.6 1173.1,554.7 1173.9,554.8 1174.7,554.9 1175.5,555 1176.3,555 1177.1,555.1 1177.9,555.2 1178.7,555.2 1179.5,555.3 1180.3,555.3 1181.1,555.4 1181.9,555.4 1182.7,555.5 1183.5,555.5 1184.3,555.5 1185.1,555.6 1185.9,555.6 1186.7,555.6 1187.5,555.7 1188.3,555.7 1189.1,555.7 1189.9,555.7 1190.7,555.7 1191.5,555.8 1192.3,555.8 1193.1,555.8 1193.9,555.8 1194.7,555.8 1195.5,555.9 1196.3,555.9 1197.1,555.9 1197.9,555.9 1198.7,555.9 1199.5,555.9 1200.3,555.9 1201.1,555.9 1201.9,556 1202.7,556 1203.5,556 1204.3,556 1205.1,556 1205.9,556 1206.7,556 1207.5,556 1208.3,556 1209.1,556 1209.9,556.1 1210.7,556.1 1211.5,556.1" fill="none" stroke="#111" stroke-width="1.4" stroke-linejoin="round" />
<rect x="878.4" y="330" width="333.8" height="248" fill="none" stroke="#222" stroke-width="1.2"/>
<path d="M878.4 578v5M989.7 578v5M1100.9 578v5M1212.2 578v5" stroke="#222" stroke-width="1.1" fill="none"/>
<path d="M934 578v2.6M1045.3 578v2.6M1156.6 578v2.6" stroke="#222" stroke-width="1.1" fill="none"/>
<text x="878.4" y="597.8" font-family='"Liberation Serif", "DejaVu Serif", serif' font-size="14.7" font-weight="normal" text-anchor="middle" fill="#000" >58</text>
<text x="989.7" y="597.8" font-family='"Liberation Serif", "DejaVu Serif", serif' font-size="14.7" font-weight="normal" text-anchor="middle" fill="#000" >56</text>
<text x="1100.9" y="597.8" font-family='"Liberation Serif", "DejaVu Serif", serif' font-size="14.7" font-weight="normal" text-anchor="middle" fill="#000" >54</text>
<text x="1212.2" y="597.8" font-family='"Liberation Serif", "DejaVu Serif", serif' font-size="14.7" font-weight="normal" text-anchor="middle" fill="#000" >52</text>
<text x="1045" y="623" font-family='"Liberation Serif", "DejaVu Serif", serif' font-size="15.1" font-weight="normal" text-anchor="middle" fill="#000" >Binding Energy (eV)</text>
<text x="857" y="449.9" font-family='"Liberation Serif", "DejaVu Serif", serif' font-size="15.0" font-weight="normal" text-anchor="middle" fill="#000" transform="rotate(-90 857 449.9)" >Intensity (a.u)</text>
<line x1="904" y1="380.8" x2="932.2" y2="380.8" stroke="#8a8a8a" stroke-width="0.9" stroke-dasharray="1 1"/>
<line x1="904" y1="399.7" x2="932.2" y2="399.7" stroke="#1c1c8c" stroke-width="1.3" />
<line x1="904" y1="418.5" x2="932.2" y2="418.5" stroke="#b03030" stroke-width="1.3" />
<text x="936.3" y="385.4" font-family='"Liberation Serif", "DejaVu Serif", serif' font-size="15" font-weight="normal" text-anchor="start" fill="#000" >Raw data</text>
<text x="936.3" y="404.2" font-family='"Liberation Serif", "DejaVu Serif", serif' font-size="15" font-weight="normal" text-anchor="start" fill="#000" >2H</text>
<text x="936.3" y="422.9" font-family='"Liberation Serif", "DejaVu Serif", serif' font-size="15" font-weight="normal" text-anchor="start" fill="#000" >1T</text>
<text x="1156.4" y="385.4" font-family='"Liberation Serif", "DejaVu Serif", serif' font-size="15" font-weight="normal" text-anchor="start" fill="#000" >Se3d</text>
</g>
</svg>
</body></html>
